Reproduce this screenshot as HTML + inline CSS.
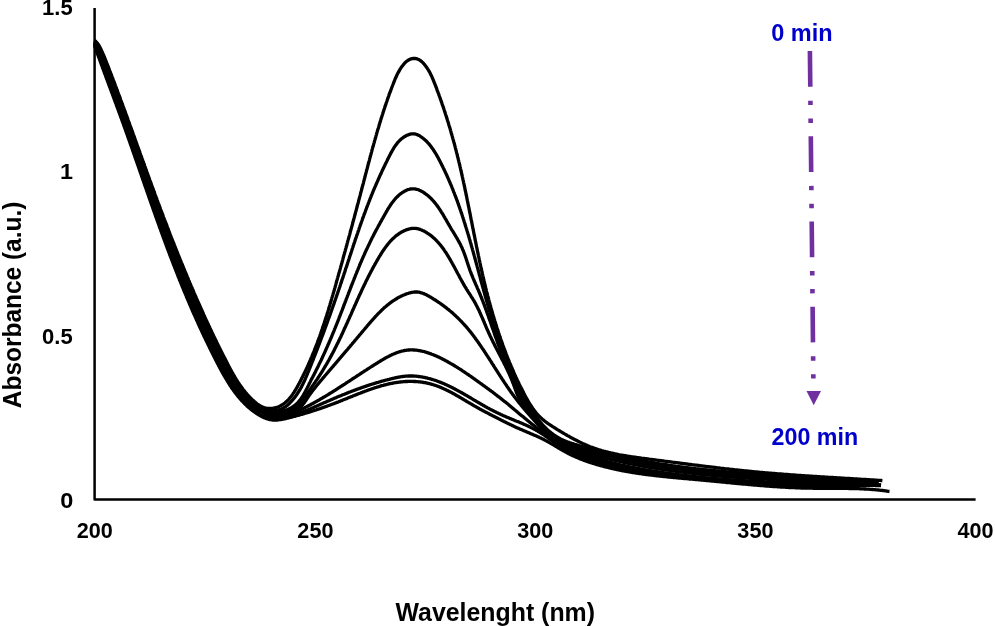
<!DOCTYPE html>
<html><head><meta charset="utf-8"><title>UV-Vis spectra</title>
<style>
html,body{margin:0;padding:0;background:#fff;}
body{width:995px;height:626px;overflow:hidden;}
svg{display:block;will-change:transform;}
text{font-family:"Liberation Sans",sans-serif;font-weight:bold;}
</style></head><body>
<svg width="995" height="626" viewBox="0 0 995 626">
<rect width="995" height="626" fill="#fff"/>
<g fill="none" stroke="#000" stroke-width="3.3" stroke-linejoin="round" stroke-linecap="butt">
<path d="M94.5,40.3 L95.3,41.0 L96.1,41.8 L96.8,42.6 L97.5,43.4 L98.1,44.3 L98.7,45.1 L99.3,46.1 L99.8,47.0 L100.3,48.0 L100.8,48.9 L101.2,49.9 L101.7,50.9 L102.1,51.9 L102.6,52.9 L103.0,53.9 L103.5,54.9 L103.9,55.9 L104.3,56.9 L104.7,57.9 L105.1,59.0 L105.6,60.0 L106.0,61.0 L106.4,62.0 L106.8,63.1 L107.2,64.1 L107.6,65.1 L108.0,66.2 L108.4,67.2 L108.8,68.2 L109.2,69.2 L109.6,70.3 L110.0,71.3 L110.4,72.3 L110.8,73.4 L111.2,74.4 L111.6,75.4 L112.0,76.5 L112.4,77.5 L112.8,78.5 L113.2,79.6 L113.6,80.6 L113.9,81.6 L114.3,82.7 L114.7,83.7 L115.1,84.7 L115.5,85.8 L115.9,86.8 L116.3,87.8 L116.7,88.9 L117.1,89.9 L117.5,91.0 L117.8,92.0 L118.2,93.0 L118.6,94.1 L119.0,95.1 L119.4,96.1 L119.8,97.2 L120.2,98.2 L120.5,99.2 L120.9,100.3 L121.3,101.3 L121.7,102.4 L122.1,103.4 L122.5,104.4 L122.8,105.5 L123.2,106.5 L123.6,107.5 L124.0,108.6 L124.4,109.6 L124.7,110.7 L125.1,111.7 L125.5,112.7 L125.9,113.8 L126.3,114.8 L126.6,115.9 L127.0,116.9 L127.4,117.9 L127.8,119.0 L128.1,120.0 L128.5,121.1 L128.9,122.1 L129.3,123.1 L129.7,124.2 L130.0,125.2 L130.4,126.3 L130.8,127.3 L131.2,128.3 L131.5,129.4 L131.9,130.4 L132.3,131.4 L132.7,132.5 L133.0,133.5 L133.4,134.6 L133.8,135.6 L134.2,136.6 L134.5,137.7 L134.9,138.7 L135.3,139.8 L135.7,140.8 L136.0,141.8 L136.4,142.9 L136.8,143.9 L137.1,145.0 L137.5,146.0 L137.9,147.0 L138.3,148.1 L138.6,149.1 L139.0,150.2 L139.4,151.2 L139.8,152.2 L140.1,153.3 L140.5,154.3 L140.9,155.4 L141.3,156.4 L141.6,157.4 L142.0,158.5 L142.4,159.5 L142.8,160.6 L143.1,161.6 L143.5,162.6 L143.9,163.7 L144.3,164.7 L144.6,165.8 L145.0,166.8 L145.4,167.8 L145.8,168.9 L146.1,169.9 L146.5,170.9 L146.9,172.0 L147.3,173.0 L147.6,174.1 L148.0,175.1 L148.4,176.1 L148.8,177.2 L149.1,178.2 L149.5,179.2 L149.9,180.3 L150.3,181.3 L150.7,182.4 L151.0,183.4 L151.4,184.4 L151.8,185.5 L152.2,186.5 L152.6,187.5 L152.9,188.6 L153.3,189.6 L153.7,190.6 L154.1,191.7 L154.5,192.7 L154.8,193.7 L155.2,194.8 L155.6,195.8 L156.0,196.9 L156.4,197.9 L156.8,198.9 L157.1,200.0 L157.5,201.0 L157.9,202.0 L158.3,203.1 L158.7,204.1 L159.1,205.1 L159.5,206.2 L159.8,207.2 L160.2,208.2 L160.6,209.3 L161.0,210.3 L161.4,211.3 L161.8,212.3 L162.2,213.4 L162.6,214.4 L162.9,215.4 L163.3,216.5 L163.7,217.5 L164.1,218.5 L164.5,219.6 L164.9,220.6 L165.3,221.6 L165.7,222.7 L166.1,223.7 L166.5,224.7 L166.9,225.7 L167.3,226.8 L167.7,227.8 L168.1,228.8 L168.4,229.9 L168.8,230.9 L169.2,231.9 L169.6,232.9 L170.0,234.0 L170.4,235.0 L170.8,236.0 L171.2,237.0 L171.6,238.1 L172.0,239.1 L172.4,240.1 L172.8,241.1 L173.2,242.2 L173.7,243.2 L174.1,244.2 L174.5,245.3 L174.9,246.3 L175.3,247.3 L175.7,248.3 L176.1,249.3 L176.5,250.4 L176.9,251.4 L177.3,252.4 L177.7,253.4 L178.1,254.5 L178.5,255.5 L179.0,256.5 L179.4,257.5 L179.8,258.6 L180.2,259.6 L180.6,260.6 L181.0,261.6 L181.4,262.6 L181.9,263.7 L182.3,264.7 L182.7,265.7 L183.1,266.7 L183.5,267.7 L183.9,268.8 L184.4,269.8 L184.8,270.8 L185.2,271.8 L185.6,272.8 L186.1,273.9 L186.5,274.9 L186.9,275.9 L187.3,276.9 L187.8,277.9 L188.2,278.9 L188.6,280.0 L189.0,281.0 L189.5,282.0 L189.9,283.0 L190.3,284.0 L190.8,285.0 L191.2,286.1 L191.6,287.1 L192.1,288.1 L192.5,289.1 L192.9,290.1 L193.4,291.1 L193.8,292.1 L194.2,293.1 L194.7,294.2 L195.1,295.2 L195.6,296.2 L196.0,297.2 L196.4,298.2 L196.9,299.2 L197.3,300.2 L197.8,301.2 L198.2,302.3 L198.7,303.3 L199.1,304.3 L199.6,305.3 L200.0,306.3 L200.5,307.3 L200.9,308.3 L201.4,309.3 L201.8,310.3 L202.3,311.3 L202.7,312.3 L203.2,313.3 L203.6,314.4 L204.1,315.4 L204.6,316.4 L205.0,317.4 L205.5,318.4 L205.9,319.4 L206.4,320.4 L206.9,321.4 L207.3,322.4 L207.8,323.4 L208.3,324.4 L208.7,325.4 L209.2,326.4 L209.7,327.4 L210.1,328.4 L210.6,329.4 L211.1,330.4 L211.6,331.4 L212.0,332.4 L212.5,333.4 L213.0,334.4 L213.5,335.4 L213.9,336.4 L214.4,337.4 L214.9,338.4 L215.4,339.4 L215.9,340.4 L216.4,341.4 L216.8,342.4 L217.3,343.4 L217.8,344.4 L218.3,345.4 L218.8,346.4 L219.3,347.4 L219.8,348.4 L220.3,349.4 L220.8,350.4 L221.3,351.4 L221.8,352.4 L222.3,353.4 L222.8,354.4 L223.3,355.4 L223.8,356.4 L224.3,357.4 L224.8,358.3 L225.3,359.3 L225.8,360.3 L226.3,361.3 L226.8,362.3 L227.3,363.3 L227.8,364.3 L228.3,365.3 L228.8,366.3 L229.4,367.2 L229.9,368.2 L230.4,369.2 L230.9,370.2 L231.5,371.2 L232.0,372.1 L232.6,373.1 L233.1,374.1 L233.7,375.0 L234.2,376.0 L234.8,376.9 L235.3,377.9 L235.9,378.8 L236.5,379.8 L237.1,380.7 L237.7,381.7 L238.3,382.6 L238.9,383.5 L239.5,384.4 L240.1,385.3 L240.8,386.2 L241.4,387.1 L242.1,388.0 L242.7,388.9 L243.4,389.8 L244.1,390.6 L244.8,391.5 L245.4,392.3 L246.2,393.2 L246.9,394.0 L247.6,394.8 L248.3,395.7 L249.1,396.5 L249.9,397.3 L250.6,398.1 L251.4,398.8 L252.2,399.6 L253.0,400.4 L253.9,401.1 L254.7,401.9 L255.6,402.6 L256.4,403.3 L257.3,404.0 L258.2,404.6 L259.1,405.3 L260.1,405.8 L261.0,406.4 L262.0,406.8 L263.0,407.2 L264.0,407.6 L265.1,407.9 L266.1,408.1 L267.1,408.3 L268.2,408.4 L269.3,408.4 L270.3,408.4 L271.4,408.4 L272.4,408.3 L273.5,408.1 L274.5,407.9 L275.6,407.7 L276.6,407.4 L277.6,407.1 L278.6,406.7 L279.5,406.3 L280.5,405.8 L281.4,405.3 L282.3,404.8 L283.1,404.2 L284.0,403.6 L284.8,403.0 L285.6,402.3 L286.4,401.6 L287.2,400.9 L287.9,400.1 L288.7,399.3 L289.4,398.5 L290.1,397.7 L290.8,396.8 L291.5,396.0 L292.1,395.1 L292.8,394.1 L293.4,393.2 L294.0,392.3 L294.6,391.3 L295.2,390.3 L295.8,389.4 L296.4,388.4 L297.0,387.4 L297.5,386.4 L298.1,385.3 L298.6,384.3 L299.2,383.3 L299.7,382.3 L300.3,381.3 L300.8,380.2 L301.3,379.2 L301.8,378.2 L302.4,377.2 L302.9,376.1 L303.4,375.1 L303.9,374.1 L304.4,373.1 L304.9,372.0 L305.4,371.0 L305.8,370.0 L306.3,369.0 L306.8,367.9 L307.3,366.9 L307.7,365.9 L308.2,364.9 L308.7,363.8 L309.1,362.8 L309.6,361.8 L310.0,360.8 L310.5,359.7 L310.9,358.7 L311.3,357.7 L311.8,356.6 L312.2,355.6 L312.6,354.6 L313.1,353.6 L313.5,352.5 L313.9,351.5 L314.3,350.5 L314.7,349.4 L315.1,348.4 L315.5,347.4 L315.9,346.3 L316.3,345.3 L316.7,344.3 L317.1,343.3 L317.5,342.2 L317.9,341.2 L318.3,340.2 L318.6,339.1 L319.0,338.1 L319.4,337.1 L319.8,336.0 L320.1,335.0 L320.5,334.0 L320.9,332.9 L321.2,331.9 L321.6,330.9 L321.9,329.8 L322.3,328.8 L322.6,327.7 L323.0,326.7 L323.3,325.7 L323.7,324.6 L324.0,323.6 L324.4,322.6 L324.7,321.5 L325.0,320.5 L325.4,319.4 L325.7,318.4 L326.0,317.4 L326.4,316.3 L326.7,315.3 L327.0,314.2 L327.4,313.2 L327.7,312.2 L328.0,311.1 L328.3,310.1 L328.6,309.0 L328.9,308.0 L329.3,306.9 L329.6,305.9 L329.9,304.9 L330.2,303.8 L330.5,302.8 L330.8,301.7 L331.1,300.7 L331.4,299.6 L331.7,298.6 L332.0,297.5 L332.4,296.5 L332.7,295.4 L333.0,294.4 L333.3,293.3 L333.6,292.3 L333.9,291.2 L334.2,290.2 L334.5,289.1 L334.8,288.1 L335.1,287.0 L335.4,286.0 L335.7,284.9 L336.0,283.9 L336.3,282.8 L336.5,281.8 L336.8,280.7 L337.1,279.7 L337.4,278.6 L337.7,277.6 L338.0,276.5 L338.3,275.5 L338.6,274.4 L338.9,273.3 L339.2,272.3 L339.5,271.2 L339.8,270.2 L340.1,269.1 L340.4,268.1 L340.7,267.0 L341.0,265.9 L341.3,264.9 L341.6,263.8 L341.9,262.8 L342.2,261.7 L342.5,260.6 L342.8,259.6 L343.0,258.5 L343.3,257.5 L343.6,256.4 L343.9,255.3 L344.2,254.3 L344.5,253.2 L344.8,252.1 L345.1,251.1 L345.4,250.0 L345.7,248.9 L346.0,247.9 L346.3,246.8 L346.6,245.7 L346.9,244.7 L347.1,243.6 L347.4,242.6 L347.7,241.5 L348.0,240.4 L348.3,239.4 L348.6,238.3 L348.9,237.2 L349.2,236.1 L349.5,235.1 L349.8,234.0 L350.1,232.9 L350.3,231.9 L350.6,230.8 L350.9,229.7 L351.2,228.7 L351.5,227.6 L351.8,226.5 L352.1,225.5 L352.4,224.4 L352.7,223.3 L352.9,222.3 L353.2,221.2 L353.5,220.1 L353.8,219.0 L354.1,218.0 L354.4,216.9 L354.7,215.8 L355.0,214.8 L355.2,213.7 L355.5,212.6 L355.8,211.5 L356.1,210.5 L356.4,209.4 L356.7,208.3 L357.0,207.3 L357.2,206.2 L357.5,205.1 L357.8,204.0 L358.1,203.0 L358.4,201.9 L358.7,200.8 L358.9,199.8 L359.2,198.7 L359.5,197.6 L359.8,196.5 L360.1,195.5 L360.4,194.4 L360.6,193.3 L360.9,192.2 L361.2,191.2 L361.5,190.1 L361.8,189.0 L362.0,188.0 L362.3,186.9 L362.6,185.8 L362.9,184.7 L363.2,183.7 L363.5,182.6 L363.7,181.5 L364.0,180.5 L364.3,179.4 L364.6,178.3 L364.9,177.2 L365.1,176.2 L365.4,175.1 L365.7,174.0 L366.0,172.9 L366.3,171.9 L366.5,170.8 L366.8,169.7 L367.1,168.7 L367.4,167.6 L367.7,166.5 L367.9,165.5 L368.2,164.4 L368.5,163.3 L368.8,162.2 L369.1,161.2 L369.4,160.1 L369.6,159.0 L369.9,158.0 L370.2,156.9 L370.5,155.8 L370.8,154.8 L371.1,153.7 L371.4,152.6 L371.7,151.6 L371.9,150.5 L372.2,149.4 L372.5,148.4 L372.8,147.3 L373.1,146.2 L373.4,145.2 L373.7,144.1 L374.0,143.1 L374.3,142.0 L374.6,140.9 L374.9,139.9 L375.2,138.8 L375.5,137.7 L375.8,136.7 L376.1,135.6 L376.4,134.6 L376.7,133.5 L377.0,132.4 L377.3,131.4 L377.6,130.3 L377.9,129.3 L378.3,128.2 L378.6,127.2 L378.9,126.1 L379.2,125.0 L379.5,124.0 L379.8,122.9 L380.2,121.9 L380.5,120.8 L380.8,119.8 L381.1,118.7 L381.5,117.7 L381.8,116.6 L382.1,115.6 L382.5,114.5 L382.8,113.5 L383.1,112.4 L383.5,111.4 L383.8,110.3 L384.1,109.3 L384.5,108.3 L384.8,107.2 L385.2,106.2 L385.5,105.1 L385.9,104.1 L386.2,103.0 L386.6,102.0 L387.0,101.0 L387.3,99.9 L387.7,98.9 L388.0,97.8 L388.4,96.8 L388.8,95.8 L389.1,94.7 L389.5,93.7 L389.9,92.7 L390.3,91.6 L390.7,90.6 L391.0,89.6 L391.4,88.6 L391.8,87.5 L392.2,86.5 L392.6,85.5 L393.0,84.5 L393.4,83.4 L393.8,82.4 L394.2,81.4 L394.6,80.4 L395.0,79.3 L395.5,78.3 L395.9,77.3 L396.4,76.3 L396.8,75.3 L397.3,74.3 L397.8,73.3 L398.3,72.4 L398.9,71.4 L399.4,70.4 L400.0,69.4 L400.6,68.5 L401.2,67.5 L401.9,66.6 L402.6,65.7 L403.3,64.8 L404.0,63.9 L404.8,63.0 L405.6,62.2 L406.4,61.5 L407.3,60.8 L408.2,60.2 L409.1,59.7 L410.1,59.2 L411.1,58.9 L412.1,58.6 L413.1,58.5 L414.2,58.4 L415.2,58.5 L416.2,58.6 L417.2,58.9 L418.1,59.3 L419.1,59.7 L420.0,60.3 L420.8,60.9 L421.7,61.6 L422.5,62.4 L423.3,63.2 L424.1,64.1 L424.8,65.0 L425.6,65.9 L426.2,66.8 L426.9,67.8 L427.5,68.7 L428.1,69.7 L428.7,70.6 L429.3,71.6 L429.8,72.6 L430.3,73.6 L430.8,74.6 L431.3,75.5 L431.8,76.5 L432.2,77.5 L432.6,78.6 L433.1,79.6 L433.5,80.6 L433.9,81.6 L434.3,82.6 L434.7,83.6 L435.1,84.6 L435.5,85.7 L435.9,86.7 L436.3,87.7 L436.7,88.7 L437.0,89.8 L437.4,90.8 L437.8,91.8 L438.2,92.9 L438.6,93.9 L438.9,94.9 L439.3,96.0 L439.7,97.0 L440.1,98.0 L440.4,99.1 L440.8,100.1 L441.2,101.1 L441.5,102.2 L441.9,103.2 L442.2,104.3 L442.6,105.3 L443.0,106.3 L443.3,107.4 L443.7,108.4 L444.0,109.5 L444.4,110.5 L444.7,111.6 L445.1,112.6 L445.4,113.7 L445.7,114.7 L446.1,115.8 L446.4,116.8 L446.7,117.9 L447.1,118.9 L447.4,120.0 L447.7,121.0 L448.1,122.1 L448.4,123.1 L448.7,124.2 L449.0,125.3 L449.3,126.3 L449.7,127.4 L450.0,128.4 L450.3,129.5 L450.6,130.6 L450.9,131.6 L451.2,132.7 L451.5,133.7 L451.8,134.8 L452.1,135.9 L452.4,136.9 L452.7,138.0 L453.0,139.1 L453.3,140.1 L453.6,141.2 L453.9,142.3 L454.2,143.3 L454.5,144.4 L454.8,145.5 L455.1,146.5 L455.3,147.6 L455.6,148.7 L455.9,149.8 L456.2,150.8 L456.4,151.9 L456.7,153.0 L457.0,154.0 L457.3,155.1 L457.5,156.2 L457.8,157.3 L458.1,158.3 L458.3,159.4 L458.6,160.5 L458.8,161.6 L459.1,162.6 L459.4,163.7 L459.6,164.8 L459.9,165.9 L460.1,166.9 L460.4,168.0 L460.6,169.1 L460.9,170.2 L461.1,171.2 L461.4,172.3 L461.6,173.4 L461.8,174.5 L462.1,175.5 L462.3,176.6 L462.6,177.7 L462.8,178.8 L463.0,179.9 L463.3,180.9 L463.5,182.0 L463.7,183.1 L464.0,184.2 L464.2,185.3 L464.4,186.3 L464.7,187.4 L464.9,188.5 L465.1,189.6 L465.3,190.7 L465.6,191.7 L465.8,192.8 L466.0,193.9 L466.2,195.0 L466.5,196.1 L466.7,197.1 L466.9,198.2 L467.1,199.3 L467.3,200.4 L467.6,201.5 L467.8,202.6 L468.0,203.6 L468.2,204.7 L468.4,205.8 L468.7,206.9 L468.9,208.0 L469.1,209.1 L469.3,210.1 L469.5,211.2 L469.7,212.3 L470.0,213.4 L470.2,214.5 L470.4,215.5 L470.6,216.6 L470.8,217.7 L471.0,218.8 L471.2,219.9 L471.5,221.0 L471.7,222.0 L471.9,223.1 L472.1,224.2 L472.3,225.3 L472.5,226.4 L472.7,227.5 L472.9,228.5 L473.2,229.6 L473.4,230.7 L473.6,231.8 L473.8,232.9 L474.0,234.0 L474.2,235.0 L474.5,236.1 L474.7,237.2 L474.9,238.3 L475.1,239.4 L475.3,240.5 L475.5,241.5 L475.8,242.6 L476.0,243.7 L476.2,244.8 L476.4,245.9 L476.6,246.9 L476.9,248.0 L477.1,249.1 L477.3,250.2 L477.5,251.3 L477.7,252.3 L478.0,253.4 L478.2,254.5 L478.4,255.6 L478.7,256.7 L478.9,257.7 L479.1,258.8 L479.3,259.9 L479.6,261.0 L479.8,262.1 L480.0,263.1 L480.3,264.2 L480.5,265.3 L480.7,266.4 L481.0,267.5 L481.2,268.5 L481.5,269.6 L481.7,270.7 L481.9,271.8 L482.2,272.8 L482.4,273.9 L482.7,275.0 L482.9,276.1 L483.2,277.1 L483.4,278.2 L483.7,279.3 L483.9,280.4 L484.2,281.4 L484.4,282.5 L484.7,283.6 L484.9,284.7 L485.2,285.7 L485.5,286.8 L485.7,287.9 L486.0,288.9 L486.3,290.0 L486.5,291.1 L486.8,292.2 L487.1,293.2 L487.3,294.3 L487.6,295.4 L487.9,296.4 L488.2,297.5 L488.5,298.6 L488.7,299.6 L489.0,300.7 L489.3,301.8 L489.6,302.8 L489.9,303.9 L490.2,305.0 L490.5,306.0 L490.8,307.1 L491.1,308.2 L491.4,309.2 L491.7,310.3 L492.0,311.3 L492.3,312.4 L492.6,313.5 L492.9,314.5 L493.2,315.6 L493.5,316.7 L493.9,317.7 L494.2,318.8 L494.5,319.8 L494.8,320.9 L495.1,321.9 L495.5,323.0 L495.8,324.0 L496.1,325.1 L496.5,326.2 L496.8,327.2 L497.1,328.3 L497.5,329.3 L497.8,330.4 L498.2,331.4 L498.5,332.5 L498.9,333.5 L499.2,334.5 L499.6,335.6 L499.9,336.6 L500.3,337.7 L500.6,338.7 L501.0,339.8 L501.4,340.8 L501.7,341.9 L502.1,342.9 L502.5,343.9 L502.8,345.0 L503.2,346.0 L503.6,347.0 L504.0,348.1 L504.4,349.1 L504.8,350.2 L505.1,351.2 L505.5,352.2 L505.9,353.2 L506.3,354.3 L506.7,355.3 L507.1,356.3 L507.5,357.4 L507.9,358.4 L508.3,359.4 L508.8,360.4 L509.2,361.5 L509.6,362.5 L510.0,363.5 L510.4,364.5 L510.9,365.5 L511.3,366.6 L511.7,367.6 L512.2,368.6 L512.6,369.6 L513.0,370.6 L513.5,371.6 L513.9,372.6 L514.4,373.7 L514.8,374.7 L515.3,375.7 L515.7,376.7 L516.2,377.7 L516.7,378.7 L517.1,379.7 L517.6,380.7 L518.1,381.7 L518.6,382.7 L519.0,383.7 L519.5,384.7 L520.0,385.7 L520.5,386.7 L521.0,387.6 L521.5,388.6 L522.0,389.6 L522.5,390.6 L523.0,391.6 L523.5,392.6 L524.0,393.6 L524.5,394.5 L525.0,395.5 L525.6,396.5 L526.1,397.5 L526.6,398.4 L527.2,399.4 L527.7,400.4 L528.3,401.3 L528.8,402.3 L529.4,403.2 L530.0,404.2 L530.6,405.1 L531.2,406.0 L531.8,406.9 L532.4,407.9 L533.0,408.7 L533.6,409.6 L534.3,410.5 L534.9,411.4 L535.6,412.2 L536.3,413.1 L537.0,413.9 L537.7,414.7 L538.5,415.5 L539.2,416.3 L540.0,417.0 L540.8,417.8 L541.6,418.5 L542.4,419.2 L543.3,419.9 L544.1,420.6 L545.0,421.3 L545.8,422.0 L546.7,422.6 L547.6,423.3 L548.5,423.9 L549.4,424.5 L550.4,425.1 L551.3,425.7 L552.2,426.3 L553.2,426.9 L554.1,427.5 L555.1,428.1 L556.0,428.7 L556.9,429.3 L557.9,429.9 L558.8,430.5 L559.8,431.0 L560.8,431.6 L561.7,432.2 L562.7,432.8 L563.6,433.3 L564.6,433.9 L565.5,434.4 L566.5,435.0 L567.5,435.6 L568.4,436.1 L569.4,436.6 L570.3,437.2 L571.3,437.7 L572.3,438.2 L573.3,438.8 L574.2,439.3 L575.2,439.8 L576.2,440.3 L577.2,440.8 L578.1,441.3 L579.1,441.8 L580.1,442.3 L581.1,442.7 L582.1,443.2 L583.1,443.7 L584.1,444.1 L585.1,444.6 L586.1,445.0 L587.1,445.4 L588.1,445.9 L589.1,446.3 L590.1,446.7 L591.2,447.1 L592.2,447.4 L593.2,447.8 L594.2,448.2 L595.3,448.5 L596.3,448.9 L597.3,449.2 L598.4,449.6 L599.4,449.9 L600.5,450.2 L601.5,450.5 L602.6,450.8 L603.6,451.1 L604.7,451.4 L605.8,451.7 L606.8,451.9 L607.9,452.2 L609.0,452.5 L610.0,452.7 L611.1,453.0 L612.2,453.2 L613.2,453.4 L614.3,453.7 L615.4,453.9 L616.5,454.1 L617.6,454.3 L618.6,454.6 L619.7,454.8 L620.8,455.0 L621.9,455.2 L623.0,455.4 L624.1,455.5 L625.2,455.7 L626.3,455.9 L627.4,456.1 L628.5,456.3 L629.6,456.4 L630.7,456.6 L631.8,456.8 L632.9,456.9 L634.0,457.1 L635.1,457.2 L636.2,457.4 L637.3,457.6 L638.4,457.7 L639.5,457.9 L640.6,458.0 L641.7,458.2 L642.8,458.3 L643.9,458.4 L645.0,458.6 L646.1,458.7 L647.2,458.9 L648.3,459.0 L649.4,459.2 L650.5,459.3 L651.6,459.4 L652.7,459.6 L653.8,459.7 L654.9,459.9 L656.0,460.0 L657.1,460.2 L658.2,460.3 L659.3,460.4 L660.4,460.6 L661.5,460.7 L662.6,460.9 L663.7,461.0 L664.8,461.2 L665.9,461.3 L667.0,461.4 L668.1,461.6 L669.2,461.7 L670.3,461.9 L671.4,462.0 L672.5,462.2 L673.6,462.3 L674.7,462.4 L675.8,462.6 L676.9,462.7 L678.0,462.9 L679.1,463.0 L680.2,463.1 L681.3,463.3 L682.4,463.4 L683.5,463.6 L684.6,463.7 L685.7,463.9 L686.8,464.0 L687.9,464.1 L688.9,464.3 L690.0,464.4 L691.1,464.5 L692.2,464.7 L693.3,464.8 L694.4,465.0 L695.5,465.1 L696.6,465.2 L697.7,465.4 L698.8,465.5 L699.9,465.6 L701.0,465.8 L702.1,465.9 L703.2,466.1 L704.3,466.2 L705.3,466.3 L706.4,466.5 L707.5,466.6 L708.6,466.7 L709.7,466.9 L710.8,467.0 L711.9,467.1 L713.0,467.2 L714.1,467.4 L715.2,467.5 L716.3,467.6 L717.4,467.8 L718.5,467.9 L719.6,468.0 L720.6,468.2 L721.7,468.3 L722.8,468.4 L723.9,468.5 L725.0,468.7 L726.1,468.8 L727.2,468.9 L728.3,469.0 L729.4,469.1 L730.5,469.3 L731.6,469.4 L732.7,469.5 L733.8,469.6 L734.9,469.8 L736.0,469.9 L737.1,470.0 L738.1,470.1 L739.2,470.2 L740.3,470.3 L741.4,470.4 L742.5,470.6 L743.6,470.7 L744.7,470.8 L745.8,470.9 L746.9,471.0 L748.0,471.1 L749.1,471.2 L750.2,471.3 L751.3,471.4 L752.4,471.6 L753.5,471.7 L754.6,471.8 L755.7,471.9 L756.8,472.0 L757.9,472.1 L759.0,472.2 L760.1,472.3 L761.2,472.4 L762.3,472.5 L763.4,472.6 L764.5,472.7 L765.6,472.8 L766.7,472.9 L767.8,473.0 L768.9,473.1 L770.0,473.1 L771.1,473.2 L772.2,473.3 L773.3,473.4 L774.4,473.5 L775.5,473.6 L776.6,473.7 L777.7,473.8 L778.8,473.9 L779.9,474.0 L781.0,474.0 L782.1,474.1 L783.2,474.2 L784.3,474.3 L785.4,474.4 L786.5,474.5 L787.6,474.5 L788.7,474.6 L789.8,474.7 L790.9,474.8 L792.0,474.9 L793.1,474.9 L794.2,475.0 L795.3,475.1 L796.4,475.2 L797.5,475.3 L798.6,475.3 L799.7,475.4 L800.8,475.5 L801.9,475.6 L803.0,475.6 L804.1,475.7 L805.2,475.8 L806.3,475.9 L807.4,475.9 L808.5,476.0 L809.6,476.1 L810.8,476.2 L811.9,476.2 L813.0,476.3 L814.1,476.4 L815.2,476.4 L816.3,476.5 L817.4,476.6 L818.5,476.6 L819.6,476.7 L820.7,476.8 L821.8,476.9 L822.9,476.9 L824.0,477.0 L825.1,477.1 L826.2,477.1 L827.3,477.2 L828.4,477.3 L829.5,477.3 L830.6,477.4 L831.7,477.5 L832.8,477.5 L833.9,477.6 L835.0,477.7 L836.1,477.7 L837.3,477.8 L838.4,477.9 L839.5,477.9 L840.6,478.0 L841.7,478.1 L842.8,478.1 L843.9,478.2 L845.0,478.3 L846.1,478.3 L847.2,478.4 L848.3,478.5 L849.4,478.5 L850.5,478.6 L851.6,478.7 L852.7,478.7 L853.8,478.8 L854.9,478.9 L856.0,478.9 L857.1,479.0 L858.2,479.1 L859.3,479.1 L860.4,479.2 L861.5,479.3 L862.6,479.3 L863.7,479.4 L864.8,479.5 L865.9,479.5 L867.0,479.6 L868.1,479.7 L869.2,479.7 L870.3,479.8 L871.4,479.9 L872.5,479.9 L873.6,480.0 L874.7,480.1 L875.8,480.1 L876.9,480.2 L878.0,480.3 L879.1,480.3 L880.2,480.4 L881.3,480.5 L882.4,480.6"/>
<path d="M94.5,41.0 L95.2,41.7 L95.9,42.4 L96.5,43.2 L97.1,43.9 L97.7,44.7 L98.2,45.5 L98.8,46.3 L99.3,47.1 L99.8,48.0 L100.2,48.8 L100.7,49.7 L101.1,50.6 L101.5,51.5 L101.9,52.4 L102.3,53.3 L102.7,54.2 L103.1,55.2 L103.4,56.1 L103.8,57.1 L104.1,58.0 L104.5,59.0 L104.8,59.9 L105.2,60.9 L105.5,61.9 L105.8,62.8 L106.2,63.8 L106.5,64.7 L106.9,65.7 L107.2,66.6 L107.5,67.6 L107.9,68.6 L108.2,69.5 L108.6,70.5 L108.9,71.4 L109.3,72.4 L109.6,73.3 L110.0,74.3 L110.3,75.2 L110.7,76.2 L111.0,77.1 L111.4,78.0 L111.7,79.0 L112.1,79.9 L112.5,80.9 L112.8,81.8 L113.2,82.8 L113.5,83.7 L113.9,84.6 L114.2,85.6 L114.6,86.5 L115.0,87.5 L115.3,88.4 L115.7,89.3 L116.0,90.3 L116.4,91.2 L116.8,92.2 L117.1,93.1 L117.5,94.0 L117.8,95.0 L118.2,95.9 L118.6,96.8 L118.9,97.8 L119.3,98.7 L119.6,99.7 L120.0,100.6 L120.4,101.5 L120.7,102.5 L121.1,103.4 L121.5,104.3 L121.8,105.3 L122.2,106.2 L122.5,107.1 L122.9,108.1 L123.3,109.0 L123.6,109.9 L124.0,110.9 L124.3,111.8 L124.7,112.8 L125.0,113.7 L125.4,114.6 L125.8,115.6 L126.1,116.5 L126.5,117.4 L126.8,118.4 L127.2,119.3 L127.5,120.3 L127.9,121.2 L128.3,122.1 L128.6,123.1 L129.0,124.0 L129.3,125.0 L129.7,125.9 L130.0,126.8 L130.4,127.8 L130.7,128.7 L131.1,129.7 L131.4,130.6 L131.8,131.6 L132.1,132.5 L132.5,133.4 L132.8,134.4 L133.1,135.3 L133.5,136.3 L133.8,137.2 L134.2,138.2 L134.5,139.1 L134.9,140.1 L135.2,141.0 L135.6,141.9 L135.9,142.9 L136.2,143.8 L136.6,144.8 L136.9,145.7 L137.3,146.7 L137.6,147.6 L137.9,148.6 L138.3,149.5 L138.6,150.5 L139.0,151.4 L139.3,152.4 L139.6,153.3 L140.0,154.3 L140.3,155.2 L140.7,156.2 L141.0,157.1 L141.3,158.1 L141.7,159.0 L142.0,160.0 L142.3,160.9 L142.7,161.9 L143.0,162.8 L143.4,163.8 L143.7,164.7 L144.0,165.7 L144.4,166.6 L144.7,167.6 L145.0,168.5 L145.4,169.5 L145.7,170.4 L146.0,171.4 L146.4,172.3 L146.7,173.3 L147.1,174.2 L147.4,175.2 L147.7,176.1 L148.1,177.1 L148.4,178.0 L148.7,179.0 L149.1,179.9 L149.4,180.9 L149.7,181.8 L150.1,182.8 L150.4,183.7 L150.8,184.7 L151.1,185.6 L151.4,186.6 L151.8,187.5 L152.1,188.5 L152.4,189.4 L152.8,190.4 L153.1,191.3 L153.4,192.3 L153.8,193.2 L154.1,194.2 L154.5,195.1 L154.8,196.1 L155.1,197.0 L155.5,198.0 L155.8,199.0 L156.2,199.9 L156.5,200.9 L156.8,201.8 L157.2,202.8 L157.5,203.7 L157.9,204.7 L158.2,205.6 L158.5,206.5 L158.9,207.5 L159.2,208.4 L159.6,209.4 L159.9,210.3 L160.2,211.3 L160.6,212.2 L160.9,213.2 L161.3,214.1 L161.6,215.1 L162.0,216.0 L162.3,217.0 L162.7,217.9 L163.0,218.9 L163.3,219.8 L163.7,220.8 L164.0,221.7 L164.4,222.7 L164.7,223.6 L165.1,224.6 L165.4,225.5 L165.8,226.4 L166.1,227.4 L166.5,228.3 L166.8,229.3 L167.2,230.2 L167.5,231.2 L167.9,232.1 L168.3,233.0 L168.6,234.0 L169.0,234.9 L169.3,235.9 L169.7,236.8 L170.0,237.8 L170.4,238.7 L170.7,239.6 L171.1,240.6 L171.5,241.5 L171.8,242.5 L172.2,243.4 L172.6,244.3 L172.9,245.3 L173.3,246.2 L173.6,247.2 L174.0,248.1 L174.4,249.0 L174.7,250.0 L175.1,250.9 L175.5,251.8 L175.8,252.8 L176.2,253.7 L176.6,254.6 L177.0,255.6 L177.3,256.5 L177.7,257.4 L178.1,258.4 L178.5,259.3 L178.8,260.2 L179.2,261.2 L179.6,262.1 L180.0,263.0 L180.3,263.9 L180.7,264.9 L181.1,265.8 L181.5,266.7 L181.9,267.7 L182.3,268.6 L182.7,269.5 L183.0,270.4 L183.4,271.4 L183.8,272.3 L184.2,273.2 L184.6,274.1 L185.0,275.1 L185.4,276.0 L185.8,276.9 L186.2,277.8 L186.6,278.7 L187.0,279.7 L187.4,280.6 L187.8,281.5 L188.2,282.4 L188.6,283.3 L189.0,284.3 L189.4,285.2 L189.8,286.1 L190.2,287.0 L190.6,287.9 L191.0,288.8 L191.4,289.8 L191.8,290.7 L192.2,291.6 L192.6,292.5 L193.0,293.4 L193.4,294.3 L193.9,295.3 L194.3,296.2 L194.7,297.1 L195.1,298.0 L195.5,298.9 L195.9,299.8 L196.3,300.7 L196.8,301.6 L197.2,302.6 L197.6,303.5 L198.0,304.4 L198.4,305.3 L198.8,306.2 L199.3,307.1 L199.7,308.0 L200.1,308.9 L200.5,309.8 L201.0,310.8 L201.4,311.7 L201.8,312.6 L202.2,313.5 L202.7,314.4 L203.1,315.3 L203.5,316.2 L203.9,317.1 L204.4,318.0 L204.8,318.9 L205.2,319.9 L205.7,320.8 L206.1,321.7 L206.5,322.6 L206.9,323.5 L207.4,324.4 L207.8,325.3 L208.2,326.2 L208.7,327.1 L209.1,328.0 L209.5,329.0 L210.0,329.9 L210.4,330.8 L210.8,331.7 L211.3,332.6 L211.7,333.5 L212.1,334.4 L212.6,335.3 L213.0,336.2 L213.5,337.2 L213.9,338.1 L214.3,339.0 L214.8,339.9 L215.2,340.8 L215.6,341.7 L216.1,342.6 L216.5,343.5 L217.0,344.4 L217.4,345.4 L217.8,346.3 L218.3,347.2 L218.7,348.1 L219.1,349.0 L219.6,349.9 L220.0,350.8 L220.5,351.8 L220.9,352.7 L221.4,353.6 L221.8,354.5 L222.2,355.4 L222.7,356.3 L223.1,357.3 L223.6,358.2 L224.0,359.1 L224.4,360.0 L224.9,360.9 L225.3,361.9 L225.8,362.8 L226.2,363.7 L226.6,364.6 L227.1,365.5 L227.5,366.4 L228.0,367.4 L228.4,368.3 L228.9,369.2 L229.4,370.1 L229.8,371.0 L230.3,371.9 L230.7,372.8 L231.2,373.7 L231.7,374.6 L232.2,375.5 L232.7,376.4 L233.1,377.3 L233.6,378.1 L234.1,379.0 L234.6,379.9 L235.2,380.8 L235.7,381.6 L236.2,382.5 L236.7,383.3 L237.3,384.2 L237.8,385.0 L238.4,385.8 L238.9,386.7 L239.5,387.5 L240.1,388.3 L240.7,389.1 L241.3,389.9 L241.9,390.7 L242.5,391.4 L243.2,392.2 L243.8,393.0 L244.5,393.7 L245.1,394.5 L245.8,395.2 L246.5,395.9 L247.2,396.6 L247.9,397.3 L248.6,398.0 L249.3,398.7 L250.1,399.4 L250.9,400.0 L251.6,400.7 L252.4,401.3 L253.2,401.9 L254.0,402.6 L254.9,403.2 L255.7,403.7 L256.6,404.3 L257.5,404.9 L258.4,405.4 L259.3,405.9 L260.2,406.4 L261.1,406.9 L262.0,407.4 L263.0,407.8 L263.9,408.2 L264.8,408.6 L265.8,408.9 L266.8,409.2 L267.7,409.5 L268.7,409.8 L269.6,410.0 L270.6,410.2 L271.6,410.3 L272.5,410.4 L273.5,410.5 L274.4,410.5 L275.4,410.4 L276.3,410.4 L277.2,410.2 L278.2,410.1 L279.1,409.8 L280.0,409.5 L280.9,409.2 L281.7,408.8 L282.6,408.4 L283.5,408.0 L284.3,407.5 L285.1,406.9 L286.0,406.3 L286.8,405.7 L287.6,405.1 L288.3,404.4 L289.1,403.7 L289.9,403.0 L290.6,402.2 L291.3,401.5 L292.0,400.7 L292.7,399.9 L293.4,399.0 L294.1,398.2 L294.7,397.4 L295.4,396.5 L296.0,395.7 L296.6,394.8 L297.2,394.0 L297.7,393.1 L298.3,392.3 L298.8,391.4 L299.4,390.5 L299.9,389.6 L300.4,388.8 L300.9,387.9 L301.4,387.0 L301.8,386.1 L302.3,385.2 L302.8,384.3 L303.2,383.4 L303.6,382.5 L304.1,381.6 L304.5,380.7 L304.9,379.8 L305.3,378.9 L305.7,378.0 L306.1,377.0 L306.5,376.1 L306.9,375.2 L307.3,374.3 L307.6,373.4 L308.0,372.5 L308.4,371.5 L308.8,370.6 L309.1,369.7 L309.5,368.8 L309.9,367.8 L310.3,366.9 L310.6,366.0 L311.0,365.1 L311.4,364.1 L311.7,363.2 L312.1,362.3 L312.5,361.4 L312.9,360.4 L313.2,359.5 L313.6,358.6 L313.9,357.6 L314.3,356.7 L314.7,355.8 L315.0,354.9 L315.4,353.9 L315.8,353.0 L316.1,352.1 L316.5,351.1 L316.9,350.2 L317.2,349.3 L317.6,348.3 L317.9,347.4 L318.3,346.5 L318.7,345.5 L319.0,344.6 L319.4,343.6 L319.7,342.7 L320.1,341.8 L320.4,340.8 L320.8,339.9 L321.1,339.0 L321.5,338.0 L321.8,337.1 L322.2,336.1 L322.6,335.2 L322.9,334.3 L323.3,333.3 L323.6,332.4 L324.0,331.4 L324.3,330.5 L324.7,329.5 L325.0,328.6 L325.3,327.7 L325.7,326.7 L326.0,325.8 L326.4,324.8 L326.7,323.9 L327.1,322.9 L327.4,322.0 L327.8,321.0 L328.1,320.1 L328.4,319.1 L328.8,318.2 L329.1,317.3 L329.5,316.3 L329.8,315.4 L330.2,314.4 L330.5,313.5 L330.8,312.5 L331.2,311.6 L331.5,310.6 L331.8,309.7 L332.2,308.7 L332.5,307.8 L332.8,306.8 L333.2,305.9 L333.5,304.9 L333.9,304.0 L334.2,303.0 L334.5,302.0 L334.8,301.1 L335.2,300.1 L335.5,299.2 L335.8,298.2 L336.2,297.3 L336.5,296.3 L336.8,295.4 L337.2,294.4 L337.5,293.5 L337.8,292.5 L338.1,291.6 L338.5,290.6 L338.8,289.6 L339.1,288.7 L339.4,287.7 L339.8,286.8 L340.1,285.8 L340.4,284.9 L340.7,283.9 L341.1,283.0 L341.4,282.0 L341.7,281.0 L342.0,280.1 L342.3,279.1 L342.7,278.2 L343.0,277.2 L343.3,276.2 L343.6,275.3 L343.9,274.3 L344.2,273.4 L344.6,272.4 L344.9,271.5 L345.2,270.5 L345.5,269.5 L345.8,268.6 L346.1,267.6 L346.5,266.7 L346.8,265.7 L347.1,264.7 L347.4,263.8 L347.7,262.8 L348.0,261.9 L348.3,260.9 L348.7,259.9 L349.0,259.0 L349.3,258.0 L349.6,257.1 L349.9,256.1 L350.2,255.2 L350.6,254.2 L350.9,253.2 L351.2,252.3 L351.5,251.3 L351.8,250.4 L352.1,249.4 L352.4,248.5 L352.8,247.5 L353.1,246.5 L353.4,245.6 L353.7,244.6 L354.0,243.7 L354.4,242.7 L354.7,241.8 L355.0,240.8 L355.3,239.8 L355.6,238.9 L356.0,237.9 L356.3,237.0 L356.6,236.0 L356.9,235.1 L357.3,234.1 L357.6,233.2 L357.9,232.2 L358.2,231.3 L358.6,230.3 L358.9,229.4 L359.2,228.4 L359.5,227.5 L359.9,226.5 L360.2,225.6 L360.5,224.6 L360.9,223.7 L361.2,222.7 L361.5,221.8 L361.9,220.8 L362.2,219.9 L362.5,218.9 L362.9,218.0 L363.2,217.1 L363.6,216.1 L363.9,215.2 L364.3,214.2 L364.6,213.3 L365.0,212.3 L365.3,211.4 L365.6,210.5 L366.0,209.5 L366.4,208.6 L366.7,207.6 L367.1,206.7 L367.4,205.8 L367.8,204.8 L368.1,203.9 L368.5,203.0 L368.9,202.0 L369.2,201.1 L369.6,200.2 L370.0,199.2 L370.3,198.3 L370.7,197.4 L371.1,196.4 L371.4,195.5 L371.8,194.6 L372.2,193.7 L372.6,192.7 L372.9,191.8 L373.3,190.9 L373.7,190.0 L374.1,189.0 L374.5,188.1 L374.9,187.2 L375.3,186.3 L375.7,185.4 L376.1,184.5 L376.5,183.5 L376.9,182.6 L377.3,181.7 L377.7,180.8 L378.1,179.9 L378.5,179.0 L378.9,178.0 L379.3,177.1 L379.7,176.2 L380.1,175.3 L380.6,174.4 L381.0,173.5 L381.4,172.6 L381.8,171.7 L382.2,170.7 L382.7,169.8 L383.1,168.9 L383.5,168.0 L384.0,167.1 L384.4,166.2 L384.8,165.3 L385.3,164.4 L385.7,163.4 L386.2,162.5 L386.6,161.6 L387.1,160.7 L387.5,159.8 L388.0,158.9 L388.4,157.9 L388.9,157.0 L389.3,156.1 L389.8,155.2 L390.3,154.3 L390.8,153.4 L391.2,152.5 L391.7,151.6 L392.2,150.7 L392.7,149.8 L393.3,148.9 L393.8,148.0 L394.3,147.2 L394.9,146.3 L395.5,145.5 L396.1,144.7 L396.7,143.9 L397.3,143.1 L397.9,142.3 L398.6,141.6 L399.3,140.9 L400.0,140.2 L400.7,139.5 L401.5,138.8 L402.3,138.2 L403.1,137.6 L403.9,137.0 L404.8,136.5 L405.7,136.0 L406.6,135.5 L407.5,135.1 L408.5,134.7 L409.4,134.4 L410.4,134.1 L411.3,133.9 L412.3,133.8 L413.3,133.8 L414.2,133.9 L415.2,134.0 L416.1,134.3 L417.0,134.6 L418.0,135.0 L418.9,135.4 L419.8,135.9 L420.6,136.5 L421.5,137.1 L422.3,137.7 L423.1,138.3 L423.9,139.0 L424.7,139.6 L425.4,140.3 L426.2,141.0 L426.9,141.7 L427.6,142.5 L428.2,143.2 L428.9,143.9 L429.6,144.7 L430.2,145.5 L430.8,146.3 L431.4,147.1 L432.0,147.9 L432.6,148.7 L433.2,149.5 L433.7,150.4 L434.3,151.2 L434.8,152.1 L435.4,153.0 L435.9,153.8 L436.4,154.7 L436.9,155.6 L437.4,156.5 L437.9,157.4 L438.4,158.3 L438.9,159.2 L439.3,160.1 L439.8,161.0 L440.3,161.9 L440.7,162.8 L441.2,163.7 L441.6,164.6 L442.1,165.5 L442.5,166.4 L443.0,167.3 L443.4,168.2 L443.9,169.1 L444.3,170.0 L444.7,171.0 L445.2,171.9 L445.6,172.8 L446.0,173.7 L446.4,174.6 L446.9,175.6 L447.3,176.5 L447.7,177.4 L448.1,178.3 L448.5,179.2 L448.9,180.2 L449.3,181.1 L449.7,182.0 L450.1,182.9 L450.5,183.9 L450.9,184.8 L451.3,185.7 L451.7,186.7 L452.0,187.6 L452.4,188.5 L452.8,189.5 L453.2,190.4 L453.5,191.3 L453.9,192.3 L454.3,193.2 L454.6,194.1 L455.0,195.1 L455.4,196.0 L455.7,197.0 L456.1,197.9 L456.4,198.9 L456.8,199.8 L457.1,200.7 L457.5,201.7 L457.8,202.6 L458.1,203.6 L458.5,204.5 L458.8,205.5 L459.1,206.4 L459.5,207.4 L459.8,208.3 L460.1,209.3 L460.5,210.2 L460.8,211.2 L461.1,212.1 L461.4,213.1 L461.8,214.0 L462.1,215.0 L462.4,215.9 L462.7,216.9 L463.0,217.8 L463.3,218.8 L463.6,219.7 L463.9,220.7 L464.2,221.7 L464.5,222.6 L464.8,223.6 L465.1,224.5 L465.4,225.5 L465.7,226.5 L466.0,227.4 L466.3,228.4 L466.6,229.3 L466.9,230.3 L467.2,231.3 L467.5,232.2 L467.8,233.2 L468.1,234.2 L468.4,235.1 L468.6,236.1 L468.9,237.0 L469.2,238.0 L469.5,239.0 L469.8,239.9 L470.1,240.9 L470.3,241.9 L470.6,242.8 L470.9,243.8 L471.2,244.8 L471.4,245.7 L471.7,246.7 L472.0,247.7 L472.3,248.6 L472.5,249.6 L472.8,250.6 L473.1,251.6 L473.3,252.5 L473.6,253.5 L473.9,254.5 L474.1,255.4 L474.4,256.4 L474.7,257.4 L474.9,258.3 L475.2,259.3 L475.5,260.3 L475.7,261.3 L476.0,262.2 L476.3,263.2 L476.5,264.2 L476.8,265.1 L477.1,266.1 L477.3,267.1 L477.6,268.1 L477.9,269.0 L478.1,270.0 L478.4,271.0 L478.6,271.9 L478.9,272.9 L479.2,273.9 L479.4,274.9 L479.7,275.8 L480.0,276.8 L480.2,277.8 L480.5,278.7 L480.7,279.7 L481.0,280.7 L481.3,281.7 L481.5,282.6 L481.8,283.6 L482.1,284.6 L482.3,285.5 L482.6,286.5 L482.9,287.5 L483.1,288.4 L483.4,289.4 L483.6,290.4 L483.9,291.4 L484.2,292.3 L484.5,293.3 L484.7,294.3 L485.0,295.2 L485.3,296.2 L485.5,297.2 L485.8,298.1 L486.1,299.1 L486.3,300.1 L486.6,301.0 L486.9,302.0 L487.2,303.0 L487.4,303.9 L487.7,304.9 L488.0,305.9 L488.3,306.8 L488.6,307.8 L488.8,308.8 L489.1,309.7 L489.4,310.7 L489.7,311.7 L490.0,312.6 L490.3,313.6 L490.6,314.6 L490.8,315.5 L491.1,316.5 L491.4,317.4 L491.7,318.4 L492.0,319.4 L492.3,320.3 L492.6,321.3 L492.9,322.3 L493.2,323.2 L493.5,324.2 L493.8,325.1 L494.1,326.1 L494.4,327.0 L494.7,328.0 L495.0,329.0 L495.3,329.9 L495.7,330.9 L496.0,331.8 L496.3,332.8 L496.6,333.7 L496.9,334.7 L497.2,335.6 L497.6,336.6 L497.9,337.5 L498.2,338.5 L498.6,339.4 L498.9,340.4 L499.2,341.3 L499.6,342.3 L499.9,343.2 L500.2,344.2 L500.6,345.1 L500.9,346.1 L501.3,347.0 L501.6,347.9 L502.0,348.9 L502.3,349.8 L502.7,350.8 L503.0,351.7 L503.4,352.6 L503.7,353.6 L504.1,354.5 L504.5,355.5 L504.8,356.4 L505.2,357.3 L505.6,358.3 L506.0,359.2 L506.3,360.1 L506.7,361.1 L507.1,362.0 L507.5,362.9 L507.9,363.9 L508.3,364.8 L508.7,365.7 L509.1,366.6 L509.4,367.6 L509.8,368.5 L510.2,369.4 L510.7,370.3 L511.1,371.3 L511.5,372.2 L511.9,373.1 L512.3,374.0 L512.7,374.9 L513.1,375.8 L513.6,376.8 L514.0,377.7 L514.4,378.6 L514.8,379.5 L515.3,380.4 L515.7,381.3 L516.1,382.2 L516.6,383.1 L517.0,384.0 L517.5,385.0 L517.9,385.9 L518.4,386.8 L518.8,387.7 L519.3,388.6 L519.7,389.5 L520.2,390.4 L520.6,391.3 L521.1,392.2 L521.6,393.1 L522.1,393.9 L522.5,394.8 L523.0,395.7 L523.5,396.6 L524.0,397.5 L524.5,398.4 L524.9,399.3 L525.4,400.2 L525.9,401.0 L526.4,401.9 L526.9,402.8 L527.5,403.7 L528.0,404.5 L528.5,405.4 L529.0,406.3 L529.5,407.1 L530.1,408.0 L530.6,408.8 L531.1,409.7 L531.7,410.5 L532.3,411.4 L532.8,412.2 L533.4,413.0 L533.9,413.9 L534.5,414.7 L535.1,415.5 L535.7,416.3 L536.3,417.1 L536.9,417.9 L537.5,418.7 L538.1,419.5 L538.7,420.3 L539.4,421.1 L540.0,421.8 L540.7,422.6 L541.3,423.3 L542.0,424.1 L542.7,424.8 L543.3,425.6 L544.0,426.3 L544.7,427.0 L545.4,427.7 L546.1,428.4 L546.9,429.1 L547.6,429.8 L548.3,430.5 L549.1,431.1 L549.8,431.8 L550.6,432.4 L551.4,433.0 L552.2,433.6 L553.0,434.2 L553.8,434.8 L554.6,435.4 L555.4,436.0 L556.3,436.5 L557.1,437.0 L558.0,437.5 L558.8,438.0 L559.7,438.5 L560.6,439.0 L561.5,439.4 L562.4,439.8 L563.3,440.2 L564.2,440.6 L565.2,441.0 L566.1,441.4 L567.0,441.7 L568.0,442.1 L568.9,442.4 L569.9,442.8 L570.9,443.1 L571.8,443.4 L572.8,443.7 L573.8,444.0 L574.7,444.3 L575.7,444.6 L576.7,444.9 L577.6,445.2 L578.6,445.5 L579.6,445.8 L580.5,446.1 L581.5,446.4 L582.5,446.7 L583.5,447.0 L584.4,447.3 L585.4,447.6 L586.4,447.9 L587.3,448.1 L588.3,448.4 L589.3,448.7 L590.2,449.0 L591.2,449.2 L592.2,449.5 L593.2,449.8 L594.1,450.0 L595.1,450.3 L596.1,450.6 L597.1,450.8 L598.0,451.1 L599.0,451.3 L600.0,451.6 L601.0,451.8 L601.9,452.1 L602.9,452.3 L603.9,452.6 L604.9,452.8 L605.8,453.1 L606.8,453.3 L607.8,453.5 L608.8,453.8 L609.7,454.0 L610.7,454.2 L611.7,454.5 L612.7,454.7 L613.7,454.9 L614.6,455.2 L615.6,455.4 L616.6,455.6 L617.6,455.8 L618.6,456.0 L619.5,456.3 L620.5,456.5 L621.5,456.7 L622.5,456.9 L623.5,457.1 L624.4,457.3 L625.4,457.5 L626.4,457.7 L627.4,457.9 L628.4,458.1 L629.4,458.3 L630.3,458.5 L631.3,458.7 L632.3,458.9 L633.3,459.1 L634.3,459.3 L635.3,459.5 L636.3,459.7 L637.2,459.9 L638.2,460.1 L639.2,460.3 L640.2,460.5 L641.2,460.6 L642.2,460.8 L643.2,461.0 L644.1,461.2 L645.1,461.4 L646.1,461.5 L647.1,461.7 L648.1,461.9 L649.1,462.0 L650.1,462.2 L651.1,462.4 L652.1,462.6 L653.1,462.7 L654.0,462.9 L655.0,463.0 L656.0,463.2 L657.0,463.4 L658.0,463.5 L659.0,463.7 L660.0,463.8 L661.0,464.0 L662.0,464.1 L663.0,464.3 L664.0,464.4 L665.0,464.6 L666.0,464.7 L666.9,464.9 L667.9,465.0 L668.9,465.2 L669.9,465.3 L670.9,465.5 L671.9,465.6 L672.9,465.8 L673.9,465.9 L674.9,466.0 L675.9,466.2 L676.9,466.3 L677.9,466.4 L678.9,466.6 L679.9,466.7 L680.9,466.8 L681.9,467.0 L682.9,467.1 L683.9,467.2 L684.9,467.3 L685.9,467.5 L686.9,467.6 L687.9,467.7 L688.9,467.8 L689.9,468.0 L690.9,468.1 L691.9,468.2 L692.9,468.3 L693.9,468.4 L694.9,468.5 L695.9,468.7 L696.9,468.8 L697.9,468.9 L698.9,469.0 L699.9,469.1 L700.9,469.2 L701.9,469.3 L702.9,469.4 L703.9,469.5 L704.9,469.6 L705.9,469.8 L706.9,469.9 L707.9,470.0 L708.9,470.1 L709.9,470.2 L710.9,470.3 L711.9,470.4 L712.9,470.5 L713.9,470.6 L714.9,470.7 L715.9,470.8 L716.9,470.9 L717.9,470.9 L718.9,471.0 L719.9,471.1 L720.9,471.2 L721.9,471.3 L722.9,471.4 L723.9,471.5 L724.9,471.6 L725.9,471.7 L726.9,471.8 L727.9,471.9 L728.9,471.9 L729.9,472.0 L730.9,472.1 L731.9,472.2 L732.9,472.3 L733.9,472.4 L734.9,472.5 L736.0,472.5 L737.0,472.6 L738.0,472.7 L739.0,472.8 L740.0,472.9 L741.0,472.9 L742.0,473.0 L743.0,473.1 L744.0,473.2 L745.0,473.3 L746.0,473.3 L747.0,473.4 L748.0,473.5 L749.0,473.6 L750.0,473.6 L751.0,473.7 L752.0,473.8 L753.0,473.9 L754.0,473.9 L755.1,474.0 L756.1,474.1 L757.1,474.2 L758.1,474.2 L759.1,474.3 L760.1,474.4 L761.1,474.4 L762.1,474.5 L763.1,474.6 L764.1,474.6 L765.1,474.7 L766.1,474.8 L767.1,474.9 L768.1,474.9 L769.1,475.0 L770.2,475.1 L771.2,475.1 L772.2,475.2 L773.2,475.3 L774.2,475.3 L775.2,475.4 L776.2,475.5 L777.2,475.5 L778.2,475.6 L779.2,475.6 L780.2,475.7 L781.2,475.8 L782.2,475.8 L783.2,475.9 L784.2,476.0 L785.3,476.0 L786.3,476.1 L787.3,476.2 L788.3,476.2 L789.3,476.3 L790.3,476.3 L791.3,476.4 L792.3,476.5 L793.3,476.5 L794.3,476.6 L795.3,476.7 L796.3,476.7 L797.3,476.8 L798.3,476.8 L799.3,476.9 L800.4,477.0 L801.4,477.0 L802.4,477.1 L803.4,477.2 L804.4,477.2 L805.4,477.3 L806.4,477.3 L807.4,477.4 L808.4,477.5 L809.4,477.5 L810.4,477.6 L811.4,477.7 L812.4,477.7 L813.4,477.8 L814.4,477.8 L815.4,477.9 L816.4,478.0 L817.5,478.0 L818.5,478.1 L819.5,478.2 L820.5,478.2 L821.5,478.3 L822.5,478.3 L823.5,478.4 L824.5,478.5 L825.5,478.5 L826.5,478.6 L827.5,478.7 L828.5,478.7 L829.5,478.8 L830.5,478.9 L831.5,478.9 L832.5,479.0 L833.5,479.1 L834.5,479.1 L835.5,479.2 L836.5,479.3 L837.6,479.3 L838.6,479.4 L839.6,479.5 L840.6,479.5 L841.6,479.6 L842.6,479.7 L843.6,479.7 L844.6,479.8 L845.6,479.9 L846.6,480.0 L847.6,480.0 L848.6,480.1 L849.6,480.2 L850.6,480.2 L851.6,480.3 L852.6,480.4 L853.6,480.5 L854.6,480.5 L855.6,480.6 L856.6,480.7 L857.6,480.8 L858.6,480.8 L859.6,480.9 L860.6,481.0 L861.6,481.1 L862.6,481.1 L863.6,481.2 L864.6,481.3 L865.6,481.4 L866.6,481.5 L867.6,481.5 L868.6,481.6 L869.6,481.7 L870.6,481.8 L871.6,481.9 L872.6,482.0 L873.6,482.0 L874.6,482.1 L875.6,482.2 L876.6,482.3 L877.6,482.4 L878.6,482.5"/>
<path d="M94.5,41.8 L95.1,42.4 L95.7,43.1 L96.3,43.8 L96.8,44.5 L97.3,45.3 L97.8,46.0 L98.3,46.8 L98.8,47.6 L99.2,48.4 L99.6,49.2 L100.1,50.0 L100.4,50.8 L100.8,51.6 L101.2,52.5 L101.6,53.4 L101.9,54.2 L102.3,55.1 L102.6,56.0 L102.9,56.8 L103.2,57.7 L103.6,58.6 L103.9,59.5 L104.2,60.4 L104.5,61.3 L104.8,62.2 L105.1,63.1 L105.5,64.0 L105.8,64.9 L106.1,65.8 L106.4,66.6 L106.7,67.5 L107.1,68.4 L107.4,69.3 L107.7,70.2 L108.0,71.1 L108.4,72.0 L108.7,72.9 L109.0,73.8 L109.3,74.6 L109.7,75.5 L110.0,76.4 L110.3,77.3 L110.6,78.2 L111.0,79.1 L111.3,79.9 L111.6,80.8 L112.0,81.7 L112.3,82.6 L112.6,83.5 L113.0,84.4 L113.3,85.2 L113.6,86.1 L114.0,87.0 L114.3,87.9 L114.6,88.8 L115.0,89.6 L115.3,90.5 L115.6,91.4 L116.0,92.3 L116.3,93.2 L116.6,94.0 L117.0,94.9 L117.3,95.8 L117.6,96.7 L118.0,97.5 L118.3,98.4 L118.6,99.3 L119.0,100.2 L119.3,101.1 L119.7,101.9 L120.0,102.8 L120.3,103.7 L120.7,104.6 L121.0,105.4 L121.3,106.3 L121.7,107.2 L122.0,108.1 L122.3,109.0 L122.7,109.8 L123.0,110.7 L123.3,111.6 L123.7,112.5 L124.0,113.3 L124.3,114.2 L124.7,115.1 L125.0,116.0 L125.3,116.9 L125.7,117.7 L126.0,118.6 L126.3,119.5 L126.7,120.4 L127.0,121.3 L127.3,122.1 L127.6,123.0 L128.0,123.9 L128.3,124.8 L128.6,125.7 L128.9,126.5 L129.3,127.4 L129.6,128.3 L129.9,129.2 L130.2,130.1 L130.6,130.9 L130.9,131.8 L131.2,132.7 L131.5,133.6 L131.9,134.5 L132.2,135.4 L132.5,136.2 L132.8,137.1 L133.1,138.0 L133.5,138.9 L133.8,139.8 L134.1,140.7 L134.4,141.5 L134.7,142.4 L135.1,143.3 L135.4,144.2 L135.7,145.1 L136.0,146.0 L136.3,146.8 L136.7,147.7 L137.0,148.6 L137.3,149.5 L137.6,150.4 L137.9,151.3 L138.2,152.1 L138.6,153.0 L138.9,153.9 L139.2,154.8 L139.5,155.7 L139.8,156.6 L140.1,157.5 L140.4,158.3 L140.8,159.2 L141.1,160.1 L141.4,161.0 L141.7,161.9 L142.0,162.8 L142.3,163.7 L142.6,164.5 L143.0,165.4 L143.3,166.3 L143.6,167.2 L143.9,168.1 L144.2,169.0 L144.5,169.9 L144.8,170.7 L145.1,171.6 L145.5,172.5 L145.8,173.4 L146.1,174.3 L146.4,175.2 L146.7,176.1 L147.0,176.9 L147.3,177.8 L147.6,178.7 L148.0,179.6 L148.3,180.5 L148.6,181.4 L148.9,182.3 L149.2,183.1 L149.5,184.0 L149.8,184.9 L150.2,185.8 L150.5,186.7 L150.8,187.6 L151.1,188.5 L151.4,189.4 L151.7,190.2 L152.0,191.1 L152.3,192.0 L152.7,192.9 L153.0,193.8 L153.3,194.7 L153.6,195.6 L153.9,196.4 L154.2,197.3 L154.5,198.2 L154.9,199.1 L155.2,200.0 L155.5,200.9 L155.8,201.8 L156.1,202.6 L156.4,203.5 L156.8,204.4 L157.1,205.3 L157.4,206.2 L157.7,207.1 L158.0,207.9 L158.4,208.8 L158.7,209.7 L159.0,210.6 L159.3,211.5 L159.6,212.4 L159.9,213.3 L160.3,214.1 L160.6,215.0 L160.9,215.9 L161.2,216.8 L161.6,217.7 L161.9,218.6 L162.2,219.4 L162.5,220.3 L162.8,221.2 L163.2,222.1 L163.5,223.0 L163.8,223.9 L164.1,224.7 L164.5,225.6 L164.8,226.5 L165.1,227.4 L165.5,228.3 L165.8,229.2 L166.1,230.0 L166.4,230.9 L166.8,231.8 L167.1,232.7 L167.4,233.6 L167.8,234.4 L168.1,235.3 L168.4,236.2 L168.8,237.1 L169.1,238.0 L169.4,238.8 L169.8,239.7 L170.1,240.6 L170.4,241.5 L170.8,242.4 L171.1,243.2 L171.4,244.1 L171.8,245.0 L172.1,245.9 L172.5,246.7 L172.8,247.6 L173.1,248.5 L173.5,249.4 L173.8,250.3 L174.2,251.1 L174.5,252.0 L174.8,252.9 L175.2,253.8 L175.5,254.6 L175.9,255.5 L176.2,256.4 L176.6,257.3 L176.9,258.1 L177.3,259.0 L177.6,259.9 L178.0,260.8 L178.3,261.6 L178.7,262.5 L179.0,263.4 L179.4,264.2 L179.7,265.1 L180.1,266.0 L180.5,266.9 L180.8,267.7 L181.2,268.6 L181.5,269.5 L181.9,270.3 L182.3,271.2 L182.6,272.1 L183.0,273.0 L183.3,273.8 L183.7,274.7 L184.1,275.6 L184.4,276.4 L184.8,277.3 L185.2,278.2 L185.5,279.0 L185.9,279.9 L186.3,280.8 L186.7,281.6 L187.0,282.5 L187.4,283.4 L187.8,284.2 L188.1,285.1 L188.5,286.0 L188.9,286.8 L189.3,287.7 L189.7,288.6 L190.0,289.4 L190.4,290.3 L190.8,291.1 L191.2,292.0 L191.5,292.9 L191.9,293.7 L192.3,294.6 L192.7,295.5 L193.1,296.3 L193.4,297.2 L193.8,298.0 L194.2,298.9 L194.6,299.8 L195.0,300.6 L195.4,301.5 L195.7,302.3 L196.1,303.2 L196.5,304.1 L196.9,304.9 L197.3,305.8 L197.7,306.6 L198.1,307.5 L198.4,308.3 L198.8,309.2 L199.2,310.1 L199.6,310.9 L200.0,311.8 L200.4,312.6 L200.8,313.5 L201.2,314.3 L201.5,315.2 L201.9,316.0 L202.3,316.9 L202.7,317.7 L203.1,318.6 L203.5,319.5 L203.9,320.3 L204.3,321.2 L204.7,322.0 L205.0,322.9 L205.4,323.7 L205.8,324.6 L206.2,325.4 L206.6,326.3 L207.0,327.1 L207.4,328.0 L207.8,328.8 L208.2,329.7 L208.5,330.5 L208.9,331.4 L209.3,332.2 L209.7,333.1 L210.1,333.9 L210.5,334.8 L210.9,335.6 L211.3,336.5 L211.7,337.3 L212.1,338.1 L212.4,339.0 L212.8,339.8 L213.2,340.7 L213.6,341.5 L214.0,342.4 L214.4,343.2 L214.8,344.1 L215.2,344.9 L215.6,345.7 L216.0,346.6 L216.4,347.4 L216.8,348.3 L217.2,349.1 L217.6,349.9 L218.0,350.8 L218.4,351.6 L218.9,352.5 L219.3,353.3 L219.7,354.1 L220.1,355.0 L220.5,355.8 L221.0,356.6 L221.4,357.5 L221.8,358.3 L222.2,359.1 L222.7,360.0 L223.1,360.8 L223.5,361.6 L224.0,362.5 L224.4,363.3 L224.9,364.1 L225.3,364.9 L225.8,365.8 L226.2,366.6 L226.7,367.4 L227.1,368.2 L227.6,369.1 L228.1,369.9 L228.5,370.7 L229.0,371.5 L229.5,372.3 L230.0,373.2 L230.5,374.0 L231.0,374.8 L231.5,375.6 L232.0,376.4 L232.5,377.2 L233.0,378.0 L233.5,378.8 L234.0,379.7 L234.5,380.5 L235.0,381.3 L235.6,382.1 L236.1,382.9 L236.6,383.7 L237.2,384.5 L237.7,385.3 L238.3,386.1 L238.9,386.9 L239.4,387.7 L240.0,388.5 L240.6,389.3 L241.1,390.1 L241.7,390.8 L242.3,391.6 L242.9,392.4 L243.5,393.1 L244.1,393.9 L244.7,394.6 L245.4,395.4 L246.0,396.1 L246.6,396.8 L247.3,397.5 L247.9,398.2 L248.6,398.9 L249.2,399.6 L249.9,400.3 L250.6,400.9 L251.3,401.6 L252.0,402.2 L252.7,402.8 L253.4,403.4 L254.1,404.0 L254.8,404.6 L255.5,405.1 L256.3,405.7 L257.0,406.2 L257.8,406.7 L258.5,407.2 L259.3,407.6 L260.1,408.1 L260.9,408.5 L261.6,408.9 L262.4,409.3 L263.3,409.6 L264.1,410.0 L264.9,410.3 L265.8,410.6 L266.6,410.8 L267.5,411.1 L268.3,411.3 L269.2,411.5 L270.1,411.6 L271.0,411.8 L271.9,411.9 L272.8,411.9 L273.7,412.0 L274.7,412.0 L275.6,412.0 L276.6,412.0 L277.5,411.9 L278.5,411.8 L279.4,411.7 L280.4,411.5 L281.4,411.4 L282.3,411.2 L283.3,410.9 L284.2,410.7 L285.2,410.4 L286.1,410.1 L287.0,409.7 L287.9,409.4 L288.8,409.0 L289.7,408.6 L290.5,408.1 L291.4,407.7 L292.2,407.2 L293.0,406.7 L293.8,406.2 L294.5,405.6 L295.2,405.0 L295.9,404.4 L296.6,403.8 L297.3,403.2 L297.9,402.5 L298.5,401.8 L299.1,401.1 L299.7,400.4 L300.3,399.7 L300.8,398.9 L301.4,398.2 L301.9,397.4 L302.4,396.6 L302.9,395.8 L303.4,395.0 L303.8,394.2 L304.3,393.4 L304.8,392.6 L305.2,391.7 L305.7,390.9 L306.1,390.0 L306.5,389.2 L307.0,388.3 L307.4,387.5 L307.8,386.6 L308.3,385.7 L308.7,384.9 L309.1,384.0 L309.5,383.2 L310.0,382.3 L310.4,381.5 L310.8,380.6 L311.2,379.8 L311.7,378.9 L312.1,378.1 L312.6,377.3 L313.0,376.4 L313.4,375.6 L313.9,374.8 L314.3,373.9 L314.7,373.1 L315.2,372.2 L315.6,371.4 L316.0,370.6 L316.4,369.7 L316.9,368.9 L317.3,368.0 L317.7,367.2 L318.1,366.4 L318.5,365.5 L318.9,364.7 L319.3,363.8 L319.7,363.0 L320.2,362.1 L320.6,361.3 L321.0,360.5 L321.4,359.6 L321.8,358.8 L322.2,357.9 L322.6,357.1 L322.9,356.2 L323.3,355.4 L323.7,354.5 L324.1,353.7 L324.5,352.8 L324.9,352.0 L325.3,351.1 L325.7,350.3 L326.0,349.4 L326.4,348.6 L326.8,347.7 L327.2,346.8 L327.6,346.0 L327.9,345.1 L328.3,344.3 L328.7,343.4 L329.1,342.6 L329.4,341.7 L329.8,340.8 L330.2,340.0 L330.5,339.1 L330.9,338.2 L331.3,337.4 L331.6,336.5 L332.0,335.7 L332.3,334.8 L332.7,333.9 L333.1,333.1 L333.4,332.2 L333.8,331.3 L334.1,330.5 L334.5,329.6 L334.8,328.7 L335.2,327.8 L335.5,327.0 L335.9,326.1 L336.2,325.2 L336.6,324.4 L336.9,323.5 L337.3,322.6 L337.6,321.7 L338.0,320.9 L338.3,320.0 L338.7,319.1 L339.0,318.2 L339.3,317.3 L339.7,316.5 L340.0,315.6 L340.4,314.7 L340.7,313.8 L341.0,312.9 L341.4,312.1 L341.7,311.2 L342.1,310.3 L342.4,309.4 L342.7,308.5 L343.1,307.7 L343.4,306.8 L343.7,305.9 L344.1,305.0 L344.4,304.1 L344.8,303.2 L345.1,302.4 L345.4,301.5 L345.8,300.6 L346.1,299.7 L346.4,298.8 L346.8,297.9 L347.1,297.1 L347.4,296.2 L347.8,295.3 L348.1,294.4 L348.5,293.5 L348.8,292.6 L349.1,291.8 L349.5,290.9 L349.8,290.0 L350.2,289.1 L350.5,288.2 L350.8,287.4 L351.2,286.5 L351.5,285.6 L351.9,284.7 L352.2,283.8 L352.5,283.0 L352.9,282.1 L353.2,281.2 L353.6,280.3 L353.9,279.4 L354.3,278.6 L354.6,277.7 L355.0,276.8 L355.3,275.9 L355.6,275.1 L356.0,274.2 L356.4,273.3 L356.7,272.4 L357.1,271.6 L357.4,270.7 L357.8,269.8 L358.1,269.0 L358.5,268.1 L358.8,267.2 L359.2,266.4 L359.6,265.5 L359.9,264.6 L360.3,263.8 L360.6,262.9 L361.0,262.0 L361.4,261.2 L361.7,260.3 L362.1,259.4 L362.5,258.6 L362.9,257.7 L363.2,256.9 L363.6,256.0 L364.0,255.2 L364.4,254.3 L364.8,253.5 L365.1,252.6 L365.5,251.8 L365.9,250.9 L366.3,250.1 L366.7,249.2 L367.1,248.4 L367.5,247.5 L367.9,246.7 L368.3,245.8 L368.7,245.0 L369.1,244.2 L369.5,243.3 L369.9,242.5 L370.3,241.7 L370.7,240.8 L371.1,240.0 L371.5,239.2 L371.9,238.3 L372.3,237.5 L372.8,236.7 L373.2,235.9 L373.6,235.0 L374.0,234.2 L374.5,233.4 L374.9,232.6 L375.3,231.8 L375.8,230.9 L376.2,230.1 L376.6,229.3 L377.1,228.5 L377.5,227.7 L378.0,226.8 L378.4,226.0 L378.9,225.2 L379.3,224.4 L379.8,223.6 L380.2,222.7 L380.7,221.9 L381.1,221.1 L381.6,220.3 L382.0,219.4 L382.5,218.6 L383.0,217.8 L383.4,217.0 L383.9,216.1 L384.4,215.3 L384.8,214.5 L385.3,213.6 L385.8,212.8 L386.3,211.9 L386.7,211.1 L387.2,210.3 L387.7,209.4 L388.2,208.6 L388.7,207.8 L389.2,207.0 L389.8,206.2 L390.3,205.4 L390.8,204.6 L391.4,203.8 L391.9,203.0 L392.5,202.2 L393.1,201.5 L393.7,200.7 L394.3,200.0 L394.9,199.3 L395.5,198.5 L396.1,197.8 L396.8,197.2 L397.5,196.5 L398.2,195.8 L398.9,195.2 L399.6,194.6 L400.3,194.0 L401.1,193.4 L401.9,192.9 L402.7,192.3 L403.5,191.8 L404.3,191.3 L405.1,190.9 L406.0,190.5 L406.9,190.1 L407.7,189.7 L408.6,189.5 L409.5,189.2 L410.4,189.0 L411.3,188.9 L412.2,188.8 L413.1,188.8 L414.0,188.8 L414.9,188.9 L415.8,189.1 L416.7,189.3 L417.6,189.5 L418.5,189.8 L419.3,190.2 L420.2,190.6 L421.0,191.0 L421.9,191.4 L422.7,191.9 L423.5,192.4 L424.3,193.0 L425.1,193.5 L425.9,194.1 L426.6,194.6 L427.4,195.2 L428.1,195.8 L428.8,196.4 L429.5,197.1 L430.2,197.7 L430.9,198.4 L431.5,199.1 L432.2,199.7 L432.8,200.4 L433.5,201.1 L434.1,201.9 L434.7,202.6 L435.3,203.3 L435.9,204.1 L436.5,204.8 L437.0,205.6 L437.6,206.4 L438.2,207.1 L438.7,207.9 L439.2,208.7 L439.8,209.5 L440.3,210.3 L440.8,211.1 L441.3,212.0 L441.8,212.8 L442.4,213.6 L442.9,214.4 L443.4,215.2 L443.8,216.1 L444.3,216.9 L444.8,217.7 L445.3,218.6 L445.8,219.4 L446.3,220.2 L446.7,221.1 L447.2,221.9 L447.7,222.7 L448.2,223.6 L448.7,224.4 L449.1,225.2 L449.6,226.0 L450.1,226.8 L450.6,227.7 L451.0,228.5 L451.5,229.3 L452.0,230.1 L452.5,230.8 L453.0,231.6 L453.5,232.4 L453.9,233.2 L454.4,234.0 L454.9,234.8 L455.4,235.6 L455.8,236.4 L456.3,237.1 L456.8,237.9 L457.2,238.7 L457.7,239.5 L458.1,240.3 L458.6,241.1 L459.0,241.9 L459.4,242.7 L459.9,243.5 L460.3,244.3 L460.7,245.1 L461.1,246.0 L461.5,246.8 L461.9,247.6 L462.3,248.5 L462.6,249.3 L463.0,250.2 L463.3,251.0 L463.7,251.9 L464.0,252.8 L464.3,253.7 L464.6,254.5 L465.0,255.4 L465.3,256.3 L465.6,257.2 L465.9,258.1 L466.2,259.0 L466.5,259.9 L466.8,260.8 L467.1,261.8 L467.4,262.7 L467.7,263.6 L468.0,264.5 L468.3,265.4 L468.6,266.3 L468.9,267.2 L469.2,268.1 L469.5,269.0 L469.8,269.9 L470.1,270.8 L470.5,271.7 L470.8,272.5 L471.1,273.4 L471.5,274.3 L471.8,275.2 L472.2,276.1 L472.6,276.9 L472.9,277.8 L473.3,278.7 L473.7,279.5 L474.0,280.4 L474.4,281.2 L474.8,282.1 L475.2,283.0 L475.5,283.8 L475.9,284.7 L476.3,285.5 L476.7,286.4 L477.1,287.3 L477.4,288.1 L477.8,289.0 L478.2,289.8 L478.5,290.7 L478.9,291.6 L479.3,292.4 L479.6,293.3 L480.0,294.1 L480.3,295.0 L480.7,295.9 L481.0,296.8 L481.4,297.6 L481.7,298.5 L482.1,299.4 L482.4,300.2 L482.8,301.1 L483.1,302.0 L483.4,302.9 L483.8,303.7 L484.1,304.6 L484.4,305.5 L484.8,306.4 L485.1,307.3 L485.4,308.1 L485.7,309.0 L486.1,309.9 L486.4,310.8 L486.7,311.7 L487.0,312.6 L487.3,313.4 L487.7,314.3 L488.0,315.2 L488.3,316.1 L488.6,317.0 L488.9,317.9 L489.2,318.8 L489.5,319.7 L489.9,320.5 L490.2,321.4 L490.5,322.3 L490.8,323.2 L491.1,324.1 L491.4,325.0 L491.7,325.9 L492.0,326.8 L492.3,327.7 L492.6,328.5 L493.0,329.4 L493.3,330.3 L493.6,331.2 L493.9,332.1 L494.2,333.0 L494.5,333.9 L494.8,334.8 L495.1,335.7 L495.4,336.6 L495.7,337.4 L496.1,338.3 L496.4,339.2 L496.7,340.1 L497.0,341.0 L497.3,341.9 L497.6,342.8 L497.9,343.7 L498.3,344.5 L498.6,345.4 L498.9,346.3 L499.2,347.2 L499.6,348.1 L499.9,349.0 L500.2,349.8 L500.5,350.7 L500.9,351.6 L501.2,352.5 L501.5,353.4 L501.9,354.2 L502.2,355.1 L502.5,356.0 L502.9,356.9 L503.2,357.8 L503.6,358.6 L503.9,359.5 L504.3,360.4 L504.6,361.2 L505.0,362.1 L505.3,363.0 L505.7,363.9 L506.0,364.7 L506.4,365.6 L506.7,366.5 L507.1,367.3 L507.5,368.2 L507.8,369.1 L508.2,369.9 L508.6,370.8 L508.9,371.6 L509.3,372.5 L509.7,373.4 L510.1,374.2 L510.5,375.1 L510.9,375.9 L511.2,376.8 L511.6,377.6 L512.0,378.5 L512.4,379.3 L512.8,380.2 L513.2,381.0 L513.6,381.9 L514.0,382.7 L514.4,383.6 L514.9,384.4 L515.3,385.2 L515.7,386.1 L516.1,386.9 L516.5,387.8 L517.0,388.6 L517.4,389.4 L517.8,390.3 L518.3,391.1 L518.7,391.9 L519.2,392.7 L519.6,393.6 L520.1,394.4 L520.5,395.2 L521.0,396.0 L521.4,396.8 L521.9,397.7 L522.4,398.5 L522.8,399.3 L523.3,400.1 L523.8,400.9 L524.3,401.7 L524.8,402.5 L525.2,403.3 L525.7,404.1 L526.2,404.9 L526.7,405.7 L527.2,406.5 L527.7,407.3 L528.3,408.1 L528.8,408.9 L529.3,409.7 L529.8,410.4 L530.3,411.2 L530.9,412.0 L531.4,412.8 L532.0,413.6 L532.5,414.3 L533.0,415.1 L533.6,415.9 L534.2,416.6 L534.7,417.4 L535.3,418.2 L535.9,418.9 L536.4,419.7 L537.0,420.4 L537.6,421.1 L538.2,421.9 L538.8,422.6 L539.4,423.3 L540.0,424.0 L540.7,424.7 L541.3,425.4 L541.9,426.1 L542.6,426.8 L543.2,427.5 L543.8,428.2 L544.5,428.8 L545.2,429.5 L545.8,430.1 L546.5,430.8 L547.2,431.4 L547.9,432.0 L548.6,432.6 L549.3,433.2 L550.1,433.8 L550.8,434.3 L551.5,434.9 L552.3,435.4 L553.0,436.0 L553.8,436.5 L554.6,437.0 L555.3,437.5 L556.1,438.0 L556.9,438.5 L557.7,438.9 L558.5,439.4 L559.3,439.9 L560.1,440.3 L561.0,440.7 L561.8,441.2 L562.6,441.6 L563.5,442.0 L564.3,442.4 L565.2,442.8 L566.0,443.1 L566.9,443.5 L567.7,443.9 L568.6,444.3 L569.5,444.6 L570.4,445.0 L571.2,445.3 L572.1,445.6 L573.0,446.0 L573.9,446.3 L574.8,446.6 L575.7,446.9 L576.6,447.2 L577.5,447.5 L578.4,447.8 L579.3,448.1 L580.2,448.4 L581.1,448.7 L582.0,449.0 L582.9,449.2 L583.8,449.5 L584.8,449.8 L585.7,450.1 L586.6,450.3 L587.5,450.6 L588.4,450.8 L589.3,451.1 L590.2,451.4 L591.2,451.6 L592.1,451.9 L593.0,452.1 L593.9,452.4 L594.8,452.6 L595.7,452.9 L596.6,453.1 L597.5,453.3 L598.5,453.6 L599.4,453.8 L600.3,454.1 L601.2,454.3 L602.1,454.5 L603.0,454.8 L603.9,455.0 L604.8,455.2 L605.7,455.5 L606.6,455.7 L607.6,455.9 L608.5,456.1 L609.4,456.4 L610.3,456.6 L611.2,456.8 L612.1,457.0 L613.0,457.2 L613.9,457.4 L614.8,457.7 L615.8,457.9 L616.7,458.1 L617.6,458.3 L618.5,458.5 L619.4,458.7 L620.3,458.9 L621.2,459.1 L622.1,459.3 L623.1,459.5 L624.0,459.7 L624.9,459.9 L625.8,460.1 L626.7,460.3 L627.6,460.5 L628.5,460.7 L629.5,460.9 L630.4,461.1 L631.3,461.2 L632.2,461.4 L633.1,461.6 L634.1,461.8 L635.0,462.0 L635.9,462.2 L636.8,462.3 L637.7,462.5 L638.7,462.7 L639.6,462.9 L640.5,463.0 L641.4,463.2 L642.3,463.4 L643.3,463.6 L644.2,463.7 L645.1,463.9 L646.0,464.1 L646.9,464.2 L647.9,464.4 L648.8,464.5 L649.7,464.7 L650.6,464.9 L651.6,465.0 L652.5,465.2 L653.4,465.3 L654.3,465.5 L655.3,465.6 L656.2,465.8 L657.1,465.9 L658.0,466.1 L659.0,466.2 L659.9,466.4 L660.8,466.5 L661.8,466.7 L662.7,466.8 L663.6,467.0 L664.5,467.1 L665.5,467.3 L666.4,467.4 L667.3,467.5 L668.3,467.7 L669.2,467.8 L670.1,467.9 L671.0,468.1 L672.0,468.2 L672.9,468.3 L673.8,468.5 L674.8,468.6 L675.7,468.7 L676.6,468.9 L677.6,469.0 L678.5,469.1 L679.4,469.2 L680.4,469.3 L681.3,469.5 L682.2,469.6 L683.2,469.7 L684.1,469.8 L685.0,469.9 L686.0,470.1 L686.9,470.2 L687.8,470.3 L688.8,470.4 L689.7,470.5 L690.6,470.6 L691.6,470.7 L692.5,470.9 L693.4,471.0 L694.4,471.1 L695.3,471.2 L696.2,471.3 L697.2,471.4 L698.1,471.5 L699.0,471.6 L700.0,471.7 L700.9,471.8 L701.8,471.9 L702.8,472.0 L703.7,472.1 L704.7,472.2 L705.6,472.3 L706.5,472.4 L707.5,472.5 L708.4,472.6 L709.3,472.7 L710.3,472.8 L711.2,472.9 L712.2,473.0 L713.1,473.0 L714.0,473.1 L715.0,473.2 L715.9,473.3 L716.8,473.4 L717.8,473.5 L718.7,473.6 L719.7,473.7 L720.6,473.7 L721.5,473.8 L722.5,473.9 L723.4,474.0 L724.4,474.1 L725.3,474.2 L726.2,474.2 L727.2,474.3 L728.1,474.4 L729.0,474.5 L730.0,474.5 L730.9,474.6 L731.9,474.7 L732.8,474.8 L733.7,474.8 L734.7,474.9 L735.6,475.0 L736.6,475.1 L737.5,475.1 L738.4,475.2 L739.4,475.3 L740.3,475.3 L741.3,475.4 L742.2,475.5 L743.1,475.6 L744.1,475.6 L745.0,475.7 L746.0,475.8 L746.9,475.8 L747.8,475.9 L748.8,476.0 L749.7,476.0 L750.7,476.1 L751.6,476.1 L752.5,476.2 L753.5,476.3 L754.4,476.3 L755.4,476.4 L756.3,476.4 L757.2,476.5 L758.2,476.6 L759.1,476.6 L760.1,476.7 L761.0,476.7 L761.9,476.8 L762.9,476.9 L763.8,476.9 L764.8,477.0 L765.7,477.0 L766.6,477.1 L767.6,477.1 L768.5,477.2 L769.5,477.2 L770.4,477.3 L771.3,477.4 L772.3,477.4 L773.2,477.5 L774.2,477.5 L775.1,477.6 L776.0,477.6 L777.0,477.7 L777.9,477.7 L778.9,477.8 L779.8,477.8 L780.7,477.9 L781.7,477.9 L782.6,478.0 L783.6,478.0 L784.5,478.1 L785.4,478.1 L786.4,478.2 L787.3,478.2 L788.2,478.2 L789.2,478.3 L790.1,478.3 L791.1,478.4 L792.0,478.4 L792.9,478.5 L793.9,478.5 L794.8,478.6 L795.7,478.6 L796.7,478.7 L797.6,478.7 L798.6,478.8 L799.5,478.8 L800.4,478.8 L801.4,478.9 L802.3,478.9 L803.2,479.0 L804.2,479.0 L805.1,479.1 L806.1,479.1 L807.0,479.2 L807.9,479.2 L808.9,479.2 L809.8,479.3 L810.7,479.3 L811.7,479.4 L812.6,479.4 L813.6,479.5 L814.5,479.5 L815.4,479.5 L816.4,479.6 L817.3,479.6 L818.2,479.7 L819.2,479.7 L820.1,479.8 L821.1,479.8 L822.0,479.9 L822.9,479.9 L823.9,479.9 L824.8,480.0 L825.7,480.0 L826.7,480.1 L827.6,480.1 L828.5,480.2 L829.5,480.2 L830.4,480.3 L831.4,480.3 L832.3,480.3 L833.2,480.4 L834.2,480.4 L835.1,480.5 L836.0,480.5 L837.0,480.6 L837.9,480.6 L838.9,480.7 L839.8,480.7 L840.7,480.8 L841.7,480.8 L842.6,480.9 L843.5,480.9 L844.5,481.0 L845.4,481.0 L846.4,481.1 L847.3,481.1 L848.2,481.2 L849.2,481.2 L850.1,481.3 L851.0,481.3 L852.0,481.4 L852.9,481.4 L853.9,481.5 L854.8,481.5 L855.7,481.6 L856.7,481.6 L857.6,481.7 L858.6,481.8 L859.5,481.8 L860.4,481.9 L861.4,481.9 L862.3,482.0 L863.3,482.0 L864.2,482.1 L865.1,482.2 L866.1,482.2 L867.0,482.3 L868.0,482.3 L868.9,482.4 L869.8,482.5 L870.8,482.5 L871.7,482.6 L872.7,482.6 L873.6,482.7 L874.5,482.8 L875.5,482.8 L876.4,482.9 L877.4,483.0 L878.3,483.0"/>
<path d="M94.5,42.5 L95.0,43.2 L95.5,43.9 L95.9,44.7 L96.4,45.4 L96.8,46.2 L97.3,46.9 L97.7,47.7 L98.1,48.5 L98.5,49.3 L98.9,50.1 L99.3,50.8 L99.7,51.6 L100.1,52.4 L100.5,53.3 L100.8,54.1 L101.2,54.9 L101.5,55.7 L101.9,56.5 L102.2,57.3 L102.6,58.2 L102.9,59.0 L103.2,59.8 L103.6,60.7 L103.9,61.5 L104.2,62.3 L104.5,63.2 L104.8,64.0 L105.1,64.9 L105.4,65.7 L105.8,66.6 L106.1,67.4 L106.4,68.2 L106.7,69.1 L107.0,69.9 L107.3,70.8 L107.6,71.6 L107.9,72.5 L108.2,73.3 L108.5,74.1 L108.8,75.0 L109.1,75.8 L109.5,76.7 L109.8,77.5 L110.1,78.4 L110.4,79.2 L110.7,80.0 L111.0,80.9 L111.3,81.7 L111.6,82.6 L111.9,83.4 L112.2,84.2 L112.5,85.1 L112.8,85.9 L113.2,86.8 L113.5,87.6 L113.8,88.4 L114.1,89.3 L114.4,90.1 L114.7,91.0 L115.0,91.8 L115.3,92.6 L115.6,93.5 L115.9,94.3 L116.2,95.1 L116.5,96.0 L116.9,96.8 L117.2,97.7 L117.5,98.5 L117.8,99.3 L118.1,100.2 L118.4,101.0 L118.7,101.9 L119.0,102.7 L119.3,103.5 L119.6,104.4 L119.9,105.2 L120.2,106.0 L120.5,106.9 L120.9,107.7 L121.2,108.6 L121.5,109.4 L121.8,110.2 L122.1,111.1 L122.4,111.9 L122.7,112.8 L123.0,113.6 L123.3,114.4 L123.6,115.3 L123.9,116.1 L124.2,116.9 L124.5,117.8 L124.8,118.6 L125.1,119.5 L125.5,120.3 L125.8,121.1 L126.1,122.0 L126.4,122.8 L126.7,123.7 L127.0,124.5 L127.3,125.3 L127.6,126.2 L127.9,127.0 L128.2,127.9 L128.5,128.7 L128.8,129.5 L129.1,130.4 L129.4,131.2 L129.7,132.1 L130.0,132.9 L130.3,133.7 L130.6,134.6 L131.0,135.4 L131.3,136.3 L131.6,137.1 L131.9,137.9 L132.2,138.8 L132.5,139.6 L132.8,140.5 L133.1,141.3 L133.4,142.1 L133.7,143.0 L134.0,143.8 L134.3,144.7 L134.6,145.5 L134.9,146.3 L135.2,147.2 L135.5,148.0 L135.8,148.9 L136.1,149.7 L136.4,150.5 L136.7,151.4 L137.0,152.2 L137.4,153.1 L137.7,153.9 L138.0,154.8 L138.3,155.6 L138.6,156.4 L138.9,157.3 L139.2,158.1 L139.5,159.0 L139.8,159.8 L140.1,160.6 L140.4,161.5 L140.7,162.3 L141.0,163.2 L141.3,164.0 L141.6,164.8 L141.9,165.7 L142.2,166.5 L142.5,167.4 L142.8,168.2 L143.1,169.1 L143.5,169.9 L143.8,170.7 L144.1,171.6 L144.4,172.4 L144.7,173.3 L145.0,174.1 L145.3,174.9 L145.6,175.8 L145.9,176.6 L146.2,177.5 L146.5,178.3 L146.8,179.2 L147.1,180.0 L147.4,180.8 L147.7,181.7 L148.0,182.5 L148.3,183.4 L148.6,184.2 L148.9,185.0 L149.3,185.9 L149.6,186.7 L149.9,187.6 L150.2,188.4 L150.5,189.3 L150.8,190.1 L151.1,190.9 L151.4,191.8 L151.7,192.6 L152.0,193.5 L152.3,194.3 L152.6,195.1 L152.9,196.0 L153.2,196.8 L153.6,197.7 L153.9,198.5 L154.2,199.3 L154.5,200.2 L154.8,201.0 L155.1,201.9 L155.4,202.7 L155.7,203.6 L156.0,204.4 L156.3,205.2 L156.6,206.1 L156.9,206.9 L157.3,207.8 L157.6,208.6 L157.9,209.4 L158.2,210.3 L158.5,211.1 L158.8,212.0 L159.1,212.8 L159.4,213.6 L159.7,214.5 L160.0,215.3 L160.3,216.2 L160.7,217.0 L161.0,217.8 L161.3,218.7 L161.6,219.5 L161.9,220.4 L162.2,221.2 L162.5,222.0 L162.8,222.9 L163.1,223.7 L163.5,224.5 L163.8,225.4 L164.1,226.2 L164.4,227.1 L164.7,227.9 L165.0,228.7 L165.3,229.6 L165.6,230.4 L166.0,231.3 L166.3,232.1 L166.6,232.9 L166.9,233.8 L167.2,234.6 L167.5,235.4 L167.8,236.3 L168.2,237.1 L168.5,238.0 L168.8,238.8 L169.1,239.6 L169.4,240.5 L169.7,241.3 L170.1,242.1 L170.4,243.0 L170.7,243.8 L171.0,244.7 L171.3,245.5 L171.6,246.3 L172.0,247.2 L172.3,248.0 L172.6,248.8 L172.9,249.7 L173.2,250.5 L173.5,251.3 L173.9,252.2 L174.2,253.0 L174.5,253.8 L174.8,254.7 L175.1,255.5 L175.5,256.3 L175.8,257.2 L176.1,258.0 L176.4,258.9 L176.7,259.7 L177.1,260.5 L177.4,261.4 L177.7,262.2 L178.0,263.0 L178.3,263.9 L178.7,264.7 L179.0,265.5 L179.3,266.4 L179.6,267.2 L180.0,268.0 L180.3,268.9 L180.6,269.7 L180.9,270.5 L181.3,271.3 L181.6,272.2 L181.9,273.0 L182.2,273.8 L182.6,274.7 L182.9,275.5 L183.2,276.3 L183.5,277.2 L183.9,278.0 L184.2,278.8 L184.5,279.7 L184.9,280.5 L185.2,281.3 L185.5,282.1 L185.8,283.0 L186.2,283.8 L186.5,284.6 L186.8,285.5 L187.2,286.3 L187.5,287.1 L187.8,287.9 L188.2,288.8 L188.5,289.6 L188.8,290.4 L189.2,291.2 L189.5,292.1 L189.8,292.9 L190.2,293.7 L190.5,294.6 L190.9,295.4 L191.2,296.2 L191.5,297.0 L191.9,297.8 L192.2,298.7 L192.6,299.5 L192.9,300.3 L193.3,301.1 L193.6,302.0 L194.0,302.8 L194.3,303.6 L194.6,304.4 L195.0,305.2 L195.3,306.1 L195.7,306.9 L196.1,307.7 L196.4,308.5 L196.8,309.3 L197.1,310.2 L197.5,311.0 L197.8,311.8 L198.2,312.6 L198.5,313.4 L198.9,314.3 L199.3,315.1 L199.6,315.9 L200.0,316.7 L200.3,317.5 L200.7,318.3 L201.1,319.1 L201.4,320.0 L201.8,320.8 L202.2,321.6 L202.6,322.4 L202.9,323.2 L203.3,324.0 L203.7,324.8 L204.1,325.6 L204.4,326.4 L204.8,327.3 L205.2,328.1 L205.6,328.9 L205.9,329.7 L206.3,330.5 L206.7,331.3 L207.1,332.1 L207.5,332.9 L207.9,333.7 L208.3,334.5 L208.7,335.3 L209.1,336.1 L209.5,336.9 L209.8,337.7 L210.2,338.5 L210.6,339.3 L211.0,340.1 L211.4,340.9 L211.8,341.7 L212.3,342.5 L212.7,343.3 L213.1,344.1 L213.5,344.9 L213.9,345.7 L214.3,346.5 L214.7,347.3 L215.1,348.1 L215.6,348.9 L216.0,349.7 L216.4,350.5 L216.8,351.3 L217.2,352.1 L217.7,352.9 L218.1,353.7 L218.5,354.4 L219.0,355.2 L219.4,356.0 L219.8,356.8 L220.3,357.6 L220.7,358.4 L221.1,359.2 L221.6,360.0 L222.0,360.7 L222.5,361.5 L222.9,362.3 L223.4,363.1 L223.8,363.9 L224.3,364.6 L224.7,365.4 L225.2,366.2 L225.7,367.0 L226.1,367.8 L226.6,368.5 L227.1,369.3 L227.5,370.1 L228.0,370.9 L228.5,371.6 L228.9,372.4 L229.4,373.2 L229.9,374.0 L230.4,374.7 L230.9,375.5 L231.3,376.3 L231.8,377.0 L232.3,377.8 L232.8,378.6 L233.3,379.3 L233.8,380.1 L234.3,380.9 L234.8,381.6 L235.3,382.4 L235.8,383.2 L236.3,383.9 L236.8,384.7 L237.3,385.4 L237.9,386.2 L238.4,386.9 L238.9,387.7 L239.4,388.5 L239.9,389.2 L240.5,389.9 L241.0,390.7 L241.5,391.4 L242.1,392.2 L242.6,392.9 L243.2,393.6 L243.7,394.3 L244.3,395.0 L244.9,395.7 L245.4,396.4 L246.0,397.1 L246.6,397.8 L247.2,398.5 L247.7,399.1 L248.3,399.8 L248.9,400.4 L249.5,401.1 L250.2,401.7 L250.8,402.3 L251.4,402.9 L252.0,403.5 L252.7,404.1 L253.3,404.6 L254.0,405.2 L254.6,405.7 L255.3,406.2 L256.0,406.7 L256.6,407.2 L257.3,407.7 L258.0,408.2 L258.7,408.6 L259.5,409.1 L260.2,409.5 L260.9,409.9 L261.7,410.2 L262.4,410.6 L263.2,410.9 L263.9,411.2 L264.7,411.5 L265.5,411.8 L266.3,412.1 L267.1,412.3 L267.9,412.5 L268.8,412.7 L269.6,412.9 L270.5,413.1 L271.3,413.2 L272.2,413.3 L273.1,413.4 L274.0,413.4 L274.9,413.4 L275.8,413.5 L276.8,413.4 L277.7,413.4 L278.6,413.3 L279.6,413.2 L280.6,413.1 L281.5,413.0 L282.5,412.8 L283.4,412.6 L284.4,412.4 L285.3,412.1 L286.3,411.9 L287.2,411.6 L288.1,411.3 L289.0,410.9 L289.9,410.6 L290.8,410.2 L291.7,409.8 L292.5,409.4 L293.4,408.9 L294.2,408.5 L295.0,408.0 L295.7,407.5 L296.4,406.9 L297.1,406.4 L297.8,405.8 L298.5,405.2 L299.1,404.6 L299.7,404.0 L300.2,403.4 L300.8,402.7 L301.3,402.0 L301.9,401.4 L302.4,400.7 L302.9,400.0 L303.4,399.3 L303.8,398.6 L304.3,397.8 L304.8,397.1 L305.3,396.4 L305.8,395.7 L306.3,395.0 L306.8,394.3 L307.3,393.5 L307.8,392.8 L308.3,392.1 L308.8,391.4 L309.3,390.7 L309.8,389.9 L310.3,389.2 L310.8,388.5 L311.3,387.7 L311.8,387.0 L312.3,386.3 L312.8,385.5 L313.3,384.8 L313.8,384.1 L314.3,383.3 L314.8,382.6 L315.3,381.8 L315.8,381.1 L316.4,380.3 L316.9,379.6 L317.4,378.8 L317.9,378.0 L318.4,377.3 L318.9,376.5 L319.4,375.7 L319.9,375.0 L320.4,374.2 L320.9,373.4 L321.4,372.6 L321.9,371.9 L322.3,371.1 L322.8,370.3 L323.3,369.5 L323.8,368.8 L324.2,368.0 L324.7,367.2 L325.2,366.4 L325.6,365.6 L326.1,364.9 L326.6,364.1 L327.0,363.3 L327.5,362.5 L327.9,361.7 L328.4,360.9 L328.8,360.2 L329.2,359.4 L329.7,358.6 L330.1,357.8 L330.5,357.0 L331.0,356.2 L331.4,355.4 L331.8,354.6 L332.2,353.9 L332.7,353.1 L333.1,352.3 L333.5,351.5 L333.9,350.7 L334.3,349.9 L334.7,349.1 L335.1,348.3 L335.5,347.5 L335.9,346.7 L336.3,345.9 L336.7,345.1 L337.1,344.3 L337.5,343.5 L337.9,342.7 L338.3,341.9 L338.7,341.1 L339.1,340.3 L339.4,339.6 L339.8,338.8 L340.2,338.0 L340.6,337.2 L341.0,336.4 L341.3,335.6 L341.7,334.8 L342.1,334.0 L342.5,333.2 L342.8,332.4 L343.2,331.6 L343.6,330.8 L343.9,329.9 L344.3,329.1 L344.7,328.3 L345.0,327.5 L345.4,326.7 L345.8,325.9 L346.1,325.1 L346.5,324.3 L346.9,323.5 L347.2,322.7 L347.6,321.9 L347.9,321.1 L348.3,320.3 L348.7,319.5 L349.0,318.7 L349.4,317.9 L349.7,317.1 L350.1,316.3 L350.4,315.5 L350.8,314.7 L351.2,313.9 L351.5,313.1 L351.9,312.2 L352.2,311.4 L352.6,310.6 L353.0,309.8 L353.3,309.0 L353.7,308.2 L354.0,307.4 L354.4,306.6 L354.7,305.8 L355.1,305.0 L355.5,304.2 L355.8,303.4 L356.2,302.6 L356.5,301.8 L356.9,300.9 L357.3,300.1 L357.6,299.3 L358.0,298.5 L358.4,297.7 L358.7,296.9 L359.1,296.1 L359.5,295.3 L359.8,294.5 L360.2,293.7 L360.6,292.9 L361.0,292.1 L361.3,291.3 L361.7,290.4 L362.1,289.6 L362.5,288.8 L362.8,288.0 L363.2,287.2 L363.6,286.4 L364.0,285.6 L364.4,284.8 L364.8,284.0 L365.2,283.2 L365.5,282.4 L365.9,281.6 L366.3,280.8 L366.7,280.0 L367.1,279.2 L367.5,278.4 L367.9,277.6 L368.3,276.8 L368.8,275.9 L369.2,275.1 L369.6,274.3 L370.0,273.5 L370.4,272.7 L370.8,271.9 L371.2,271.1 L371.7,270.3 L372.1,269.5 L372.5,268.7 L373.0,267.9 L373.4,267.1 L373.8,266.3 L374.3,265.5 L374.7,264.7 L375.2,263.9 L375.6,263.1 L376.1,262.3 L376.5,261.5 L377.0,260.7 L377.4,259.9 L377.9,259.1 L378.4,258.3 L378.8,257.5 L379.3,256.7 L379.8,255.9 L380.3,255.2 L380.8,254.4 L381.2,253.6 L381.7,252.8 L382.2,252.0 L382.7,251.3 L383.3,250.5 L383.8,249.7 L384.3,249.0 L384.8,248.2 L385.4,247.5 L385.9,246.7 L386.5,246.0 L387.0,245.3 L387.6,244.6 L388.1,243.9 L388.7,243.2 L389.3,242.5 L389.9,241.8 L390.5,241.1 L391.1,240.5 L391.7,239.8 L392.3,239.2 L393.0,238.6 L393.6,238.0 L394.3,237.4 L394.9,236.8 L395.6,236.2 L396.3,235.7 L397.0,235.1 L397.7,234.6 L398.4,234.1 L399.1,233.6 L399.8,233.1 L400.6,232.7 L401.3,232.2 L402.1,231.8 L402.9,231.4 L403.7,231.0 L404.5,230.6 L405.3,230.3 L406.1,229.9 L406.9,229.6 L407.8,229.4 L408.6,229.1 L409.5,228.9 L410.4,228.7 L411.2,228.5 L412.1,228.4 L413.0,228.4 L413.9,228.3 L414.7,228.3 L415.6,228.4 L416.5,228.5 L417.4,228.7 L418.3,228.9 L419.1,229.1 L420.0,229.4 L420.8,229.7 L421.7,230.0 L422.5,230.4 L423.4,230.8 L424.2,231.2 L425.0,231.7 L425.8,232.1 L426.6,232.6 L427.3,233.1 L428.1,233.6 L428.9,234.1 L429.6,234.6 L430.3,235.1 L431.0,235.7 L431.7,236.2 L432.4,236.8 L433.1,237.4 L433.8,238.0 L434.4,238.6 L435.1,239.2 L435.7,239.8 L436.3,240.4 L436.9,241.1 L437.5,241.7 L438.1,242.4 L438.7,243.0 L439.3,243.7 L439.9,244.4 L440.4,245.1 L441.0,245.8 L441.6,246.5 L442.1,247.2 L442.6,247.9 L443.2,248.6 L443.7,249.3 L444.2,250.1 L444.7,250.8 L445.2,251.6 L445.7,252.3 L446.2,253.0 L446.7,253.8 L447.1,254.6 L447.6,255.3 L448.1,256.1 L448.5,256.9 L449.0,257.6 L449.5,258.4 L449.9,259.2 L450.4,259.9 L450.8,260.7 L451.2,261.5 L451.7,262.3 L452.1,263.1 L452.5,263.8 L453.0,264.6 L453.4,265.4 L453.8,266.2 L454.3,267.0 L454.7,267.8 L455.1,268.5 L455.5,269.3 L455.9,270.1 L456.4,270.9 L456.8,271.7 L457.2,272.5 L457.6,273.3 L458.0,274.0 L458.5,274.8 L458.9,275.6 L459.3,276.4 L459.7,277.2 L460.1,278.0 L460.6,278.8 L461.0,279.5 L461.4,280.3 L461.9,281.1 L462.3,281.9 L462.7,282.6 L463.2,283.4 L463.6,284.2 L464.0,285.0 L464.5,285.7 L464.9,286.5 L465.4,287.3 L465.9,288.0 L466.3,288.8 L466.8,289.6 L467.3,290.3 L467.7,291.1 L468.2,291.8 L468.7,292.6 L469.2,293.3 L469.7,294.1 L470.2,294.8 L470.7,295.6 L471.1,296.3 L471.6,297.1 L472.1,297.8 L472.6,298.6 L473.0,299.3 L473.5,300.1 L474.0,300.9 L474.4,301.6 L474.8,302.4 L475.3,303.2 L475.7,304.0 L476.1,304.8 L476.5,305.6 L476.9,306.3 L477.3,307.1 L477.7,307.9 L478.1,308.7 L478.5,309.5 L478.9,310.3 L479.3,311.1 L479.6,312.0 L480.0,312.8 L480.4,313.6 L480.7,314.4 L481.1,315.2 L481.5,316.0 L481.8,316.8 L482.2,317.7 L482.5,318.5 L482.9,319.3 L483.2,320.1 L483.6,320.9 L483.9,321.8 L484.3,322.6 L484.6,323.4 L485.0,324.2 L485.3,325.1 L485.7,325.9 L486.0,326.7 L486.4,327.5 L486.7,328.4 L487.1,329.2 L487.5,330.0 L487.8,330.8 L488.2,331.6 L488.5,332.5 L488.9,333.3 L489.3,334.1 L489.7,334.9 L490.0,335.7 L490.4,336.5 L490.8,337.3 L491.2,338.1 L491.6,339.0 L492.0,339.8 L492.4,340.6 L492.8,341.4 L493.2,342.2 L493.6,343.0 L494.0,343.8 L494.4,344.6 L494.8,345.4 L495.2,346.2 L495.6,347.0 L496.0,347.8 L496.4,348.6 L496.9,349.4 L497.3,350.2 L497.7,351.0 L498.1,351.7 L498.5,352.5 L498.9,353.3 L499.3,354.1 L499.8,354.9 L500.2,355.7 L500.6,356.5 L501.0,357.3 L501.4,358.1 L501.8,358.9 L502.2,359.7 L502.7,360.5 L503.1,361.3 L503.5,362.1 L503.9,362.9 L504.3,363.7 L504.7,364.5 L505.1,365.3 L505.5,366.1 L505.9,366.9 L506.3,367.7 L506.7,368.5 L507.0,369.3 L507.4,370.1 L507.8,370.9 L508.2,371.7 L508.6,372.5 L508.9,373.3 L509.3,374.2 L509.7,375.0 L510.0,375.8 L510.4,376.6 L510.7,377.4 L511.1,378.2 L511.4,379.1 L511.8,379.9 L512.1,380.7 L512.4,381.5 L512.7,382.4 L513.1,383.2 L513.4,384.0 L513.7,384.9 L514.0,385.7 L514.3,386.5 L514.6,387.4 L514.9,388.2 L515.2,389.1 L515.5,389.9 L515.8,390.7 L516.1,391.6 L516.4,392.4 L516.7,393.2 L517.1,394.0 L517.4,394.8 L517.8,395.6 L518.2,396.4 L518.6,397.1 L519.1,397.9 L519.5,398.6 L520.0,399.4 L520.4,400.1 L520.9,400.9 L521.4,401.6 L521.9,402.3 L522.4,403.0 L522.9,403.8 L523.5,404.5 L524.0,405.2 L524.5,405.9 L525.1,406.6 L525.6,407.3 L526.2,408.1 L526.7,408.8 L527.3,409.5 L527.8,410.2 L528.4,410.9 L528.9,411.7 L529.4,412.4 L530.0,413.1 L530.5,413.9 L531.1,414.6 L531.6,415.4 L532.1,416.1 L532.6,416.9 L533.2,417.6 L533.7,418.4 L534.2,419.2 L534.7,419.9 L535.3,420.7 L535.8,421.4 L536.3,422.1 L536.9,422.9 L537.4,423.6 L538.0,424.3 L538.5,425.0 L539.1,425.7 L539.7,426.4 L540.3,427.1 L540.9,427.7 L541.5,428.4 L542.1,429.0 L542.8,429.6 L543.4,430.2 L544.1,430.8 L544.7,431.4 L545.4,432.0 L546.1,432.5 L546.8,433.1 L547.5,433.6 L548.2,434.2 L548.9,434.7 L549.6,435.2 L550.3,435.7 L551.1,436.2 L551.8,436.7 L552.6,437.2 L553.3,437.7 L554.1,438.1 L554.8,438.6 L555.6,439.0 L556.3,439.5 L557.1,439.9 L557.9,440.4 L558.7,440.8 L559.4,441.2 L560.2,441.6 L561.0,442.0 L561.8,442.4 L562.6,442.8 L563.4,443.2 L564.2,443.6 L565.0,444.0 L565.8,444.4 L566.6,444.8 L567.4,445.2 L568.2,445.5 L569.0,445.9 L569.8,446.2 L570.6,446.6 L571.5,447.0 L572.3,447.3 L573.1,447.6 L573.9,448.0 L574.7,448.3 L575.6,448.7 L576.4,449.0 L577.2,449.3 L578.1,449.6 L578.9,449.9 L579.7,450.3 L580.6,450.6 L581.4,450.9 L582.2,451.2 L583.1,451.5 L583.9,451.8 L584.8,452.0 L585.6,452.3 L586.5,452.6 L587.3,452.9 L588.2,453.2 L589.0,453.5 L589.9,453.7 L590.7,454.0 L591.6,454.3 L592.4,454.5 L593.3,454.8 L594.1,455.0 L595.0,455.3 L595.9,455.5 L596.7,455.8 L597.6,456.0 L598.4,456.3 L599.3,456.5 L600.2,456.7 L601.0,457.0 L601.9,457.2 L602.8,457.4 L603.7,457.7 L604.5,457.9 L605.4,458.1 L606.3,458.3 L607.1,458.6 L608.0,458.8 L608.9,459.0 L609.8,459.2 L610.6,459.4 L611.5,459.6 L612.4,459.8 L613.3,460.0 L614.1,460.2 L615.0,460.4 L615.9,460.6 L616.8,460.8 L617.6,461.0 L618.5,461.2 L619.4,461.4 L620.3,461.6 L621.2,461.8 L622.0,462.0 L622.9,462.2 L623.8,462.4 L624.7,462.6 L625.5,462.7 L626.4,462.9 L627.3,463.1 L628.2,463.3 L629.1,463.5 L629.9,463.7 L630.8,463.8 L631.7,464.0 L632.6,464.2 L633.5,464.4 L634.3,464.5 L635.2,464.7 L636.1,464.9 L637.0,465.0 L637.9,465.2 L638.7,465.4 L639.6,465.5 L640.5,465.7 L641.4,465.9 L642.3,466.0 L643.1,466.2 L644.0,466.3 L644.9,466.5 L645.8,466.7 L646.7,466.8 L647.6,467.0 L648.4,467.1 L649.3,467.3 L650.2,467.4 L651.1,467.6 L652.0,467.7 L652.9,467.9 L653.7,468.0 L654.6,468.1 L655.5,468.3 L656.4,468.4 L657.3,468.6 L658.2,468.7 L659.0,468.9 L659.9,469.0 L660.8,469.1 L661.7,469.3 L662.6,469.4 L663.5,469.5 L664.3,469.7 L665.2,469.8 L666.1,469.9 L667.0,470.1 L667.9,470.2 L668.8,470.3 L669.6,470.4 L670.5,470.6 L671.4,470.7 L672.3,470.8 L673.2,470.9 L674.1,471.1 L675.0,471.2 L675.8,471.3 L676.7,471.4 L677.6,471.5 L678.5,471.6 L679.4,471.8 L680.3,471.9 L681.2,472.0 L682.0,472.1 L682.9,472.2 L683.8,472.3 L684.7,472.4 L685.6,472.5 L686.5,472.7 L687.4,472.8 L688.2,472.9 L689.1,473.0 L690.0,473.1 L690.9,473.2 L691.8,473.3 L692.7,473.4 L693.6,473.5 L694.5,473.6 L695.3,473.7 L696.2,473.8 L697.1,473.9 L698.0,474.0 L698.9,474.1 L699.8,474.2 L700.7,474.3 L701.6,474.3 L702.5,474.4 L703.3,474.5 L704.2,474.6 L705.1,474.7 L706.0,474.8 L706.9,474.9 L707.8,475.0 L708.7,475.1 L709.6,475.1 L710.4,475.2 L711.3,475.3 L712.2,475.4 L713.1,475.5 L714.0,475.6 L714.9,475.6 L715.8,475.7 L716.7,475.8 L717.6,475.9 L718.5,476.0 L719.3,476.0 L720.2,476.1 L721.1,476.2 L722.0,476.3 L722.9,476.3 L723.8,476.4 L724.7,476.5 L725.6,476.6 L726.5,476.6 L727.4,476.7 L728.2,476.8 L729.1,476.8 L730.0,476.9 L730.9,477.0 L731.8,477.0 L732.7,477.1 L733.6,477.2 L734.5,477.2 L735.4,477.3 L736.3,477.4 L737.2,477.4 L738.0,477.5 L738.9,477.6 L739.8,477.6 L740.7,477.7 L741.6,477.8 L742.5,477.8 L743.4,477.9 L744.3,477.9 L745.2,478.0 L746.1,478.0 L747.0,478.1 L747.8,478.2 L748.7,478.2 L749.6,478.3 L750.5,478.3 L751.4,478.4 L752.3,478.4 L753.2,478.5 L754.1,478.5 L755.0,478.6 L755.9,478.7 L756.8,478.7 L757.7,478.8 L758.6,478.8 L759.4,478.9 L760.3,478.9 L761.2,479.0 L762.1,479.0 L763.0,479.1 L763.9,479.1 L764.8,479.2 L765.7,479.2 L766.6,479.2 L767.5,479.3 L768.4,479.3 L769.3,479.4 L770.2,479.4 L771.1,479.5 L771.9,479.5 L772.8,479.6 L773.7,479.6 L774.6,479.7 L775.5,479.7 L776.4,479.7 L777.3,479.8 L778.2,479.8 L779.1,479.9 L780.0,479.9 L780.9,479.9 L781.8,480.0 L782.7,480.0 L783.6,480.1 L784.4,480.1 L785.3,480.1 L786.2,480.2 L787.1,480.2 L788.0,480.3 L788.9,480.3 L789.8,480.3 L790.7,480.4 L791.6,480.4 L792.5,480.4 L793.4,480.5 L794.3,480.5 L795.2,480.6 L796.1,480.6 L797.0,480.6 L797.9,480.7 L798.7,480.7 L799.6,480.7 L800.5,480.8 L801.4,480.8 L802.3,480.8 L803.2,480.9 L804.1,480.9 L805.0,480.9 L805.9,481.0 L806.8,481.0 L807.7,481.0 L808.6,481.1 L809.5,481.1 L810.4,481.1 L811.3,481.2 L812.2,481.2 L813.0,481.2 L813.9,481.3 L814.8,481.3 L815.7,481.3 L816.6,481.4 L817.5,481.4 L818.4,481.4 L819.3,481.5 L820.2,481.5 L821.1,481.5 L822.0,481.6 L822.9,481.6 L823.8,481.6 L824.7,481.7 L825.6,481.7 L826.5,481.7 L827.4,481.7 L828.2,481.8 L829.1,481.8 L830.0,481.8 L830.9,481.9 L831.8,481.9 L832.7,481.9 L833.6,482.0 L834.5,482.0 L835.4,482.0 L836.3,482.1 L837.2,482.1 L838.1,482.1 L839.0,482.1 L839.9,482.2 L840.8,482.2 L841.7,482.2 L842.6,482.3 L843.4,482.3 L844.3,482.3 L845.2,482.4 L846.1,482.4 L847.0,482.4 L847.9,482.5 L848.8,482.5 L849.7,482.5 L850.6,482.6 L851.5,482.6 L852.4,482.6 L853.3,482.7 L854.2,482.7 L855.1,482.7 L856.0,482.7 L856.9,482.8 L857.8,482.8 L858.6,482.8 L859.5,482.9 L860.4,482.9 L861.3,482.9 L862.2,483.0 L863.1,483.0 L864.0,483.0 L864.9,483.1 L865.8,483.1 L866.7,483.1 L867.6,483.2 L868.5,483.2 L869.4,483.3 L870.3,483.3 L871.2,483.3 L872.0,483.4 L872.9,483.4 L873.8,483.4 L874.7,483.5 L875.6,483.5 L876.5,483.5 L877.4,483.6 L878.3,483.6"/>
<path d="M94.5,43.2 L94.9,43.9 L95.3,44.6 L95.7,45.3 L96.1,46.0 L96.5,46.7 L96.9,47.4 L97.3,48.2 L97.7,48.9 L98.0,49.6 L98.4,50.3 L98.7,51.1 L99.1,51.8 L99.4,52.6 L99.7,53.3 L100.1,54.1 L100.4,54.8 L100.7,55.6 L101.0,56.3 L101.3,57.1 L101.6,57.9 L101.9,58.6 L102.2,59.4 L102.5,60.2 L102.8,60.9 L103.1,61.7 L103.4,62.5 L103.7,63.3 L104.0,64.0 L104.3,64.8 L104.6,65.6 L104.9,66.4 L105.1,67.1 L105.4,67.9 L105.7,68.7 L106.0,69.5 L106.3,70.3 L106.6,71.0 L106.8,71.8 L107.1,72.6 L107.4,73.4 L107.7,74.1 L108.0,74.9 L108.3,75.7 L108.5,76.5 L108.8,77.3 L109.1,78.0 L109.4,78.8 L109.7,79.6 L110.0,80.4 L110.3,81.1 L110.5,81.9 L110.8,82.7 L111.1,83.5 L111.4,84.2 L111.7,85.0 L112.0,85.8 L112.2,86.6 L112.5,87.3 L112.8,88.1 L113.1,88.9 L113.4,89.7 L113.7,90.4 L113.9,91.2 L114.2,92.0 L114.5,92.8 L114.8,93.5 L115.1,94.3 L115.4,95.1 L115.6,95.9 L115.9,96.6 L116.2,97.4 L116.5,98.2 L116.8,99.0 L117.1,99.7 L117.3,100.5 L117.6,101.3 L117.9,102.1 L118.2,102.8 L118.5,103.6 L118.7,104.4 L119.0,105.2 L119.3,105.9 L119.6,106.7 L119.9,107.5 L120.2,108.2 L120.4,109.0 L120.7,109.8 L121.0,110.6 L121.3,111.3 L121.6,112.1 L121.9,112.9 L122.1,113.7 L122.4,114.4 L122.7,115.2 L123.0,116.0 L123.3,116.8 L123.5,117.5 L123.8,118.3 L124.1,119.1 L124.4,119.9 L124.7,120.6 L125.0,121.4 L125.2,122.2 L125.5,123.0 L125.8,123.7 L126.1,124.5 L126.4,125.3 L126.6,126.1 L126.9,126.8 L127.2,127.6 L127.5,128.4 L127.8,129.2 L128.1,129.9 L128.3,130.7 L128.6,131.5 L128.9,132.3 L129.2,133.0 L129.5,133.8 L129.7,134.6 L130.0,135.4 L130.3,136.1 L130.6,136.9 L130.9,137.7 L131.1,138.5 L131.4,139.2 L131.7,140.0 L132.0,140.8 L132.3,141.6 L132.5,142.3 L132.8,143.1 L133.1,143.9 L133.4,144.7 L133.7,145.5 L133.9,146.2 L134.2,147.0 L134.5,147.8 L134.8,148.6 L135.1,149.3 L135.3,150.1 L135.6,150.9 L135.9,151.7 L136.2,152.4 L136.5,153.2 L136.7,154.0 L137.0,154.8 L137.3,155.5 L137.6,156.3 L137.9,157.1 L138.1,157.9 L138.4,158.7 L138.7,159.4 L139.0,160.2 L139.3,161.0 L139.5,161.8 L139.8,162.5 L140.1,163.3 L140.4,164.1 L140.7,164.9 L140.9,165.6 L141.2,166.4 L141.5,167.2 L141.8,168.0 L142.1,168.7 L142.3,169.5 L142.6,170.3 L142.9,171.1 L143.2,171.9 L143.5,172.6 L143.7,173.4 L144.0,174.2 L144.3,175.0 L144.6,175.7 L144.9,176.5 L145.2,177.3 L145.4,178.1 L145.7,178.8 L146.0,179.6 L146.3,180.4 L146.6,181.2 L146.8,182.0 L147.1,182.7 L147.4,183.5 L147.7,184.3 L148.0,185.1 L148.2,185.8 L148.5,186.6 L148.8,187.4 L149.1,188.2 L149.4,188.9 L149.7,189.7 L149.9,190.5 L150.2,191.3 L150.5,192.0 L150.8,192.8 L151.1,193.6 L151.3,194.4 L151.6,195.1 L151.9,195.9 L152.2,196.7 L152.5,197.5 L152.8,198.3 L153.0,199.0 L153.3,199.8 L153.6,200.6 L153.9,201.4 L154.2,202.1 L154.5,202.9 L154.7,203.7 L155.0,204.5 L155.3,205.2 L155.6,206.0 L155.9,206.8 L156.2,207.6 L156.4,208.3 L156.7,209.1 L157.0,209.9 L157.3,210.7 L157.6,211.4 L157.9,212.2 L158.1,213.0 L158.4,213.8 L158.7,214.5 L159.0,215.3 L159.3,216.1 L159.6,216.9 L159.9,217.6 L160.1,218.4 L160.4,219.2 L160.7,220.0 L161.0,220.7 L161.3,221.5 L161.6,222.3 L161.9,223.1 L162.1,223.8 L162.4,224.6 L162.7,225.4 L163.0,226.2 L163.3,226.9 L163.6,227.7 L163.9,228.5 L164.1,229.3 L164.4,230.0 L164.7,230.8 L165.0,231.6 L165.3,232.4 L165.6,233.1 L165.9,233.9 L166.2,234.7 L166.4,235.4 L166.7,236.2 L167.0,237.0 L167.3,237.8 L167.6,238.5 L167.9,239.3 L168.2,240.1 L168.5,240.9 L168.8,241.6 L169.0,242.4 L169.3,243.2 L169.6,244.0 L169.9,244.7 L170.2,245.5 L170.5,246.3 L170.8,247.0 L171.1,247.8 L171.4,248.6 L171.7,249.4 L172.0,250.1 L172.2,250.9 L172.5,251.7 L172.8,252.4 L173.1,253.2 L173.4,254.0 L173.7,254.8 L174.0,255.5 L174.3,256.3 L174.6,257.1 L174.9,257.8 L175.2,258.6 L175.5,259.4 L175.8,260.2 L176.1,260.9 L176.4,261.7 L176.7,262.5 L176.9,263.2 L177.2,264.0 L177.5,264.8 L177.8,265.5 L178.1,266.3 L178.4,267.1 L178.7,267.9 L179.0,268.6 L179.3,269.4 L179.6,270.2 L179.9,270.9 L180.2,271.7 L180.5,272.5 L180.8,273.2 L181.1,274.0 L181.4,274.8 L181.7,275.5 L182.0,276.3 L182.3,277.1 L182.6,277.8 L182.9,278.6 L183.2,279.4 L183.5,280.1 L183.8,280.9 L184.1,281.7 L184.4,282.4 L184.7,283.2 L185.0,284.0 L185.3,284.7 L185.6,285.5 L185.9,286.3 L186.2,287.0 L186.5,287.8 L186.8,288.6 L187.1,289.3 L187.4,290.1 L187.8,290.9 L188.1,291.6 L188.4,292.4 L188.7,293.2 L189.0,293.9 L189.3,294.7 L189.6,295.4 L189.9,296.2 L190.2,297.0 L190.5,297.7 L190.9,298.5 L191.2,299.3 L191.5,300.0 L191.8,300.8 L192.1,301.5 L192.4,302.3 L192.8,303.1 L193.1,303.8 L193.4,304.6 L193.7,305.3 L194.0,306.1 L194.4,306.8 L194.7,307.6 L195.0,308.4 L195.3,309.1 L195.6,309.9 L196.0,310.6 L196.3,311.4 L196.6,312.1 L197.0,312.9 L197.3,313.7 L197.6,314.4 L197.9,315.2 L198.3,315.9 L198.6,316.7 L198.9,317.4 L199.3,318.2 L199.6,318.9 L200.0,319.7 L200.3,320.4 L200.6,321.2 L201.0,321.9 L201.3,322.7 L201.6,323.4 L202.0,324.2 L202.3,324.9 L202.7,325.7 L203.0,326.4 L203.4,327.2 L203.7,327.9 L204.1,328.7 L204.4,329.4 L204.8,330.2 L205.1,330.9 L205.5,331.7 L205.8,332.4 L206.2,333.1 L206.5,333.9 L206.9,334.6 L207.3,335.4 L207.6,336.1 L208.0,336.9 L208.4,337.6 L208.7,338.3 L209.1,339.1 L209.5,339.8 L209.8,340.6 L210.2,341.3 L210.6,342.0 L210.9,342.8 L211.3,343.5 L211.7,344.3 L212.1,345.0 L212.4,345.7 L212.8,346.5 L213.2,347.2 L213.6,347.9 L214.0,348.7 L214.4,349.4 L214.7,350.1 L215.1,350.9 L215.5,351.6 L215.9,352.3 L216.3,353.0 L216.7,353.8 L217.1,354.5 L217.5,355.2 L217.9,356.0 L218.3,356.7 L218.7,357.4 L219.1,358.1 L219.5,358.9 L219.9,359.6 L220.3,360.3 L220.7,361.0 L221.1,361.8 L221.6,362.5 L222.0,363.2 L222.4,363.9 L222.8,364.6 L223.2,365.4 L223.7,366.1 L224.1,366.8 L224.5,367.5 L224.9,368.2 L225.4,368.9 L225.8,369.6 L226.2,370.4 L226.7,371.1 L227.1,371.8 L227.5,372.5 L228.0,373.2 L228.4,373.9 L228.9,374.6 L229.3,375.3 L229.8,376.0 L230.2,376.8 L230.7,377.5 L231.1,378.2 L231.6,378.9 L232.0,379.6 L232.5,380.3 L232.9,381.0 L233.4,381.7 L233.9,382.4 L234.3,383.1 L234.8,383.8 L235.3,384.5 L235.8,385.2 L236.2,385.9 L236.7,386.6 L237.2,387.3 L237.7,388.0 L238.2,388.7 L238.6,389.3 L239.1,390.0 L239.6,390.7 L240.1,391.4 L240.6,392.1 L241.1,392.7 L241.6,393.4 L242.1,394.1 L242.7,394.7 L243.2,395.4 L243.7,396.0 L244.2,396.7 L244.8,397.3 L245.3,397.9 L245.8,398.6 L246.4,399.2 L246.9,399.8 L247.5,400.4 L248.0,401.0 L248.6,401.6 L249.1,402.1 L249.7,402.7 L250.3,403.3 L250.9,403.8 L251.5,404.4 L252.0,404.9 L252.6,405.4 L253.2,405.9 L253.8,406.4 L254.5,406.9 L255.1,407.4 L255.7,407.9 L256.3,408.3 L257.0,408.8 L257.6,409.2 L258.3,409.6 L258.9,410.0 L259.6,410.4 L260.3,410.8 L260.9,411.1 L261.6,411.5 L262.3,411.8 L263.0,412.1 L263.7,412.4 L264.5,412.7 L265.2,413.0 L265.9,413.3 L266.6,413.5 L267.4,413.7 L268.1,413.9 L268.9,414.1 L269.7,414.3 L270.5,414.5 L271.2,414.6 L272.0,414.7 L272.9,414.8 L273.7,414.9 L274.5,415.0 L275.3,415.0 L276.2,415.0 L277.0,415.0 L277.9,415.0 L278.7,415.0 L279.6,414.9 L280.5,414.8 L281.4,414.7 L282.3,414.6 L283.2,414.5 L284.1,414.3 L285.0,414.2 L285.8,414.0 L286.7,413.7 L287.6,413.5 L288.5,413.3 L289.4,413.0 L290.2,412.7 L291.1,412.4 L291.9,412.1 L292.7,411.7 L293.5,411.4 L294.3,411.0 L295.1,410.6 L295.9,410.2 L296.6,409.7 L297.4,409.3 L298.1,408.8 L298.7,408.3 L299.4,407.8 L300.0,407.3 L300.6,406.8 L301.2,406.2 L301.8,405.7 L302.3,405.1 L302.8,404.5 L303.3,403.9 L303.8,403.3 L304.3,402.7 L304.7,402.0 L305.2,401.4 L305.6,400.7 L306.1,400.1 L306.5,399.4 L307.0,398.8 L307.4,398.1 L307.8,397.5 L308.3,396.8 L308.7,396.1 L309.2,395.5 L309.6,394.8 L310.1,394.2 L310.6,393.5 L311.1,392.9 L311.5,392.2 L312.0,391.5 L312.5,390.9 L313.0,390.2 L313.5,389.6 L314.1,388.9 L314.6,388.3 L315.1,387.6 L315.6,387.0 L316.1,386.3 L316.6,385.7 L317.2,385.0 L317.7,384.4 L318.2,383.8 L318.8,383.1 L319.3,382.5 L319.8,381.8 L320.4,381.2 L320.9,380.5 L321.5,379.9 L322.0,379.3 L322.5,378.6 L323.1,378.0 L323.6,377.4 L324.2,376.7 L324.7,376.1 L325.2,375.4 L325.8,374.8 L326.3,374.2 L326.9,373.5 L327.4,372.9 L328.0,372.3 L328.5,371.6 L329.0,371.0 L329.6,370.4 L330.1,369.8 L330.7,369.1 L331.2,368.5 L331.7,367.9 L332.3,367.2 L332.8,366.6 L333.4,366.0 L333.9,365.4 L334.4,364.7 L335.0,364.1 L335.5,363.5 L336.0,362.9 L336.6,362.2 L337.1,361.6 L337.6,361.0 L338.2,360.4 L338.7,359.7 L339.2,359.1 L339.7,358.5 L340.3,357.9 L340.8,357.2 L341.3,356.6 L341.9,356.0 L342.4,355.4 L342.9,354.8 L343.5,354.1 L344.0,353.5 L344.5,352.9 L345.0,352.3 L345.6,351.6 L346.1,351.0 L346.6,350.4 L347.2,349.8 L347.7,349.2 L348.2,348.5 L348.7,347.9 L349.3,347.3 L349.8,346.7 L350.3,346.0 L350.8,345.4 L351.4,344.8 L351.9,344.2 L352.4,343.5 L353.0,342.9 L353.5,342.3 L354.0,341.7 L354.5,341.0 L355.1,340.4 L355.6,339.8 L356.1,339.2 L356.7,338.5 L357.2,337.9 L357.7,337.3 L358.3,336.6 L358.8,336.0 L359.3,335.4 L359.8,334.7 L360.4,334.1 L360.9,333.5 L361.4,332.8 L362.0,332.2 L362.5,331.6 L363.0,330.9 L363.6,330.3 L364.1,329.7 L364.7,329.0 L365.2,328.4 L365.7,327.7 L366.3,327.1 L366.8,326.5 L367.3,325.8 L367.9,325.2 L368.4,324.6 L369.0,323.9 L369.5,323.3 L370.1,322.6 L370.6,322.0 L371.2,321.4 L371.7,320.7 L372.3,320.1 L372.8,319.5 L373.4,318.9 L374.0,318.2 L374.5,317.6 L375.1,317.0 L375.6,316.4 L376.2,315.8 L376.8,315.2 L377.4,314.5 L377.9,313.9 L378.5,313.3 L379.1,312.7 L379.7,312.2 L380.3,311.6 L380.9,311.0 L381.5,310.4 L382.1,309.8 L382.7,309.3 L383.3,308.7 L383.9,308.1 L384.5,307.6 L385.1,307.0 L385.8,306.5 L386.4,306.0 L387.0,305.4 L387.7,304.9 L388.3,304.4 L388.9,303.9 L389.6,303.4 L390.2,302.9 L390.9,302.4 L391.6,301.9 L392.2,301.4 L392.9,301.0 L393.6,300.5 L394.3,300.1 L395.0,299.6 L395.7,299.2 L396.4,298.8 L397.1,298.3 L397.8,297.9 L398.5,297.5 L399.2,297.1 L400.0,296.8 L400.7,296.4 L401.4,296.0 L402.2,295.7 L402.9,295.3 L403.7,295.0 L404.5,294.7 L405.2,294.4 L406.0,294.1 L406.8,293.8 L407.6,293.5 L408.4,293.3 L409.2,293.0 L410.0,292.8 L410.8,292.6 L411.6,292.4 L412.4,292.3 L413.2,292.2 L414.1,292.1 L414.9,292.0 L415.7,292.0 L416.5,292.0 L417.3,292.0 L418.1,292.1 L418.9,292.2 L419.7,292.4 L420.5,292.6 L421.3,292.8 L422.1,293.0 L422.8,293.3 L423.6,293.6 L424.4,293.9 L425.2,294.3 L425.9,294.6 L426.7,295.0 L427.4,295.4 L428.2,295.8 L428.9,296.2 L429.7,296.7 L430.4,297.1 L431.2,297.5 L431.9,298.0 L432.6,298.4 L433.3,298.9 L434.1,299.3 L434.8,299.8 L435.5,300.2 L436.2,300.7 L436.9,301.1 L437.6,301.6 L438.3,302.1 L439.0,302.5 L439.7,303.0 L440.4,303.5 L441.0,304.0 L441.7,304.4 L442.4,304.9 L443.0,305.4 L443.7,305.9 L444.4,306.4 L445.0,306.9 L445.7,307.4 L446.3,307.9 L447.0,308.4 L447.6,308.9 L448.2,309.4 L448.9,309.9 L449.5,310.5 L450.1,311.0 L450.8,311.5 L451.4,312.0 L452.0,312.6 L452.6,313.1 L453.2,313.6 L453.8,314.2 L454.4,314.7 L455.0,315.3 L455.6,315.8 L456.2,316.4 L456.8,316.9 L457.4,317.5 L458.0,318.1 L458.5,318.6 L459.1,319.2 L459.7,319.8 L460.2,320.3 L460.8,320.9 L461.4,321.5 L461.9,322.1 L462.5,322.7 L463.0,323.3 L463.6,323.9 L464.1,324.5 L464.7,325.1 L465.2,325.7 L465.8,326.3 L466.3,326.9 L466.8,327.5 L467.4,328.1 L467.9,328.8 L468.4,329.4 L468.9,330.0 L469.4,330.7 L470.0,331.3 L470.5,331.9 L471.0,332.6 L471.5,333.2 L472.0,333.9 L472.5,334.5 L473.0,335.2 L473.5,335.8 L474.0,336.5 L474.5,337.2 L475.0,337.8 L475.4,338.5 L475.9,339.2 L476.4,339.8 L476.9,340.5 L477.4,341.2 L477.9,341.8 L478.3,342.5 L478.8,343.2 L479.3,343.9 L479.7,344.6 L480.2,345.2 L480.7,345.9 L481.1,346.6 L481.6,347.3 L482.1,348.0 L482.5,348.7 L483.0,349.3 L483.5,350.0 L483.9,350.7 L484.4,351.4 L484.8,352.1 L485.3,352.8 L485.7,353.5 L486.2,354.2 L486.6,354.9 L487.1,355.6 L487.5,356.3 L488.0,356.9 L488.4,357.6 L488.9,358.3 L489.3,359.0 L489.8,359.7 L490.2,360.4 L490.7,361.1 L491.1,361.8 L491.5,362.5 L492.0,363.2 L492.4,363.9 L492.9,364.6 L493.3,365.3 L493.8,366.0 L494.2,366.7 L494.6,367.4 L495.1,368.1 L495.5,368.8 L496.0,369.5 L496.4,370.2 L496.9,370.9 L497.3,371.5 L497.7,372.2 L498.2,372.9 L498.6,373.6 L499.1,374.3 L499.5,375.0 L500.0,375.7 L500.4,376.4 L500.9,377.1 L501.3,377.8 L501.8,378.5 L502.2,379.2 L502.7,379.8 L503.1,380.5 L503.6,381.2 L504.0,381.9 L504.5,382.6 L504.9,383.3 L505.4,383.9 L505.9,384.6 L506.3,385.3 L506.8,386.0 L507.2,386.7 L507.7,387.3 L508.2,388.0 L508.6,388.7 L509.1,389.4 L509.6,390.0 L510.1,390.7 L510.5,391.4 L511.0,392.1 L511.5,392.7 L512.0,393.4 L512.4,394.0 L512.9,394.7 L513.4,395.4 L513.9,396.0 L514.4,396.7 L514.9,397.3 L515.4,398.0 L515.9,398.6 L516.4,399.3 L516.9,399.9 L517.4,400.6 L517.9,401.2 L518.4,401.9 L518.9,402.5 L519.4,403.2 L520.0,403.8 L520.5,404.4 L521.0,405.1 L521.5,405.7 L522.0,406.4 L522.6,407.0 L523.1,407.6 L523.6,408.2 L524.2,408.9 L524.7,409.5 L525.2,410.1 L525.8,410.8 L526.3,411.4 L526.8,412.0 L527.4,412.6 L527.9,413.3 L528.5,413.9 L529.0,414.5 L529.5,415.1 L530.1,415.7 L530.6,416.4 L531.2,417.0 L531.7,417.6 L532.3,418.2 L532.8,418.8 L533.4,419.5 L533.9,420.1 L534.5,420.7 L535.0,421.3 L535.6,421.9 L536.1,422.6 L536.7,423.2 L537.2,423.8 L537.8,424.4 L538.3,425.0 L538.9,425.7 L539.5,426.3 L540.0,426.9 L540.6,427.5 L541.1,428.1 L541.7,428.7 L542.2,429.4 L542.8,430.0 L543.4,430.6 L543.9,431.2 L544.5,431.8 L545.1,432.4 L545.6,433.0 L546.2,433.5 L546.8,434.1 L547.4,434.7 L548.0,435.2 L548.6,435.8 L549.2,436.3 L549.8,436.9 L550.5,437.4 L551.1,437.9 L551.7,438.4 L552.4,438.9 L553.0,439.4 L553.7,439.9 L554.4,440.4 L555.0,440.8 L555.7,441.3 L556.4,441.7 L557.1,442.2 L557.8,442.6 L558.5,443.0 L559.2,443.4 L559.9,443.8 L560.6,444.2 L561.4,444.6 L562.1,445.0 L562.8,445.4 L563.5,445.8 L564.3,446.2 L565.0,446.5 L565.8,446.9 L566.5,447.2 L567.3,447.6 L568.0,447.9 L568.8,448.3 L569.5,448.6 L570.3,448.9 L571.0,449.3 L571.8,449.6 L572.6,449.9 L573.3,450.2 L574.1,450.5 L574.9,450.9 L575.6,451.2 L576.4,451.5 L577.2,451.8 L577.9,452.1 L578.7,452.4 L579.5,452.7 L580.3,453.0 L581.0,453.2 L581.8,453.5 L582.6,453.8 L583.4,454.1 L584.1,454.4 L584.9,454.7 L585.7,454.9 L586.5,455.2 L587.3,455.5 L588.1,455.7 L588.8,456.0 L589.6,456.3 L590.4,456.5 L591.2,456.8 L592.0,457.0 L592.8,457.3 L593.5,457.5 L594.3,457.8 L595.1,458.0 L595.9,458.3 L596.7,458.5 L597.5,458.8 L598.3,459.0 L599.1,459.2 L599.9,459.5 L600.7,459.7 L601.4,459.9 L602.2,460.2 L603.0,460.4 L603.8,460.6 L604.6,460.8 L605.4,461.0 L606.2,461.3 L607.0,461.5 L607.8,461.7 L608.6,461.9 L609.4,462.1 L610.2,462.3 L611.0,462.5 L611.8,462.7 L612.6,462.9 L613.4,463.1 L614.2,463.3 L615.0,463.5 L615.8,463.7 L616.6,463.9 L617.4,464.1 L618.2,464.3 L619.0,464.5 L619.8,464.7 L620.6,464.8 L621.4,465.0 L622.3,465.2 L623.1,465.4 L623.9,465.6 L624.7,465.7 L625.5,465.9 L626.3,466.1 L627.1,466.3 L627.9,466.4 L628.7,466.6 L629.5,466.8 L630.3,466.9 L631.1,467.1 L632.0,467.2 L632.8,467.4 L633.6,467.6 L634.4,467.7 L635.2,467.9 L636.0,468.0 L636.8,468.2 L637.6,468.3 L638.4,468.5 L639.3,468.6 L640.1,468.8 L640.9,468.9 L641.7,469.1 L642.5,469.2 L643.3,469.4 L644.1,469.5 L645.0,469.7 L645.8,469.8 L646.6,469.9 L647.4,470.1 L648.2,470.2 L649.0,470.4 L649.8,470.5 L650.7,470.6 L651.5,470.8 L652.3,470.9 L653.1,471.0 L653.9,471.2 L654.7,471.3 L655.5,471.4 L656.4,471.6 L657.2,471.7 L658.0,471.8 L658.8,471.9 L659.6,472.1 L660.4,472.2 L661.3,472.3 L662.1,472.4 L662.9,472.5 L663.7,472.7 L664.5,472.8 L665.3,472.9 L666.1,473.0 L667.0,473.1 L667.8,473.3 L668.6,473.4 L669.4,473.5 L670.2,473.6 L671.1,473.7 L671.9,473.8 L672.7,473.9 L673.5,474.0 L674.3,474.1 L675.1,474.3 L676.0,474.4 L676.8,474.5 L677.6,474.6 L678.4,474.7 L679.2,474.8 L680.0,474.9 L680.9,475.0 L681.7,475.1 L682.5,475.2 L683.3,475.3 L684.1,475.4 L685.0,475.5 L685.8,475.6 L686.6,475.7 L687.4,475.8 L688.2,475.9 L689.1,476.0 L689.9,476.1 L690.7,476.1 L691.5,476.2 L692.3,476.3 L693.1,476.4 L694.0,476.5 L694.8,476.6 L695.6,476.7 L696.4,476.8 L697.2,476.9 L698.1,476.9 L698.9,477.0 L699.7,477.1 L700.5,477.2 L701.3,477.3 L702.2,477.4 L703.0,477.4 L703.8,477.5 L704.6,477.6 L705.4,477.7 L706.3,477.8 L707.1,477.8 L707.9,477.9 L708.7,478.0 L709.6,478.1 L710.4,478.1 L711.2,478.2 L712.0,478.3 L712.8,478.4 L713.7,478.4 L714.5,478.5 L715.3,478.6 L716.1,478.6 L716.9,478.7 L717.8,478.8 L718.6,478.9 L719.4,478.9 L720.2,479.0 L721.1,479.1 L721.9,479.1 L722.7,479.2 L723.5,479.3 L724.3,479.3 L725.2,479.4 L726.0,479.4 L726.8,479.5 L727.6,479.6 L728.5,479.6 L729.3,479.7 L730.1,479.7 L730.9,479.8 L731.7,479.9 L732.6,479.9 L733.4,480.0 L734.2,480.0 L735.0,480.1 L735.9,480.2 L736.7,480.2 L737.5,480.3 L738.3,480.3 L739.1,480.4 L740.0,480.4 L740.8,480.5 L741.6,480.5 L742.4,480.6 L743.3,480.6 L744.1,480.7 L744.9,480.7 L745.7,480.8 L746.6,480.8 L747.4,480.9 L748.2,480.9 L749.0,481.0 L749.9,481.0 L750.7,481.1 L751.5,481.1 L752.3,481.2 L753.1,481.2 L754.0,481.2 L754.8,481.3 L755.6,481.3 L756.4,481.4 L757.3,481.4 L758.1,481.5 L758.9,481.5 L759.7,481.5 L760.6,481.6 L761.4,481.6 L762.2,481.7 L763.0,481.7 L763.9,481.7 L764.7,481.8 L765.5,481.8 L766.3,481.9 L767.2,481.9 L768.0,481.9 L768.8,482.0 L769.6,482.0 L770.5,482.0 L771.3,482.1 L772.1,482.1 L772.9,482.1 L773.8,482.2 L774.6,482.2 L775.4,482.3 L776.2,482.3 L777.1,482.3 L777.9,482.4 L778.7,482.4 L779.5,482.4 L780.4,482.4 L781.2,482.5 L782.0,482.5 L782.8,482.5 L783.7,482.6 L784.5,482.6 L785.3,482.6 L786.1,482.7 L787.0,482.7 L787.8,482.7 L788.6,482.7 L789.4,482.8 L790.3,482.8 L791.1,482.8 L791.9,482.9 L792.7,482.9 L793.6,482.9 L794.4,482.9 L795.2,483.0 L796.0,483.0 L796.9,483.0 L797.7,483.0 L798.5,483.1 L799.3,483.1 L800.2,483.1 L801.0,483.1 L801.8,483.2 L802.6,483.2 L803.5,483.2 L804.3,483.2 L805.1,483.3 L805.9,483.3 L806.8,483.3 L807.6,483.3 L808.4,483.3 L809.2,483.4 L810.1,483.4 L810.9,483.4 L811.7,483.4 L812.5,483.5 L813.4,483.5 L814.2,483.5 L815.0,483.5 L815.8,483.5 L816.7,483.6 L817.5,483.6 L818.3,483.6 L819.1,483.6 L820.0,483.6 L820.8,483.7 L821.6,483.7 L822.4,483.7 L823.3,483.7 L824.1,483.7 L824.9,483.8 L825.7,483.8 L826.6,483.8 L827.4,483.8 L828.2,483.8 L829.0,483.8 L829.9,483.9 L830.7,483.9 L831.5,483.9 L832.3,483.9 L833.2,483.9 L834.0,484.0 L834.8,484.0 L835.6,484.0 L836.5,484.0 L837.3,484.0 L838.1,484.0 L838.9,484.1 L839.8,484.1 L840.6,484.1 L841.4,484.1 L842.2,484.1 L843.1,484.1 L843.9,484.2 L844.7,484.2 L845.5,484.2 L846.4,484.2 L847.2,484.2 L848.0,484.2 L848.8,484.3 L849.7,484.3 L850.5,484.3 L851.3,484.3 L852.1,484.3 L853.0,484.4 L853.8,484.4 L854.6,484.4 L855.4,484.4 L856.3,484.4 L857.1,484.4 L857.9,484.5 L858.7,484.5 L859.6,484.5 L860.4,484.5 L861.2,484.5 L862.0,484.5 L862.9,484.6 L863.7,484.6 L864.5,484.6 L865.3,484.6 L866.2,484.6 L867.0,484.6 L867.8,484.7 L868.6,484.7 L869.5,484.7 L870.3,484.7 L871.1,484.7 L871.9,484.8 L872.8,484.8 L873.6,484.8 L874.4,484.8 L875.2,484.8 L876.1,484.8 L876.9,484.9 L877.7,484.9 L878.5,484.9 L879.4,484.9 L880.2,484.9 L881.0,485.0"/>
<path d="M94.5,43.9 L94.8,44.6 L95.1,45.3 L95.4,46.0 L95.7,46.7 L96.0,47.4 L96.3,48.1 L96.6,48.8 L96.9,49.5 L97.2,50.2 L97.5,50.9 L97.8,51.6 L98.1,52.3 L98.4,53.0 L98.7,53.8 L99.0,54.5 L99.3,55.2 L99.6,55.9 L99.9,56.6 L100.2,57.3 L100.5,58.0 L100.8,58.7 L101.1,59.4 L101.4,60.1 L101.7,60.8 L101.9,61.6 L102.2,62.3 L102.5,63.0 L102.8,63.7 L103.1,64.4 L103.4,65.1 L103.7,65.8 L104.0,66.6 L104.2,67.3 L104.5,68.0 L104.8,68.7 L105.1,69.4 L105.4,70.1 L105.6,70.9 L105.9,71.6 L106.2,72.3 L106.5,73.0 L106.8,73.7 L107.1,74.5 L107.3,75.2 L107.6,75.9 L107.9,76.6 L108.2,77.3 L108.4,78.1 L108.7,78.8 L109.0,79.5 L109.3,80.2 L109.5,81.0 L109.8,81.7 L110.1,82.4 L110.4,83.1 L110.6,83.9 L110.9,84.6 L111.2,85.3 L111.5,86.0 L111.7,86.8 L112.0,87.5 L112.3,88.2 L112.5,88.9 L112.8,89.7 L113.1,90.4 L113.3,91.1 L113.6,91.9 L113.9,92.6 L114.2,93.3 L114.4,94.0 L114.7,94.8 L115.0,95.5 L115.2,96.2 L115.5,97.0 L115.8,97.7 L116.0,98.4 L116.3,99.1 L116.6,99.9 L116.8,100.6 L117.1,101.3 L117.3,102.1 L117.6,102.8 L117.9,103.5 L118.1,104.3 L118.4,105.0 L118.7,105.7 L118.9,106.5 L119.2,107.2 L119.5,107.9 L119.7,108.7 L120.0,109.4 L120.2,110.1 L120.5,110.8 L120.8,111.6 L121.0,112.3 L121.3,113.0 L121.5,113.8 L121.8,114.5 L122.1,115.2 L122.3,116.0 L122.6,116.7 L122.8,117.4 L123.1,118.2 L123.4,118.9 L123.6,119.6 L123.9,120.4 L124.1,121.1 L124.4,121.8 L124.7,122.6 L124.9,123.3 L125.2,124.0 L125.4,124.7 L125.7,125.5 L126.0,126.2 L126.2,126.9 L126.5,127.7 L126.7,128.4 L127.0,129.1 L127.2,129.9 L127.5,130.6 L127.8,131.3 L128.0,132.1 L128.3,132.8 L128.5,133.5 L128.8,134.3 L129.1,135.0 L129.3,135.7 L129.6,136.4 L129.8,137.2 L130.1,137.9 L130.3,138.6 L130.6,139.4 L130.9,140.1 L131.1,140.8 L131.4,141.6 L131.6,142.3 L131.9,143.0 L132.1,143.7 L132.4,144.5 L132.6,145.2 L132.9,145.9 L133.2,146.7 L133.4,147.4 L133.7,148.1 L133.9,148.9 L134.2,149.6 L134.4,150.3 L134.7,151.0 L135.0,151.8 L135.2,152.5 L135.5,153.2 L135.7,154.0 L136.0,154.7 L136.2,155.4 L136.5,156.1 L136.8,156.9 L137.0,157.6 L137.3,158.3 L137.5,159.1 L137.8,159.8 L138.0,160.5 L138.3,161.2 L138.5,162.0 L138.8,162.7 L139.1,163.4 L139.3,164.2 L139.6,164.9 L139.8,165.6 L140.1,166.3 L140.3,167.1 L140.6,167.8 L140.9,168.5 L141.1,169.2 L141.4,170.0 L141.6,170.7 L141.9,171.4 L142.1,172.2 L142.4,172.9 L142.7,173.6 L142.9,174.3 L143.2,175.1 L143.4,175.8 L143.7,176.5 L143.9,177.2 L144.2,178.0 L144.5,178.7 L144.7,179.4 L145.0,180.2 L145.2,180.9 L145.5,181.6 L145.7,182.3 L146.0,183.1 L146.3,183.8 L146.5,184.5 L146.8,185.2 L147.0,186.0 L147.3,186.7 L147.5,187.4 L147.8,188.1 L148.1,188.9 L148.3,189.6 L148.6,190.3 L148.8,191.0 L149.1,191.8 L149.4,192.5 L149.6,193.2 L149.9,193.9 L150.1,194.7 L150.4,195.4 L150.7,196.1 L150.9,196.8 L151.2,197.6 L151.4,198.3 L151.7,199.0 L152.0,199.7 L152.2,200.5 L152.5,201.2 L152.7,201.9 L153.0,202.6 L153.3,203.4 L153.5,204.1 L153.8,204.8 L154.0,205.5 L154.3,206.3 L154.6,207.0 L154.8,207.7 L155.1,208.4 L155.4,209.2 L155.6,209.9 L155.9,210.6 L156.1,211.3 L156.4,212.0 L156.7,212.8 L156.9,213.5 L157.2,214.2 L157.5,214.9 L157.7,215.7 L158.0,216.4 L158.3,217.1 L158.5,217.8 L158.8,218.6 L159.1,219.3 L159.3,220.0 L159.6,220.7 L159.8,221.4 L160.1,222.2 L160.4,222.9 L160.6,223.6 L160.9,224.3 L161.2,225.1 L161.4,225.8 L161.7,226.5 L162.0,227.2 L162.3,227.9 L162.5,228.7 L162.8,229.4 L163.1,230.1 L163.3,230.8 L163.6,231.5 L163.9,232.3 L164.1,233.0 L164.4,233.7 L164.7,234.4 L164.9,235.1 L165.2,235.9 L165.5,236.6 L165.8,237.3 L166.0,238.0 L166.3,238.8 L166.6,239.5 L166.8,240.2 L167.1,240.9 L167.4,241.6 L167.7,242.4 L167.9,243.1 L168.2,243.8 L168.5,244.5 L168.8,245.2 L169.0,246.0 L169.3,246.7 L169.6,247.4 L169.9,248.1 L170.1,248.8 L170.4,249.5 L170.7,250.3 L171.0,251.0 L171.2,251.7 L171.5,252.4 L171.8,253.1 L172.1,253.9 L172.3,254.6 L172.6,255.3 L172.9,256.0 L173.2,256.7 L173.5,257.4 L173.7,258.2 L174.0,258.9 L174.3,259.6 L174.6,260.3 L174.9,261.0 L175.1,261.8 L175.4,262.5 L175.7,263.2 L176.0,263.9 L176.3,264.6 L176.6,265.3 L176.8,266.1 L177.1,266.8 L177.4,267.5 L177.7,268.2 L178.0,268.9 L178.3,269.6 L178.6,270.4 L178.8,271.1 L179.1,271.8 L179.4,272.5 L179.7,273.2 L180.0,273.9 L180.3,274.7 L180.6,275.4 L180.9,276.1 L181.1,276.8 L181.4,277.5 L181.7,278.2 L182.0,278.9 L182.3,279.7 L182.6,280.4 L182.9,281.1 L183.2,281.8 L183.5,282.5 L183.8,283.2 L184.1,284.0 L184.4,284.7 L184.6,285.4 L184.9,286.1 L185.2,286.8 L185.5,287.5 L185.8,288.2 L186.1,289.0 L186.4,289.7 L186.7,290.4 L187.0,291.1 L187.3,291.8 L187.6,292.5 L187.9,293.2 L188.2,293.9 L188.5,294.7 L188.8,295.4 L189.1,296.1 L189.4,296.8 L189.7,297.5 L190.0,298.2 L190.3,298.9 L190.6,299.6 L190.9,300.4 L191.2,301.1 L191.5,301.8 L191.8,302.5 L192.2,303.2 L192.5,303.9 L192.8,304.6 L193.1,305.3 L193.4,306.1 L193.7,306.8 L194.0,307.5 L194.3,308.2 L194.6,308.9 L194.9,309.6 L195.2,310.3 L195.6,311.0 L195.9,311.7 L196.2,312.5 L196.5,313.2 L196.8,313.9 L197.1,314.6 L197.4,315.3 L197.7,316.0 L198.1,316.7 L198.4,317.4 L198.7,318.1 L199.0,318.8 L199.3,319.6 L199.6,320.3 L200.0,321.0 L200.3,321.7 L200.6,322.4 L200.9,323.1 L201.2,323.8 L201.6,324.5 L201.9,325.2 L202.2,325.9 L202.5,326.6 L202.9,327.4 L203.2,328.1 L203.5,328.8 L203.8,329.5 L204.2,330.2 L204.5,330.9 L204.8,331.6 L205.1,332.3 L205.5,333.0 L205.8,333.7 L206.1,334.4 L206.5,335.1 L206.8,335.8 L207.1,336.6 L207.5,337.3 L207.8,338.0 L208.1,338.7 L208.5,339.4 L208.8,340.1 L209.1,340.8 L209.5,341.5 L209.8,342.2 L210.1,342.9 L210.5,343.6 L210.8,344.3 L211.2,345.0 L211.5,345.7 L211.8,346.4 L212.2,347.1 L212.5,347.9 L212.9,348.6 L213.2,349.3 L213.5,350.0 L213.9,350.7 L214.2,351.4 L214.6,352.1 L214.9,352.8 L215.3,353.5 L215.6,354.2 L216.0,354.9 L216.3,355.6 L216.7,356.3 L217.0,357.0 L217.4,357.7 L217.7,358.4 L218.1,359.1 L218.4,359.8 L218.8,360.5 L219.1,361.2 L219.5,361.9 L219.8,362.6 L220.2,363.3 L220.6,364.0 L220.9,364.7 L221.3,365.4 L221.6,366.1 L222.0,366.8 L222.4,367.5 L222.7,368.2 L223.1,368.9 L223.5,369.6 L223.8,370.3 L224.2,371.0 L224.6,371.7 L225.0,372.4 L225.3,373.1 L225.7,373.8 L226.1,374.5 L226.5,375.1 L226.9,375.8 L227.2,376.5 L227.6,377.2 L228.0,377.8 L228.4,378.5 L228.8,379.2 L229.2,379.9 L229.6,380.5 L230.0,381.2 L230.4,381.8 L230.9,382.5 L231.3,383.2 L231.7,383.8 L232.1,384.4 L232.5,385.1 L233.0,385.7 L233.4,386.4 L233.8,387.0 L234.3,387.6 L234.7,388.3 L235.2,388.9 L235.6,389.5 L236.1,390.1 L236.5,390.7 L237.0,391.3 L237.4,391.9 L237.9,392.5 L238.4,393.1 L238.9,393.7 L239.3,394.3 L239.8,394.9 L240.3,395.5 L240.8,396.1 L241.3,396.6 L241.8,397.2 L242.3,397.7 L242.8,398.3 L243.4,398.8 L243.9,399.4 L244.4,399.9 L245.0,400.5 L245.5,401.0 L246.0,401.5 L246.6,402.0 L247.2,402.5 L247.7,403.0 L248.3,403.5 L248.9,404.0 L249.4,404.5 L250.0,405.0 L250.6,405.5 L251.2,405.9 L251.8,406.4 L252.4,406.8 L253.0,407.3 L253.7,407.7 L254.3,408.2 L254.9,408.6 L255.6,409.0 L256.2,409.4 L256.9,409.8 L257.5,410.2 L258.2,410.6 L258.8,411.0 L259.5,411.3 L260.2,411.7 L260.9,412.1 L261.6,412.4 L262.3,412.7 L263.0,413.0 L263.7,413.3 L264.4,413.6 L265.1,413.9 L265.8,414.2 L266.5,414.4 L267.3,414.7 L268.0,414.9 L268.7,415.1 L269.5,415.3 L270.2,415.5 L270.9,415.7 L271.7,415.8 L272.4,416.0 L273.1,416.1 L273.9,416.2 L274.6,416.3 L275.4,416.3 L276.1,416.4 L276.9,416.4 L277.6,416.4 L278.4,416.4 L279.1,416.4 L279.9,416.3 L280.6,416.3 L281.4,416.2 L282.1,416.1 L282.9,416.0 L283.6,415.8 L284.4,415.7 L285.1,415.5 L285.8,415.3 L286.6,415.1 L287.3,414.9 L288.1,414.7 L288.8,414.5 L289.6,414.3 L290.3,414.0 L291.1,413.7 L291.8,413.5 L292.5,413.2 L293.3,412.9 L294.0,412.6 L294.8,412.3 L295.5,412.0 L296.2,411.7 L297.0,411.4 L297.7,411.1 L298.4,410.7 L299.1,410.4 L299.9,410.1 L300.6,409.7 L301.3,409.4 L302.0,409.0 L302.8,408.7 L303.5,408.3 L304.2,408.0 L304.9,407.6 L305.6,407.3 L306.3,406.9 L307.0,406.6 L307.7,406.2 L308.4,405.8 L309.1,405.4 L309.9,405.1 L310.5,404.7 L311.2,404.3 L311.9,403.9 L312.6,403.6 L313.3,403.2 L314.0,402.8 L314.7,402.4 L315.4,402.0 L316.1,401.6 L316.8,401.3 L317.4,400.9 L318.1,400.5 L318.8,400.1 L319.5,399.7 L320.1,399.3 L320.8,398.9 L321.5,398.5 L322.2,398.1 L322.8,397.7 L323.5,397.3 L324.1,397.0 L324.8,396.6 L325.5,396.2 L326.1,395.8 L326.8,395.4 L327.4,395.0 L328.1,394.6 L328.7,394.2 L329.4,393.8 L330.0,393.4 L330.7,393.0 L331.3,392.6 L332.0,392.2 L332.6,391.8 L333.2,391.4 L333.9,391.0 L334.5,390.6 L335.2,390.2 L335.8,389.8 L336.4,389.4 L337.1,389.0 L337.7,388.6 L338.3,388.1 L339.0,387.7 L339.6,387.3 L340.2,386.9 L340.9,386.5 L341.5,386.1 L342.1,385.7 L342.8,385.3 L343.4,384.9 L344.0,384.5 L344.7,384.1 L345.3,383.7 L345.9,383.3 L346.5,382.8 L347.2,382.4 L347.8,382.0 L348.4,381.6 L349.1,381.2 L349.7,380.8 L350.3,380.4 L350.9,380.0 L351.6,379.6 L352.2,379.1 L352.8,378.7 L353.5,378.3 L354.1,377.9 L354.7,377.5 L355.4,377.1 L356.0,376.7 L356.6,376.2 L357.3,375.8 L357.9,375.4 L358.5,375.0 L359.2,374.6 L359.8,374.2 L360.4,373.7 L361.1,373.3 L361.7,372.9 L362.4,372.5 L363.0,372.1 L363.6,371.7 L364.3,371.2 L364.9,370.8 L365.6,370.4 L366.2,370.0 L366.9,369.6 L367.5,369.1 L368.2,368.7 L368.8,368.3 L369.5,367.9 L370.1,367.5 L370.8,367.0 L371.4,366.6 L372.1,366.2 L372.8,365.8 L373.4,365.4 L374.1,364.9 L374.8,364.5 L375.4,364.1 L376.1,363.7 L376.8,363.3 L377.5,362.8 L378.1,362.4 L378.8,362.0 L379.5,361.6 L380.2,361.2 L380.9,360.7 L381.6,360.3 L382.3,359.9 L382.9,359.5 L383.6,359.1 L384.3,358.7 L385.0,358.3 L385.7,357.9 L386.4,357.5 L387.1,357.1 L387.8,356.8 L388.6,356.4 L389.3,356.0 L390.0,355.7 L390.7,355.3 L391.4,355.0 L392.1,354.6 L392.8,354.3 L393.6,354.0 L394.3,353.7 L395.0,353.4 L395.7,353.1 L396.5,352.8 L397.2,352.5 L397.9,352.3 L398.7,352.0 L399.4,351.8 L400.1,351.6 L400.9,351.4 L401.6,351.2 L402.3,351.0 L403.1,350.8 L403.8,350.6 L404.6,350.5 L405.3,350.4 L406.1,350.3 L406.8,350.2 L407.6,350.1 L408.3,350.0 L409.1,350.0 L409.8,349.9 L410.6,349.9 L411.4,349.9 L412.1,349.9 L412.9,349.9 L413.6,350.0 L414.4,350.0 L415.2,350.1 L415.9,350.2 L416.7,350.2 L417.4,350.3 L418.2,350.5 L419.0,350.6 L419.7,350.7 L420.5,350.9 L421.2,351.0 L422.0,351.2 L422.8,351.3 L423.5,351.5 L424.3,351.7 L425.1,351.9 L425.8,352.2 L426.6,352.4 L427.3,352.6 L428.1,352.9 L428.8,353.1 L429.6,353.4 L430.3,353.6 L431.1,353.9 L431.8,354.2 L432.6,354.5 L433.3,354.8 L434.1,355.1 L434.8,355.4 L435.6,355.7 L436.3,356.0 L437.0,356.4 L437.8,356.7 L438.5,357.0 L439.2,357.4 L440.0,357.7 L440.7,358.1 L441.4,358.4 L442.1,358.8 L442.8,359.2 L443.5,359.5 L444.3,359.9 L445.0,360.3 L445.7,360.7 L446.4,361.0 L447.1,361.4 L447.7,361.8 L448.4,362.2 L449.1,362.6 L449.8,363.0 L450.5,363.4 L451.2,363.7 L451.8,364.1 L452.5,364.5 L453.2,364.9 L453.8,365.3 L454.5,365.7 L455.1,366.1 L455.8,366.5 L456.4,366.9 L457.1,367.3 L457.7,367.7 L458.3,368.1 L459.0,368.5 L459.6,368.9 L460.3,369.3 L460.9,369.7 L461.5,370.1 L462.1,370.6 L462.8,371.0 L463.4,371.4 L464.0,371.8 L464.6,372.2 L465.2,372.6 L465.9,373.0 L466.5,373.5 L467.1,373.9 L467.7,374.3 L468.3,374.7 L468.9,375.1 L469.6,375.6 L470.2,376.0 L470.8,376.4 L471.4,376.8 L472.0,377.3 L472.6,377.7 L473.2,378.1 L473.8,378.6 L474.4,379.0 L475.1,379.4 L475.7,379.9 L476.3,380.3 L476.9,380.8 L477.5,381.2 L478.1,381.6 L478.8,382.1 L479.4,382.5 L480.0,383.0 L480.6,383.4 L481.2,383.9 L481.9,384.3 L482.5,384.8 L483.1,385.2 L483.7,385.7 L484.4,386.1 L485.0,386.6 L485.6,387.0 L486.2,387.5 L486.9,387.9 L487.5,388.4 L488.1,388.9 L488.8,389.3 L489.4,389.8 L490.0,390.2 L490.6,390.7 L491.3,391.2 L491.9,391.6 L492.5,392.1 L493.1,392.6 L493.8,393.0 L494.4,393.5 L495.0,394.0 L495.6,394.5 L496.2,394.9 L496.9,395.4 L497.5,395.9 L498.1,396.4 L498.7,396.8 L499.3,397.3 L499.9,397.8 L500.5,398.3 L501.1,398.8 L501.8,399.2 L502.4,399.7 L503.0,400.2 L503.6,400.7 L504.2,401.2 L504.8,401.7 L505.4,402.1 L506.0,402.6 L506.6,403.1 L507.2,403.6 L507.8,404.1 L508.4,404.6 L509.0,405.1 L509.6,405.5 L510.1,406.0 L510.7,406.5 L511.3,407.0 L511.9,407.5 L512.5,408.0 L513.1,408.5 L513.7,409.0 L514.3,409.5 L514.9,410.0 L515.5,410.4 L516.1,410.9 L516.7,411.4 L517.3,411.9 L517.8,412.4 L518.4,412.9 L519.0,413.4 L519.6,413.9 L520.2,414.4 L520.8,414.9 L521.4,415.4 L522.0,415.9 L522.6,416.3 L523.2,416.8 L523.8,417.3 L524.3,417.8 L524.9,418.3 L525.5,418.8 L526.1,419.3 L526.7,419.8 L527.3,420.3 L527.9,420.8 L528.5,421.2 L529.1,421.7 L529.7,422.2 L530.3,422.7 L530.9,423.2 L531.5,423.7 L532.1,424.2 L532.7,424.7 L533.3,425.1 L533.9,425.6 L534.5,426.1 L535.1,426.6 L535.7,427.1 L536.3,427.5 L537.0,428.0 L537.6,428.5 L538.2,429.0 L538.8,429.5 L539.4,429.9 L540.0,430.4 L540.6,430.9 L541.3,431.4 L541.9,431.8 L542.5,432.3 L543.1,432.8 L543.7,433.2 L544.4,433.7 L545.0,434.2 L545.6,434.6 L546.2,435.1 L546.9,435.5 L547.5,436.0 L548.1,436.4 L548.8,436.9 L549.4,437.4 L550.0,437.8 L550.7,438.2 L551.3,438.7 L551.9,439.1 L552.6,439.6 L553.2,440.0 L553.9,440.4 L554.5,440.9 L555.2,441.3 L555.8,441.7 L556.5,442.2 L557.1,442.6 L557.8,443.0 L558.4,443.4 L559.1,443.8 L559.7,444.2 L560.4,444.7 L561.0,445.1 L561.7,445.5 L562.4,445.9 L563.0,446.3 L563.7,446.6 L564.4,447.0 L565.0,447.4 L565.7,447.8 L566.4,448.2 L567.0,448.6 L567.7,448.9 L568.4,449.3 L569.1,449.7 L569.7,450.0 L570.4,450.4 L571.1,450.7 L571.8,451.1 L572.5,451.4 L573.2,451.8 L573.9,452.1 L574.5,452.5 L575.2,452.8 L575.9,453.1 L576.6,453.4 L577.3,453.8 L578.0,454.1 L578.7,454.4 L579.4,454.7 L580.1,455.0 L580.8,455.3 L581.5,455.6 L582.2,455.9 L583.0,456.2 L583.7,456.4 L584.4,456.7 L585.1,457.0 L585.8,457.3 L586.5,457.5 L587.2,457.8 L588.0,458.1 L588.7,458.3 L589.4,458.6 L590.1,458.8 L590.8,459.1 L591.6,459.3 L592.3,459.6 L593.0,459.8 L593.8,460.0 L594.5,460.3 L595.2,460.5 L596.0,460.7 L596.7,460.9 L597.4,461.2 L598.2,461.4 L598.9,461.6 L599.6,461.8 L600.4,462.0 L601.1,462.2 L601.9,462.4 L602.6,462.6 L603.3,462.8 L604.1,463.0 L604.8,463.2 L605.6,463.4 L606.3,463.6 L607.1,463.8 L607.8,464.0 L608.6,464.1 L609.3,464.3 L610.1,464.5 L610.8,464.7 L611.6,464.8 L612.3,465.0 L613.1,465.2 L613.8,465.3 L614.6,465.5 L615.4,465.7 L616.1,465.8 L616.9,466.0 L617.6,466.1 L618.4,466.3 L619.2,466.4 L619.9,466.6 L620.7,466.7 L621.4,466.9 L622.2,467.0 L623.0,467.2 L623.7,467.3 L624.5,467.4 L625.3,467.6 L626.0,467.7 L626.8,467.8 L627.6,468.0 L628.3,468.1 L629.1,468.2 L629.9,468.4 L630.6,468.5 L631.4,468.6 L632.2,468.8 L632.9,468.9 L633.7,469.0 L634.5,469.1 L635.2,469.2 L636.0,469.4 L636.8,469.5 L637.5,469.6 L638.3,469.7 L639.1,469.8 L639.9,470.0 L640.6,470.1 L641.4,470.2 L642.2,470.3 L642.9,470.4 L643.7,470.5 L644.5,470.6 L645.3,470.7 L646.0,470.9 L646.8,471.0 L647.6,471.1 L648.3,471.2 L649.1,471.3 L649.9,471.4 L650.7,471.5 L651.4,471.6 L652.2,471.7 L653.0,471.8 L653.7,471.9 L654.5,472.1 L655.3,472.2 L656.0,472.3 L656.8,472.4 L657.6,472.5 L658.4,472.6 L659.1,472.7 L659.9,472.8 L660.7,472.9 L661.4,473.0 L662.2,473.1 L663.0,473.2 L663.7,473.3 L664.5,473.4 L665.3,473.5 L666.0,473.6 L666.8,473.7 L667.6,473.8 L668.3,473.9 L669.1,474.0 L669.9,474.2 L670.7,474.3 L671.4,474.4 L672.2,474.5 L673.0,474.6 L673.7,474.7 L674.5,474.8 L675.3,474.9 L676.0,475.0 L676.8,475.1 L677.6,475.2 L678.3,475.3 L679.1,475.3 L679.9,475.4 L680.6,475.5 L681.4,475.6 L682.2,475.7 L682.9,475.8 L683.7,475.9 L684.5,476.0 L685.2,476.1 L686.0,476.2 L686.8,476.3 L687.5,476.4 L688.3,476.5 L689.1,476.6 L689.8,476.7 L690.6,476.8 L691.4,476.9 L692.1,477.0 L692.9,477.1 L693.7,477.1 L694.4,477.2 L695.2,477.3 L696.0,477.4 L696.7,477.5 L697.5,477.6 L698.3,477.7 L699.0,477.8 L699.8,477.9 L700.6,477.9 L701.3,478.0 L702.1,478.1 L702.9,478.2 L703.6,478.3 L704.4,478.4 L705.2,478.5 L705.9,478.5 L706.7,478.6 L707.5,478.7 L708.2,478.8 L709.0,478.9 L709.8,479.0 L710.5,479.0 L711.3,479.1 L712.1,479.2 L712.8,479.3 L713.6,479.4 L714.4,479.4 L715.1,479.5 L715.9,479.6 L716.7,479.7 L717.4,479.8 L718.2,479.8 L719.0,479.9 L719.7,480.0 L720.5,480.1 L721.3,480.1 L722.0,480.2 L722.8,480.3 L723.6,480.4 L724.3,480.4 L725.1,480.5 L725.9,480.6 L726.6,480.6 L727.4,480.7 L728.2,480.8 L728.9,480.9 L729.7,480.9 L730.5,481.0 L731.2,481.1 L732.0,481.1 L732.8,481.2 L733.5,481.3 L734.3,481.3 L735.1,481.4 L735.8,481.5 L736.6,481.5 L737.4,481.6 L738.1,481.6 L738.9,481.7 L739.7,481.8 L740.4,481.8 L741.2,481.9 L742.0,481.9 L742.7,482.0 L743.5,482.1 L744.3,482.1 L745.0,482.2 L745.8,482.2 L746.6,482.3 L747.3,482.4 L748.1,482.4 L748.9,482.5 L749.6,482.5 L750.4,482.6 L751.2,482.6 L751.9,482.7 L752.7,482.7 L753.5,482.8 L754.3,482.8 L755.0,482.9 L755.8,482.9 L756.6,483.0 L757.3,483.0 L758.1,483.1 L758.9,483.1 L759.6,483.2 L760.4,483.2 L761.2,483.3 L761.9,483.3 L762.7,483.3 L763.5,483.4 L764.2,483.4 L765.0,483.5 L765.8,483.5 L766.6,483.6 L767.3,483.6 L768.1,483.6 L768.9,483.7 L769.6,483.7 L770.4,483.7 L771.2,483.8 L771.9,483.8 L772.7,483.9 L773.5,483.9 L774.3,483.9 L775.0,484.0 L775.8,484.0 L776.6,484.0 L777.3,484.0 L778.1,484.1 L778.9,484.1 L779.7,484.1 L780.4,484.2 L781.2,484.2 L782.0,484.2 L782.7,484.2 L783.5,484.3 L784.3,484.3 L785.1,484.3 L785.8,484.3 L786.6,484.4 L787.4,484.4 L788.2,484.4 L788.9,484.4 L789.7,484.4 L790.5,484.5 L791.3,484.5 L792.0,484.5 L792.8,484.5 L793.6,484.5 L794.3,484.5 L795.1,484.6 L795.9,484.6 L796.7,484.6 L797.4,484.6 L798.2,484.6 L799.0,484.6 L799.8,484.6 L800.5,484.6 L801.3,484.7 L802.1,484.7 L802.9,484.7 L803.6,484.7 L804.4,484.7 L805.2,484.7 L806.0,484.7 L806.7,484.7 L807.5,484.7 L808.3,484.7 L809.1,484.7 L809.8,484.7 L810.6,484.8 L811.4,484.8 L812.2,484.8 L812.9,484.8 L813.7,484.8 L814.5,484.8 L815.3,484.8 L816.0,484.8 L816.8,484.8 L817.6,484.8 L818.4,484.8 L819.1,484.8 L819.9,484.8 L820.7,484.8 L821.5,484.8 L822.2,484.8 L823.0,484.8 L823.8,484.8 L824.6,484.8 L825.4,484.8 L826.1,484.8 L826.9,484.8 L827.7,484.8 L828.5,484.8 L829.2,484.8 L830.0,484.8 L830.8,484.8 L831.6,484.8 L832.3,484.8 L833.1,484.8 L833.9,484.8 L834.7,484.8 L835.4,484.8 L836.2,484.8 L837.0,484.8 L837.8,484.8 L838.5,484.8 L839.3,484.8 L840.1,484.8 L840.9,484.8 L841.6,484.8 L842.4,484.8 L843.2,484.8 L844.0,484.8 L844.7,484.8 L845.5,484.8 L846.3,484.8 L847.1,484.8 L847.8,484.8 L848.6,484.8 L849.4,484.8 L850.1,484.8 L850.9,484.8 L851.7,484.9 L852.5,484.9 L853.2,484.9 L854.0,484.9 L854.8,484.9 L855.6,484.9 L856.3,484.9 L857.1,484.9 L857.9,484.9 L858.7,484.9 L859.4,484.9 L860.2,484.9 L861.0,484.9 L861.7,484.9 L862.5,484.9 L863.3,484.9 L864.1,484.9 L864.8,485.0 L865.6,485.0 L866.4,485.0 L867.1,485.0 L867.9,485.0 L868.7,485.0 L869.5,485.0 L870.2,485.0 L871.0,485.0 L871.8,485.1 L872.5,485.1 L873.3,485.1 L874.1,485.1 L874.8,485.1 L875.6,485.1 L876.4,485.1 L877.2,485.2 L877.9,485.2 L878.7,485.2 L879.5,485.2 L880.2,485.2 L881.0,485.3"/>
<path d="M94.5,44.9 L94.8,45.6 L95.1,46.3 L95.3,47.0 L95.6,47.7 L95.9,48.4 L96.2,49.1 L96.4,49.8 L96.7,50.5 L97.0,51.2 L97.2,51.9 L97.5,52.6 L97.8,53.3 L98.1,54.0 L98.3,54.7 L98.6,55.4 L98.9,56.1 L99.1,56.8 L99.4,57.5 L99.7,58.2 L100.0,58.9 L100.2,59.6 L100.5,60.3 L100.8,61.0 L101.0,61.7 L101.3,62.5 L101.6,63.2 L101.9,63.9 L102.1,64.6 L102.4,65.3 L102.7,66.0 L102.9,66.7 L103.2,67.4 L103.5,68.1 L103.7,68.8 L104.0,69.5 L104.3,70.2 L104.5,70.9 L104.8,71.7 L105.1,72.4 L105.4,73.1 L105.6,73.8 L105.9,74.5 L106.2,75.2 L106.4,75.9 L106.7,76.6 L107.0,77.3 L107.2,78.0 L107.5,78.8 L107.8,79.5 L108.0,80.2 L108.3,80.9 L108.6,81.6 L108.8,82.3 L109.1,83.0 L109.3,83.7 L109.6,84.4 L109.9,85.2 L110.1,85.9 L110.4,86.6 L110.7,87.3 L110.9,88.0 L111.2,88.7 L111.5,89.4 L111.7,90.1 L112.0,90.8 L112.3,91.6 L112.5,92.3 L112.8,93.0 L113.0,93.7 L113.3,94.4 L113.6,95.1 L113.8,95.8 L114.1,96.6 L114.4,97.3 L114.6,98.0 L114.9,98.7 L115.1,99.4 L115.4,100.1 L115.7,100.8 L115.9,101.5 L116.2,102.3 L116.4,103.0 L116.7,103.7 L117.0,104.4 L117.2,105.1 L117.5,105.8 L117.7,106.5 L118.0,107.2 L118.2,108.0 L118.5,108.7 L118.8,109.4 L119.0,110.1 L119.3,110.8 L119.5,111.5 L119.8,112.2 L120.1,113.0 L120.3,113.7 L120.6,114.4 L120.8,115.1 L121.1,115.8 L121.3,116.5 L121.6,117.2 L121.8,117.9 L122.1,118.7 L122.4,119.4 L122.6,120.1 L122.9,120.8 L123.1,121.5 L123.4,122.2 L123.6,122.9 L123.9,123.7 L124.1,124.4 L124.4,125.1 L124.7,125.8 L124.9,126.5 L125.2,127.2 L125.4,127.9 L125.7,128.6 L125.9,129.4 L126.2,130.1 L126.4,130.8 L126.7,131.5 L126.9,132.2 L127.2,132.9 L127.4,133.6 L127.7,134.3 L127.9,135.1 L128.2,135.8 L128.5,136.5 L128.7,137.2 L129.0,137.9 L129.2,138.6 L129.5,139.3 L129.7,140.1 L130.0,140.8 L130.2,141.5 L130.5,142.2 L130.7,142.9 L131.0,143.6 L131.2,144.3 L131.5,145.0 L131.7,145.8 L132.0,146.5 L132.2,147.2 L132.5,147.9 L132.7,148.6 L133.0,149.3 L133.2,150.0 L133.5,150.8 L133.7,151.5 L134.0,152.2 L134.2,152.9 L134.5,153.6 L134.7,154.3 L135.0,155.0 L135.2,155.7 L135.5,156.5 L135.7,157.2 L136.0,157.9 L136.3,158.6 L136.5,159.3 L136.8,160.0 L137.0,160.7 L137.3,161.5 L137.5,162.2 L137.8,162.9 L138.0,163.6 L138.3,164.3 L138.5,165.0 L138.8,165.7 L139.0,166.4 L139.3,167.2 L139.5,167.9 L139.8,168.6 L140.0,169.3 L140.3,170.0 L140.5,170.7 L140.8,171.4 L141.0,172.2 L141.3,172.9 L141.5,173.6 L141.8,174.3 L142.0,175.0 L142.3,175.7 L142.5,176.4 L142.8,177.1 L143.0,177.9 L143.3,178.6 L143.5,179.3 L143.8,180.0 L144.0,180.7 L144.3,181.4 L144.5,182.1 L144.8,182.9 L145.0,183.6 L145.3,184.3 L145.5,185.0 L145.8,185.7 L146.0,186.4 L146.3,187.1 L146.5,187.9 L146.8,188.6 L147.0,189.3 L147.3,190.0 L147.6,190.7 L147.8,191.4 L148.1,192.1 L148.3,192.9 L148.6,193.6 L148.8,194.3 L149.1,195.0 L149.3,195.7 L149.6,196.4 L149.8,197.1 L150.1,197.8 L150.3,198.6 L150.6,199.3 L150.8,200.0 L151.1,200.7 L151.4,201.4 L151.6,202.1 L151.9,202.8 L152.1,203.6 L152.4,204.3 L152.6,205.0 L152.9,205.7 L153.1,206.4 L153.4,207.1 L153.6,207.8 L153.9,208.6 L154.2,209.3 L154.4,210.0 L154.7,210.7 L154.9,211.4 L155.2,212.1 L155.4,212.8 L155.7,213.6 L156.0,214.3 L156.2,215.0 L156.5,215.7 L156.7,216.4 L157.0,217.1 L157.2,217.8 L157.5,218.6 L157.8,219.3 L158.0,220.0 L158.3,220.7 L158.5,221.4 L158.8,222.1 L159.0,222.8 L159.3,223.6 L159.6,224.3 L159.8,225.0 L160.1,225.7 L160.3,226.4 L160.6,227.1 L160.9,227.8 L161.1,228.6 L161.4,229.3 L161.6,230.0 L161.9,230.7 L162.2,231.4 L162.4,232.1 L162.7,232.8 L163.0,233.6 L163.2,234.3 L163.5,235.0 L163.7,235.7 L164.0,236.4 L164.3,237.1 L164.5,237.8 L164.8,238.6 L165.1,239.3 L165.3,240.0 L165.6,240.7 L165.9,241.4 L166.1,242.1 L166.4,242.8 L166.7,243.5 L166.9,244.3 L167.2,245.0 L167.5,245.7 L167.7,246.4 L168.0,247.1 L168.3,247.8 L168.5,248.5 L168.8,249.2 L169.1,250.0 L169.3,250.7 L169.6,251.4 L169.9,252.1 L170.1,252.8 L170.4,253.5 L170.7,254.2 L170.9,254.9 L171.2,255.6 L171.5,256.3 L171.8,257.1 L172.0,257.8 L172.3,258.5 L172.6,259.2 L172.8,259.9 L173.1,260.6 L173.4,261.3 L173.7,262.0 L173.9,262.7 L174.2,263.4 L174.5,264.2 L174.8,264.9 L175.0,265.6 L175.3,266.3 L175.6,267.0 L175.9,267.7 L176.1,268.4 L176.4,269.1 L176.7,269.8 L177.0,270.5 L177.2,271.2 L177.5,271.9 L177.8,272.6 L178.1,273.4 L178.4,274.1 L178.6,274.8 L178.9,275.5 L179.2,276.2 L179.5,276.9 L179.8,277.6 L180.0,278.3 L180.3,279.0 L180.6,279.7 L180.9,280.4 L181.2,281.1 L181.4,281.8 L181.7,282.5 L182.0,283.2 L182.3,283.9 L182.6,284.6 L182.9,285.3 L183.1,286.0 L183.4,286.7 L183.7,287.4 L184.0,288.1 L184.3,288.8 L184.6,289.5 L184.9,290.2 L185.2,290.9 L185.4,291.6 L185.7,292.3 L186.0,293.0 L186.3,293.7 L186.6,294.4 L186.9,295.1 L187.2,295.8 L187.5,296.5 L187.8,297.2 L188.1,297.9 L188.3,298.6 L188.6,299.3 L188.9,300.0 L189.2,300.7 L189.5,301.4 L189.8,302.1 L190.1,302.8 L190.4,303.5 L190.7,304.2 L191.0,304.9 L191.3,305.6 L191.6,306.3 L191.9,307.0 L192.2,307.7 L192.5,308.4 L192.8,309.1 L193.1,309.7 L193.4,310.4 L193.7,311.1 L194.0,311.8 L194.3,312.5 L194.6,313.2 L194.9,313.9 L195.2,314.6 L195.5,315.3 L195.8,316.0 L196.1,316.6 L196.4,317.3 L196.7,318.0 L197.0,318.7 L197.3,319.4 L197.6,320.1 L197.9,320.8 L198.2,321.5 L198.5,322.1 L198.9,322.8 L199.2,323.5 L199.5,324.2 L199.8,324.9 L200.1,325.6 L200.4,326.3 L200.7,326.9 L201.0,327.6 L201.3,328.3 L201.7,329.0 L202.0,329.7 L202.3,330.4 L202.6,331.0 L202.9,331.7 L203.2,332.4 L203.5,333.1 L203.9,333.8 L204.2,334.4 L204.5,335.1 L204.8,335.8 L205.1,336.5 L205.5,337.1 L205.8,337.8 L206.1,338.5 L206.4,339.2 L206.7,339.9 L207.1,340.5 L207.4,341.2 L207.7,341.9 L208.0,342.6 L208.4,343.2 L208.7,343.9 L209.0,344.6 L209.4,345.2 L209.7,345.9 L210.0,346.6 L210.4,347.3 L210.7,347.9 L211.0,348.6 L211.4,349.3 L211.7,350.0 L212.0,350.6 L212.4,351.3 L212.7,352.0 L213.1,352.6 L213.4,353.3 L213.7,354.0 L214.1,354.7 L214.4,355.3 L214.8,356.0 L215.1,356.7 L215.5,357.3 L215.8,358.0 L216.2,358.7 L216.6,359.3 L216.9,360.0 L217.3,360.7 L217.6,361.4 L218.0,362.0 L218.4,362.7 L218.7,363.4 L219.1,364.0 L219.5,364.7 L219.8,365.4 L220.2,366.0 L220.6,366.7 L221.0,367.4 L221.3,368.0 L221.7,368.7 L222.1,369.4 L222.5,370.0 L222.9,370.7 L223.2,371.4 L223.6,372.0 L224.0,372.7 L224.4,373.4 L224.8,374.0 L225.2,374.7 L225.6,375.4 L226.0,376.0 L226.4,376.7 L226.8,377.4 L227.2,378.1 L227.6,378.7 L228.0,379.4 L228.4,380.1 L228.8,380.7 L229.3,381.4 L229.7,382.1 L230.1,382.7 L230.5,383.4 L230.9,384.1 L231.4,384.7 L231.8,385.4 L232.2,386.1 L232.7,386.7 L233.1,387.4 L233.5,388.1 L234.0,388.7 L234.4,389.4 L234.9,390.1 L235.3,390.7 L235.8,391.4 L236.2,392.0 L236.7,392.7 L237.1,393.3 L237.6,394.0 L238.1,394.6 L238.5,395.3 L239.0,395.9 L239.5,396.5 L240.0,397.2 L240.5,397.8 L241.0,398.4 L241.4,399.0 L241.9,399.6 L242.4,400.2 L242.9,400.8 L243.4,401.4 L244.0,402.0 L244.5,402.6 L245.0,403.2 L245.5,403.7 L246.0,404.3 L246.6,404.8 L247.1,405.4 L247.6,405.9 L248.2,406.4 L248.7,406.9 L249.3,407.4 L249.8,407.9 L250.4,408.4 L251.0,408.9 L251.5,409.4 L252.1,409.8 L252.7,410.3 L253.3,410.7 L253.9,411.1 L254.5,411.5 L255.1,412.0 L255.7,412.3 L256.3,412.7 L256.9,413.1 L257.5,413.4 L258.2,413.8 L258.8,414.1 L259.4,414.4 L260.1,414.7 L260.7,415.0 L261.4,415.3 L262.0,415.5 L262.7,415.8 L263.4,416.0 L264.1,416.2 L264.7,416.4 L265.4,416.6 L266.1,416.8 L266.8,416.9 L267.5,417.1 L268.2,417.2 L269.0,417.3 L269.7,417.4 L270.4,417.5 L271.1,417.6 L271.9,417.6 L272.6,417.7 L273.3,417.7 L274.1,417.8 L274.8,417.8 L275.5,417.8 L276.3,417.8 L277.0,417.7 L277.8,417.7 L278.5,417.7 L279.3,417.6 L280.0,417.6 L280.8,417.5 L281.5,417.4 L282.3,417.3 L283.0,417.2 L283.8,417.1 L284.5,417.0 L285.3,416.9 L286.0,416.8 L286.8,416.6 L287.5,416.5 L288.3,416.3 L289.0,416.1 L289.8,416.0 L290.5,415.8 L291.2,415.6 L292.0,415.4 L292.7,415.2 L293.4,415.0 L294.2,414.8 L294.9,414.6 L295.6,414.4 L296.4,414.1 L297.1,413.9 L297.8,413.7 L298.5,413.4 L299.3,413.2 L300.0,412.9 L300.7,412.7 L301.4,412.4 L302.1,412.1 L302.9,411.9 L303.6,411.6 L304.3,411.3 L305.0,411.0 L305.7,410.7 L306.4,410.5 L307.1,410.2 L307.8,409.9 L308.5,409.6 L309.3,409.3 L310.0,409.0 L310.7,408.7 L311.4,408.4 L312.1,408.1 L312.8,407.8 L313.5,407.5 L314.2,407.1 L314.9,406.8 L315.6,406.5 L316.3,406.2 L317.0,405.9 L317.7,405.6 L318.4,405.3 L319.1,405.0 L319.8,404.7 L320.5,404.3 L321.2,404.0 L321.9,403.7 L322.6,403.4 L323.3,403.1 L324.0,402.8 L324.7,402.5 L325.4,402.2 L326.1,401.9 L326.8,401.6 L327.5,401.3 L328.2,401.0 L328.9,400.7 L329.6,400.4 L330.3,400.1 L331.0,399.8 L331.6,399.5 L332.3,399.2 L333.0,398.9 L333.7,398.6 L334.4,398.3 L335.1,398.0 L335.8,397.7 L336.5,397.4 L337.2,397.1 L337.9,396.8 L338.6,396.5 L339.3,396.2 L340.0,396.0 L340.7,395.7 L341.4,395.4 L342.1,395.1 L342.8,394.8 L343.5,394.5 L344.2,394.3 L344.9,394.0 L345.6,393.7 L346.3,393.4 L347.0,393.1 L347.7,392.9 L348.4,392.6 L349.1,392.3 L349.8,392.0 L350.5,391.8 L351.2,391.5 L351.9,391.2 L352.6,391.0 L353.3,390.7 L354.0,390.4 L354.7,390.2 L355.4,389.9 L356.1,389.6 L356.8,389.4 L357.5,389.1 L358.2,388.9 L359.0,388.6 L359.7,388.3 L360.4,388.1 L361.1,387.8 L361.8,387.6 L362.5,387.3 L363.2,387.1 L363.9,386.8 L364.6,386.6 L365.3,386.4 L366.1,386.1 L366.8,385.9 L367.5,385.6 L368.2,385.4 L368.9,385.2 L369.6,384.9 L370.3,384.7 L371.1,384.5 L371.8,384.2 L372.5,384.0 L373.2,383.8 L373.9,383.6 L374.7,383.3 L375.4,383.1 L376.1,382.9 L376.8,382.7 L377.6,382.5 L378.3,382.3 L379.0,382.0 L379.7,381.8 L380.5,381.6 L381.2,381.4 L381.9,381.2 L382.7,381.0 L383.4,380.8 L384.1,380.6 L384.9,380.4 L385.6,380.2 L386.3,380.0 L387.1,379.8 L387.8,379.6 L388.5,379.5 L389.3,379.3 L390.0,379.1 L390.8,378.9 L391.5,378.7 L392.3,378.5 L393.0,378.4 L393.8,378.2 L394.5,378.0 L395.3,377.9 L396.0,377.7 L396.8,377.5 L397.5,377.4 L398.3,377.2 L399.0,377.1 L399.8,377.0 L400.5,376.8 L401.3,376.7 L402.0,376.6 L402.8,376.5 L403.6,376.4 L404.3,376.3 L405.1,376.2 L405.8,376.2 L406.6,376.1 L407.3,376.1 L408.1,376.0 L408.8,376.0 L409.6,376.0 L410.3,376.0 L411.1,376.0 L411.8,376.0 L412.6,376.0 L413.4,376.0 L414.1,376.1 L414.9,376.1 L415.6,376.2 L416.4,376.2 L417.1,376.3 L417.8,376.4 L418.6,376.5 L419.3,376.6 L420.1,376.7 L420.8,376.8 L421.6,376.9 L422.3,377.0 L423.1,377.2 L423.8,377.3 L424.5,377.4 L425.3,377.6 L426.0,377.8 L426.8,377.9 L427.5,378.1 L428.2,378.3 L429.0,378.5 L429.7,378.7 L430.4,378.9 L431.2,379.1 L431.9,379.3 L432.6,379.5 L433.4,379.8 L434.1,380.0 L434.8,380.2 L435.5,380.5 L436.3,380.7 L437.0,381.0 L437.7,381.3 L438.4,381.5 L439.1,381.8 L439.9,382.1 L440.6,382.4 L441.3,382.6 L442.0,382.9 L442.7,383.2 L443.4,383.5 L444.1,383.8 L444.8,384.1 L445.5,384.5 L446.2,384.8 L446.9,385.1 L447.6,385.4 L448.3,385.7 L449.0,386.1 L449.7,386.4 L450.4,386.7 L451.1,387.1 L451.8,387.4 L452.4,387.8 L453.1,388.1 L453.8,388.5 L454.5,388.8 L455.2,389.2 L455.8,389.5 L456.5,389.9 L457.2,390.2 L457.8,390.6 L458.5,391.0 L459.2,391.3 L459.8,391.7 L460.5,392.1 L461.2,392.4 L461.8,392.8 L462.5,393.2 L463.1,393.6 L463.8,393.9 L464.4,394.3 L465.1,394.7 L465.8,395.1 L466.4,395.5 L467.1,395.8 L467.7,396.2 L468.4,396.6 L469.0,397.0 L469.7,397.4 L470.3,397.8 L471.0,398.1 L471.6,398.5 L472.2,398.9 L472.9,399.3 L473.5,399.7 L474.2,400.1 L474.8,400.5 L475.5,400.8 L476.1,401.2 L476.8,401.6 L477.4,402.0 L478.1,402.4 L478.7,402.8 L479.4,403.1 L480.0,403.5 L480.7,403.9 L481.3,404.3 L482.0,404.6 L482.6,405.0 L483.3,405.4 L483.9,405.8 L484.6,406.1 L485.2,406.5 L485.9,406.9 L486.6,407.2 L487.2,407.6 L487.9,408.0 L488.6,408.3 L489.2,408.7 L489.9,409.0 L490.5,409.4 L491.2,409.7 L491.9,410.1 L492.6,410.4 L493.2,410.8 L493.9,411.1 L494.6,411.5 L495.3,411.8 L495.9,412.1 L496.6,412.5 L497.3,412.8 L498.0,413.1 L498.7,413.5 L499.4,413.8 L500.1,414.1 L500.7,414.4 L501.4,414.7 L502.1,415.0 L502.8,415.4 L503.5,415.7 L504.2,416.0 L504.9,416.3 L505.6,416.6 L506.3,416.9 L507.0,417.2 L507.7,417.5 L508.4,417.8 L509.1,418.1 L509.8,418.4 L510.5,418.7 L511.2,418.9 L511.9,419.2 L512.6,419.5 L513.3,419.8 L514.0,420.1 L514.7,420.4 L515.4,420.7 L516.1,421.0 L516.9,421.3 L517.6,421.5 L518.3,421.8 L519.0,422.1 L519.7,422.4 L520.4,422.7 L521.1,423.0 L521.8,423.3 L522.5,423.6 L523.2,423.9 L523.9,424.2 L524.5,424.5 L525.2,424.8 L525.9,425.1 L526.6,425.4 L527.3,425.7 L528.0,426.1 L528.7,426.4 L529.4,426.7 L530.0,427.0 L530.7,427.4 L531.4,427.7 L532.1,428.0 L532.7,428.4 L533.4,428.7 L534.1,429.1 L534.7,429.4 L535.4,429.8 L536.1,430.2 L536.7,430.5 L537.4,430.9 L538.0,431.3 L538.7,431.7 L539.3,432.1 L540.0,432.5 L540.6,432.9 L541.2,433.3 L541.9,433.7 L542.5,434.1 L543.1,434.5 L543.8,434.9 L544.4,435.3 L545.0,435.8 L545.6,436.2 L546.3,436.6 L546.9,437.0 L547.5,437.5 L548.1,437.9 L548.7,438.4 L549.4,438.8 L550.0,439.2 L550.6,439.7 L551.2,440.1 L551.8,440.5 L552.5,441.0 L553.1,441.4 L553.7,441.9 L554.3,442.3 L554.9,442.7 L555.6,443.1 L556.2,443.6 L556.8,444.0 L557.5,444.4 L558.1,444.8 L558.7,445.3 L559.4,445.7 L560.0,446.1 L560.6,446.5 L561.3,446.9 L561.9,447.3 L562.6,447.7 L563.2,448.1 L563.9,448.4 L564.5,448.8 L565.2,449.2 L565.8,449.6 L566.5,449.9 L567.2,450.3 L567.8,450.7 L568.5,451.0 L569.2,451.4 L569.8,451.7 L570.5,452.0 L571.2,452.4 L571.8,452.7 L572.5,453.1 L573.2,453.4 L573.9,453.7 L574.6,454.0 L575.3,454.3 L575.9,454.7 L576.6,455.0 L577.3,455.3 L578.0,455.6 L578.7,455.9 L579.4,456.2 L580.1,456.5 L580.8,456.8 L581.5,457.0 L582.2,457.3 L582.9,457.6 L583.6,457.9 L584.3,458.2 L585.0,458.4 L585.7,458.7 L586.4,459.0 L587.1,459.2 L587.8,459.5 L588.5,459.7 L589.3,460.0 L590.0,460.2 L590.7,460.5 L591.4,460.7 L592.1,461.0 L592.8,461.2 L593.5,461.5 L594.3,461.7 L595.0,461.9 L595.7,462.2 L596.4,462.4 L597.1,462.6 L597.8,462.8 L598.6,463.1 L599.3,463.3 L600.0,463.5 L600.7,463.7 L601.5,463.9 L602.2,464.1 L602.9,464.3 L603.6,464.6 L604.3,464.8 L605.1,465.0 L605.8,465.2 L606.5,465.3 L607.3,465.5 L608.0,465.7 L608.7,465.9 L609.4,466.1 L610.2,466.3 L610.9,466.5 L611.6,466.7 L612.4,466.8 L613.1,467.0 L613.8,467.2 L614.6,467.4 L615.3,467.5 L616.0,467.7 L616.8,467.9 L617.5,468.0 L618.2,468.2 L619.0,468.4 L619.7,468.5 L620.5,468.7 L621.2,468.8 L621.9,469.0 L622.7,469.1 L623.4,469.3 L624.2,469.4 L624.9,469.6 L625.6,469.7 L626.4,469.9 L627.1,470.0 L627.9,470.1 L628.6,470.3 L629.3,470.4 L630.1,470.6 L630.8,470.7 L631.6,470.8 L632.3,470.9 L633.1,471.1 L633.8,471.2 L634.6,471.3 L635.3,471.5 L636.1,471.6 L636.8,471.7 L637.6,471.8 L638.3,471.9 L639.1,472.1 L639.8,472.2 L640.6,472.3 L641.3,472.4 L642.1,472.5 L642.8,472.6 L643.6,472.7 L644.3,472.8 L645.1,472.9 L645.8,473.0 L646.6,473.2 L647.3,473.3 L648.1,473.4 L648.8,473.5 L649.6,473.6 L650.3,473.7 L651.1,473.8 L651.8,473.9 L652.6,473.9 L653.3,474.0 L654.1,474.1 L654.8,474.2 L655.6,474.3 L656.4,474.4 L657.1,474.5 L657.9,474.6 L658.6,474.7 L659.4,474.8 L660.1,474.9 L660.9,474.9 L661.6,475.0 L662.4,475.1 L663.2,475.2 L663.9,475.3 L664.7,475.4 L665.4,475.4 L666.2,475.5 L666.9,475.6 L667.7,475.7 L668.5,475.8 L669.2,475.8 L670.0,475.9 L670.7,476.0 L671.5,476.1 L672.3,476.1 L673.0,476.2 L673.8,476.3 L674.5,476.4 L675.3,476.4 L676.0,476.5 L676.8,476.6 L677.6,476.7 L678.3,476.7 L679.1,476.8 L679.8,476.9 L680.6,477.0 L681.4,477.0 L682.1,477.1 L682.9,477.2 L683.6,477.2 L684.4,477.3 L685.2,477.4 L685.9,477.5 L686.7,477.5 L687.4,477.6 L688.2,477.7 L688.9,477.7 L689.7,477.8 L690.5,477.9 L691.2,477.9 L692.0,478.0 L692.7,478.1 L693.5,478.1 L694.3,478.2 L695.0,478.3 L695.8,478.4 L696.5,478.4 L697.3,478.5 L698.0,478.6 L698.8,478.6 L699.6,478.7 L700.3,478.8 L701.1,478.9 L701.8,478.9 L702.6,479.0 L703.3,479.1 L704.1,479.1 L704.9,479.2 L705.6,479.3 L706.4,479.4 L707.1,479.4 L707.9,479.5 L708.6,479.6 L709.4,479.6 L710.1,479.7 L710.9,479.8 L711.7,479.9 L712.4,479.9 L713.2,480.0 L713.9,480.1 L714.7,480.2 L715.4,480.2 L716.2,480.3 L716.9,480.4 L717.7,480.5 L718.4,480.5 L719.2,480.6 L719.9,480.7 L720.7,480.7 L721.5,480.8 L722.2,480.9 L723.0,481.0 L723.7,481.0 L724.5,481.1 L725.2,481.2 L726.0,481.3 L726.7,481.3 L727.5,481.4 L728.2,481.5 L729.0,481.6 L729.7,481.6 L730.5,481.7 L731.2,481.8 L732.0,481.8 L732.8,481.9 L733.5,482.0 L734.3,482.1 L735.0,482.1 L735.8,482.2 L736.5,482.3 L737.3,482.3 L738.0,482.4 L738.8,482.5 L739.5,482.5 L740.3,482.6 L741.0,482.7 L741.8,482.8 L742.5,482.8 L743.3,482.9 L744.0,483.0 L744.8,483.0 L745.5,483.1 L746.3,483.2 L747.0,483.2 L747.8,483.3 L748.5,483.4 L749.3,483.4 L750.1,483.5 L750.8,483.6 L751.6,483.6 L752.3,483.7 L753.1,483.7 L753.8,483.8 L754.6,483.9 L755.3,483.9 L756.1,484.0 L756.8,484.1 L757.6,484.1 L758.3,484.2 L759.1,484.2 L759.8,484.3 L760.6,484.4 L761.3,484.4 L762.1,484.5 L762.8,484.5 L763.6,484.6 L764.3,484.6 L765.1,484.7 L765.8,484.7 L766.6,484.8 L767.4,484.9 L768.1,484.9 L768.9,485.0 L769.6,485.0 L770.4,485.1 L771.1,485.1 L771.9,485.2 L772.6,485.2 L773.4,485.3 L774.1,485.3 L774.9,485.3 L775.6,485.4 L776.4,485.4 L777.1,485.5 L777.9,485.5 L778.7,485.6 L779.4,485.6 L780.2,485.7 L780.9,485.7 L781.7,485.7 L782.4,485.8 L783.2,485.8 L783.9,485.8 L784.7,485.9 L785.4,485.9 L786.2,486.0 L786.9,486.0 L787.7,486.0 L788.5,486.1 L789.2,486.1 L790.0,486.1 L790.7,486.1 L791.5,486.2 L792.2,486.2 L793.0,486.2 L793.7,486.2 L794.5,486.3 L795.3,486.3 L796.0,486.3 L796.8,486.3 L797.5,486.4 L798.3,486.4 L799.0,486.4 L799.8,486.4 L800.6,486.4 L801.3,486.4 L802.1,486.5 L802.8,486.5 L803.6,486.5 L804.3,486.5 L805.1,486.5 L805.9,486.5 L806.6,486.5 L807.4,486.5 L808.1,486.5 L808.9,486.5 L809.6,486.5 L810.4,486.6 L811.2,486.6 L811.9,486.6 L812.7,486.6 L813.4,486.5 L814.2,486.5 L815.0,486.5 L815.7,486.5 L816.5,486.5 L817.2,486.5 L818.0,486.5 L818.8,486.5 L819.5,486.5 L820.3,486.5 L821.0,486.5 L821.8,486.5 L822.6,486.5 L823.3,486.4 L824.1,486.4 L824.9,486.4 L825.6,486.4 L826.4,486.4 L827.1,486.4 L827.9,486.3 L828.7,486.3 L829.4,486.3 L830.2,486.3 L830.9,486.3 L831.7,486.3 L832.5,486.2 L833.2,486.2 L834.0,486.2 L834.8,486.2 L835.5,486.2 L836.3,486.1 L837.0,486.1 L837.8,486.1 L838.6,486.1 L839.3,486.0 L840.1,486.0 L840.8,486.0 L841.6,486.0 L842.4,486.0 L843.1,485.9 L843.9,485.9 L844.7,485.9 L845.4,485.9 L846.2,485.9 L846.9,485.8 L847.7,485.8 L848.5,485.8 L849.2,485.8 L850.0,485.8 L850.7,485.7 L851.5,485.7 L852.3,485.7 L853.0,485.7 L853.8,485.7 L854.5,485.6 L855.3,485.6 L856.1,485.6 L856.8,485.6 L857.6,485.6 L858.3,485.6 L859.1,485.5 L859.9,485.5 L860.6,485.5 L861.4,485.5 L862.1,485.5 L862.9,485.5 L863.6,485.5 L864.4,485.5 L865.2,485.5 L865.9,485.5 L866.7,485.4 L867.4,485.4 L868.2,485.4 L868.9,485.4 L869.7,485.4 L870.5,485.4 L871.2,485.4 L872.0,485.4 L872.7,485.4 L873.5,485.4 L874.2,485.4 L875.0,485.4 L875.7,485.5 L876.5,485.5 L877.2,485.5 L878.0,485.5 L878.7,485.5 L879.5,485.5 L880.2,485.5 L881.0,485.5"/>
<path d="M94.5,45.5 L94.8,46.2 L95.0,46.9 L95.3,47.7 L95.5,48.4 L95.8,49.1 L96.0,49.8 L96.3,50.5 L96.6,51.3 L96.8,52.0 L97.1,52.7 L97.3,53.4 L97.6,54.1 L97.9,54.9 L98.1,55.6 L98.4,56.3 L98.6,57.0 L98.9,57.7 L99.2,58.4 L99.4,59.2 L99.7,59.9 L100.0,60.6 L100.2,61.3 L100.5,62.0 L100.7,62.7 L101.0,63.5 L101.3,64.2 L101.5,64.9 L101.8,65.6 L102.1,66.3 L102.3,67.0 L102.6,67.8 L102.8,68.5 L103.1,69.2 L103.4,69.9 L103.6,70.6 L103.9,71.3 L104.2,72.0 L104.4,72.8 L104.7,73.5 L105.0,74.2 L105.2,74.9 L105.5,75.6 L105.7,76.3 L106.0,77.0 L106.3,77.7 L106.5,78.5 L106.8,79.2 L107.1,79.9 L107.3,80.6 L107.6,81.3 L107.9,82.0 L108.1,82.7 L108.4,83.5 L108.7,84.2 L108.9,84.9 L109.2,85.6 L109.4,86.3 L109.7,87.0 L110.0,87.7 L110.2,88.4 L110.5,89.2 L110.8,89.9 L111.0,90.6 L111.3,91.3 L111.6,92.0 L111.8,92.7 L112.1,93.4 L112.4,94.1 L112.6,94.9 L112.9,95.6 L113.2,96.3 L113.4,97.0 L113.7,97.7 L113.9,98.4 L114.2,99.1 L114.5,99.8 L114.7,100.6 L115.0,101.3 L115.3,102.0 L115.5,102.7 L115.8,103.4 L116.1,104.1 L116.3,104.8 L116.6,105.5 L116.8,106.3 L117.1,107.0 L117.4,107.7 L117.6,108.4 L117.9,109.1 L118.2,109.8 L118.4,110.5 L118.7,111.3 L118.9,112.0 L119.2,112.7 L119.5,113.4 L119.7,114.1 L120.0,114.8 L120.3,115.5 L120.5,116.3 L120.8,117.0 L121.0,117.7 L121.3,118.4 L121.6,119.1 L121.8,119.8 L122.1,120.6 L122.3,121.3 L122.6,122.0 L122.9,122.7 L123.1,123.4 L123.4,124.1 L123.6,124.9 L123.9,125.6 L124.1,126.3 L124.4,127.0 L124.7,127.7 L124.9,128.4 L125.2,129.2 L125.4,129.9 L125.7,130.6 L125.9,131.3 L126.2,132.0 L126.5,132.8 L126.7,133.5 L127.0,134.2 L127.2,134.9 L127.5,135.6 L127.7,136.4 L128.0,137.1 L128.2,137.8 L128.5,138.5 L128.8,139.2 L129.0,140.0 L129.3,140.7 L129.5,141.4 L129.8,142.1 L130.0,142.8 L130.3,143.6 L130.5,144.3 L130.8,145.0 L131.0,145.7 L131.3,146.4 L131.6,147.2 L131.8,147.9 L132.1,148.6 L132.3,149.3 L132.6,150.1 L132.8,150.8 L133.1,151.5 L133.3,152.2 L133.6,152.9 L133.8,153.7 L134.1,154.4 L134.3,155.1 L134.6,155.8 L134.8,156.6 L135.1,157.3 L135.3,158.0 L135.6,158.7 L135.8,159.4 L136.1,160.2 L136.3,160.9 L136.6,161.6 L136.9,162.3 L137.1,163.1 L137.4,163.8 L137.6,164.5 L137.9,165.2 L138.1,165.9 L138.4,166.7 L138.6,167.4 L138.9,168.1 L139.1,168.8 L139.4,169.6 L139.6,170.3 L139.9,171.0 L140.1,171.7 L140.4,172.5 L140.6,173.2 L140.9,173.9 L141.1,174.6 L141.4,175.3 L141.6,176.1 L141.9,176.8 L142.1,177.5 L142.4,178.2 L142.6,179.0 L142.9,179.7 L143.1,180.4 L143.4,181.1 L143.6,181.9 L143.9,182.6 L144.1,183.3 L144.4,184.0 L144.6,184.7 L144.9,185.5 L145.1,186.2 L145.4,186.9 L145.7,187.6 L145.9,188.4 L146.2,189.1 L146.4,189.8 L146.7,190.5 L146.9,191.3 L147.2,192.0 L147.4,192.7 L147.7,193.4 L147.9,194.1 L148.2,194.9 L148.4,195.6 L148.7,196.3 L148.9,197.0 L149.2,197.8 L149.4,198.5 L149.7,199.2 L149.9,199.9 L150.2,200.6 L150.4,201.4 L150.7,202.1 L150.9,202.8 L151.2,203.5 L151.5,204.2 L151.7,205.0 L152.0,205.7 L152.2,206.4 L152.5,207.1 L152.7,207.9 L153.0,208.6 L153.2,209.3 L153.5,210.0 L153.7,210.7 L154.0,211.5 L154.3,212.2 L154.5,212.9 L154.8,213.6 L155.0,214.3 L155.3,215.1 L155.5,215.8 L155.8,216.5 L156.0,217.2 L156.3,217.9 L156.6,218.7 L156.8,219.4 L157.1,220.1 L157.3,220.8 L157.6,221.5 L157.8,222.2 L158.1,223.0 L158.4,223.7 L158.6,224.4 L158.9,225.1 L159.1,225.8 L159.4,226.5 L159.6,227.3 L159.9,228.0 L160.2,228.7 L160.4,229.4 L160.7,230.1 L160.9,230.8 L161.2,231.6 L161.5,232.3 L161.7,233.0 L162.0,233.7 L162.2,234.4 L162.5,235.1 L162.8,235.9 L163.0,236.6 L163.3,237.3 L163.5,238.0 L163.8,238.7 L164.1,239.4 L164.3,240.1 L164.6,240.9 L164.9,241.6 L165.1,242.3 L165.4,243.0 L165.6,243.7 L165.9,244.4 L166.2,245.1 L166.4,245.8 L166.7,246.5 L167.0,247.3 L167.2,248.0 L167.5,248.7 L167.8,249.4 L168.0,250.1 L168.3,250.8 L168.6,251.5 L168.8,252.2 L169.1,252.9 L169.4,253.7 L169.6,254.4 L169.9,255.1 L170.2,255.8 L170.4,256.5 L170.7,257.2 L171.0,257.9 L171.3,258.6 L171.5,259.3 L171.8,260.0 L172.1,260.7 L172.3,261.4 L172.6,262.2 L172.9,262.9 L173.2,263.6 L173.4,264.3 L173.7,265.0 L174.0,265.7 L174.3,266.4 L174.5,267.1 L174.8,267.8 L175.1,268.5 L175.4,269.2 L175.6,269.9 L175.9,270.6 L176.2,271.3 L176.5,272.0 L176.7,272.7 L177.0,273.4 L177.3,274.1 L177.6,274.9 L177.9,275.6 L178.1,276.3 L178.4,277.0 L178.7,277.7 L179.0,278.4 L179.3,279.1 L179.5,279.8 L179.8,280.5 L180.1,281.2 L180.4,281.9 L180.7,282.6 L181.0,283.3 L181.2,284.0 L181.5,284.7 L181.8,285.4 L182.1,286.1 L182.4,286.8 L182.7,287.5 L183.0,288.2 L183.2,288.9 L183.5,289.6 L183.8,290.3 L184.1,291.0 L184.4,291.7 L184.7,292.4 L185.0,293.1 L185.3,293.8 L185.6,294.5 L185.9,295.2 L186.2,295.9 L186.4,296.6 L186.7,297.3 L187.0,298.0 L187.3,298.7 L187.6,299.4 L187.9,300.1 L188.2,300.8 L188.5,301.5 L188.8,302.2 L189.1,302.9 L189.4,303.6 L189.7,304.3 L190.0,305.0 L190.3,305.7 L190.6,306.4 L190.9,307.1 L191.2,307.8 L191.5,308.5 L191.8,309.2 L192.1,309.9 L192.4,310.6 L192.7,311.3 L193.0,312.0 L193.3,312.7 L193.6,313.4 L193.9,314.1 L194.3,314.8 L194.6,315.4 L194.9,316.1 L195.2,316.8 L195.5,317.5 L195.8,318.2 L196.1,318.9 L196.4,319.6 L196.7,320.3 L197.1,321.0 L197.4,321.7 L197.7,322.4 L198.0,323.1 L198.3,323.8 L198.6,324.5 L198.9,325.2 L199.3,325.9 L199.6,326.6 L199.9,327.3 L200.2,328.0 L200.5,328.7 L200.9,329.4 L201.2,330.1 L201.5,330.7 L201.8,331.4 L202.1,332.1 L202.5,332.8 L202.8,333.5 L203.1,334.2 L203.4,334.9 L203.8,335.6 L204.1,336.3 L204.4,337.0 L204.8,337.7 L205.1,338.4 L205.4,339.1 L205.8,339.8 L206.1,340.5 L206.4,341.2 L206.7,341.8 L207.1,342.5 L207.4,343.2 L207.8,343.9 L208.1,344.6 L208.4,345.3 L208.8,346.0 L209.1,346.7 L209.4,347.4 L209.8,348.1 L210.1,348.8 L210.5,349.5 L210.8,350.2 L211.1,350.9 L211.5,351.5 L211.8,352.2 L212.2,352.9 L212.5,353.6 L212.9,354.3 L213.2,355.0 L213.6,355.7 L213.9,356.4 L214.3,357.1 L214.6,357.8 L215.0,358.5 L215.3,359.2 L215.7,359.9 L216.0,360.5 L216.4,361.2 L216.7,361.9 L217.1,362.6 L217.5,363.3 L217.8,364.0 L218.2,364.7 L218.5,365.4 L218.9,366.1 L219.3,366.8 L219.6,367.5 L220.0,368.1 L220.4,368.8 L220.7,369.5 L221.1,370.2 L221.5,370.9 L221.8,371.6 L222.2,372.2 L222.6,372.9 L223.0,373.6 L223.3,374.3 L223.7,375.0 L224.1,375.6 L224.5,376.3 L224.9,377.0 L225.3,377.6 L225.7,378.3 L226.1,379.0 L226.5,379.6 L226.9,380.3 L227.3,381.0 L227.7,381.6 L228.1,382.3 L228.5,382.9 L228.9,383.6 L229.3,384.2 L229.7,384.9 L230.1,385.5 L230.6,386.2 L231.0,386.8 L231.4,387.4 L231.8,388.1 L232.3,388.7 L232.7,389.3 L233.2,389.9 L233.6,390.6 L234.0,391.2 L234.5,391.8 L234.9,392.4 L235.4,393.0 L235.9,393.6 L236.3,394.2 L236.8,394.8 L237.3,395.4 L237.7,396.0 L238.2,396.6 L238.7,397.2 L239.2,397.7 L239.7,398.3 L240.1,398.9 L240.6,399.4 L241.1,400.0 L241.6,400.5 L242.1,401.1 L242.7,401.6 L243.2,402.2 L243.7,402.7 L244.2,403.3 L244.7,403.8 L245.3,404.3 L245.8,404.8 L246.4,405.3 L246.9,405.9 L247.5,406.4 L248.0,406.9 L248.6,407.3 L249.1,407.8 L249.7,408.3 L250.3,408.8 L250.9,409.3 L251.4,409.7 L252.0,410.2 L252.6,410.6 L253.2,411.1 L253.8,411.5 L254.4,412.0 L255.0,412.4 L255.7,412.8 L256.3,413.2 L256.9,413.7 L257.6,414.1 L258.2,414.5 L258.8,414.9 L259.5,415.2 L260.1,415.6 L260.8,416.0 L261.5,416.4 L262.2,416.7 L262.8,417.1 L263.5,417.4 L264.2,417.7 L264.9,418.0 L265.6,418.3 L266.3,418.5 L267.0,418.8 L267.7,419.0 L268.4,419.2 L269.1,419.4 L269.9,419.6 L270.6,419.7 L271.3,419.8 L272.0,419.9 L272.8,420.0 L273.5,420.0 L274.3,420.1 L275.0,420.1 L275.7,420.1 L276.5,420.0 L277.2,420.0 L278.0,419.9 L278.7,419.8 L279.5,419.7 L280.3,419.6 L281.0,419.5 L281.8,419.4 L282.5,419.2 L283.3,419.1 L284.0,418.9 L284.8,418.8 L285.6,418.6 L286.3,418.4 L287.1,418.2 L287.8,418.1 L288.6,417.9 L289.3,417.7 L290.1,417.5 L290.8,417.3 L291.6,417.1 L292.3,416.9 L293.1,416.7 L293.8,416.5 L294.6,416.3 L295.3,416.1 L296.0,415.9 L296.8,415.7 L297.5,415.5 L298.3,415.3 L299.0,415.1 L299.7,414.9 L300.5,414.7 L301.2,414.5 L301.9,414.3 L302.7,414.1 L303.4,413.8 L304.1,413.6 L304.9,413.4 L305.6,413.2 L306.3,413.0 L307.1,412.8 L307.8,412.5 L308.5,412.3 L309.2,412.1 L310.0,411.9 L310.7,411.6 L311.4,411.4 L312.1,411.2 L312.8,410.9 L313.6,410.7 L314.3,410.5 L315.0,410.2 L315.7,410.0 L316.5,409.8 L317.2,409.5 L317.9,409.3 L318.6,409.0 L319.3,408.8 L320.0,408.6 L320.8,408.3 L321.5,408.1 L322.2,407.8 L322.9,407.6 L323.6,407.3 L324.3,407.1 L325.0,406.8 L325.8,406.6 L326.5,406.3 L327.2,406.1 L327.9,405.8 L328.6,405.5 L329.3,405.3 L330.0,405.0 L330.7,404.8 L331.4,404.5 L332.2,404.2 L332.9,404.0 L333.6,403.7 L334.3,403.4 L335.0,403.2 L335.7,402.9 L336.4,402.6 L337.1,402.3 L337.8,402.1 L338.6,401.8 L339.3,401.5 L340.0,401.2 L340.7,400.9 L341.4,400.7 L342.1,400.4 L342.8,400.1 L343.5,399.8 L344.2,399.5 L345.0,399.2 L345.7,399.0 L346.4,398.7 L347.1,398.4 L347.8,398.1 L348.5,397.8 L349.2,397.5 L349.9,397.2 L350.7,396.9 L351.4,396.7 L352.1,396.4 L352.8,396.1 L353.5,395.8 L354.2,395.5 L354.9,395.2 L355.7,394.9 L356.4,394.6 L357.1,394.4 L357.8,394.1 L358.5,393.8 L359.2,393.5 L360.0,393.2 L360.7,392.9 L361.4,392.7 L362.1,392.4 L362.8,392.1 L363.5,391.8 L364.3,391.6 L365.0,391.3 L365.7,391.0 L366.4,390.8 L367.1,390.5 L367.9,390.2 L368.6,390.0 L369.3,389.7 L370.0,389.5 L370.8,389.2 L371.5,389.0 L372.2,388.7 L372.9,388.5 L373.7,388.2 L374.4,388.0 L375.1,387.7 L375.8,387.5 L376.6,387.3 L377.3,387.0 L378.0,386.8 L378.8,386.6 L379.5,386.4 L380.2,386.2 L381.0,385.9 L381.7,385.7 L382.4,385.5 L383.2,385.3 L383.9,385.1 L384.6,384.9 L385.4,384.8 L386.1,384.6 L386.8,384.4 L387.6,384.2 L388.3,384.0 L389.1,383.9 L389.8,383.7 L390.5,383.6 L391.3,383.4 L392.0,383.3 L392.8,383.1 L393.5,383.0 L394.3,382.8 L395.0,382.7 L395.8,382.6 L396.5,382.5 L397.3,382.4 L398.0,382.3 L398.8,382.2 L399.5,382.1 L400.3,382.0 L401.0,381.9 L401.8,381.8 L402.5,381.8 L403.3,381.7 L404.1,381.6 L404.8,381.6 L405.6,381.5 L406.3,381.5 L407.1,381.5 L407.9,381.4 L408.6,381.4 L409.4,381.4 L410.1,381.4 L410.9,381.4 L411.7,381.4 L412.4,381.4 L413.2,381.4 L414.0,381.5 L414.7,381.5 L415.5,381.5 L416.2,381.6 L417.0,381.7 L417.8,381.7 L418.5,381.8 L419.3,381.9 L420.0,381.9 L420.8,382.0 L421.5,382.1 L422.3,382.2 L423.0,382.4 L423.8,382.5 L424.5,382.6 L425.3,382.7 L426.0,382.9 L426.8,383.0 L427.5,383.2 L428.2,383.4 L429.0,383.5 L429.7,383.7 L430.5,383.9 L431.2,384.1 L431.9,384.3 L432.6,384.5 L433.4,384.8 L434.1,385.0 L434.8,385.2 L435.5,385.5 L436.2,385.7 L437.0,386.0 L437.7,386.2 L438.4,386.5 L439.1,386.8 L439.8,387.1 L440.5,387.4 L441.2,387.6 L441.9,387.9 L442.6,388.3 L443.3,388.6 L444.0,388.9 L444.7,389.2 L445.4,389.5 L446.1,389.9 L446.8,390.2 L447.5,390.5 L448.2,390.9 L448.9,391.2 L449.5,391.6 L450.2,391.9 L450.9,392.3 L451.6,392.6 L452.3,393.0 L453.0,393.4 L453.6,393.8 L454.3,394.1 L455.0,394.5 L455.7,394.9 L456.3,395.3 L457.0,395.7 L457.7,396.0 L458.4,396.4 L459.0,396.8 L459.7,397.2 L460.4,397.6 L461.0,398.0 L461.7,398.4 L462.4,398.8 L463.0,399.2 L463.7,399.6 L464.4,400.0 L465.0,400.4 L465.7,400.8 L466.4,401.2 L467.0,401.6 L467.7,402.0 L468.4,402.4 L469.0,402.7 L469.7,403.1 L470.4,403.5 L471.0,403.9 L471.7,404.3 L472.4,404.7 L473.0,405.1 L473.7,405.5 L474.3,405.9 L475.0,406.3 L475.7,406.6 L476.3,407.0 L477.0,407.4 L477.7,407.8 L478.3,408.1 L479.0,408.5 L479.7,408.9 L480.3,409.2 L481.0,409.6 L481.7,410.0 L482.3,410.3 L483.0,410.7 L483.6,411.0 L484.3,411.4 L485.0,411.7 L485.6,412.1 L486.3,412.4 L487.0,412.8 L487.7,413.1 L488.3,413.5 L489.0,413.8 L489.7,414.2 L490.3,414.5 L491.0,414.9 L491.7,415.2 L492.3,415.6 L493.0,415.9 L493.7,416.2 L494.4,416.6 L495.0,416.9 L495.7,417.3 L496.4,417.6 L497.0,418.0 L497.7,418.3 L498.4,418.6 L499.1,419.0 L499.8,419.3 L500.4,419.7 L501.1,420.0 L501.8,420.4 L502.5,420.7 L503.1,421.0 L503.8,421.4 L504.5,421.7 L505.2,422.1 L505.9,422.4 L506.6,422.8 L507.2,423.1 L507.9,423.4 L508.6,423.8 L509.3,424.1 L510.0,424.4 L510.7,424.8 L511.4,425.1 L512.1,425.4 L512.7,425.8 L513.4,426.1 L514.1,426.4 L514.8,426.7 L515.5,427.1 L516.2,427.4 L516.9,427.7 L517.6,428.0 L518.3,428.3 L519.0,428.6 L519.7,428.9 L520.4,429.2 L521.1,429.5 L521.8,429.8 L522.5,430.1 L523.2,430.4 L523.9,430.7 L524.6,431.0 L525.3,431.3 L526.0,431.6 L526.7,431.9 L527.4,432.2 L528.1,432.5 L528.8,432.8 L529.5,433.1 L530.2,433.4 L530.9,433.7 L531.6,434.0 L532.3,434.3 L533.0,434.6 L533.7,434.9 L534.4,435.2 L535.1,435.5 L535.8,435.8 L536.5,436.1 L537.2,436.4 L537.9,436.7 L538.6,437.0 L539.3,437.4 L540.0,437.7 L540.7,438.0 L541.4,438.3 L542.0,438.7 L542.7,439.0 L543.4,439.3 L544.1,439.7 L544.8,440.0 L545.4,440.4 L546.1,440.7 L546.8,441.1 L547.5,441.5 L548.1,441.8 L548.8,442.2 L549.5,442.6 L550.1,443.0 L550.8,443.4 L551.4,443.7 L552.1,444.1 L552.8,444.5 L553.4,444.9 L554.1,445.3 L554.7,445.7 L555.4,446.1 L556.1,446.5 L556.7,446.9 L557.4,447.3 L558.0,447.7 L558.7,448.1 L559.3,448.4 L560.0,448.8 L560.7,449.2 L561.3,449.6 L562.0,450.0 L562.7,450.4 L563.3,450.8 L564.0,451.1 L564.6,451.5 L565.3,451.9 L566.0,452.3 L566.7,452.6 L567.3,453.0 L568.0,453.3 L568.7,453.7 L569.4,454.0 L570.0,454.4 L570.7,454.7 L571.4,455.0 L572.1,455.4 L572.8,455.7 L573.5,456.0 L574.2,456.3 L574.9,456.6 L575.6,456.9 L576.3,457.2 L577.0,457.5 L577.7,457.8 L578.4,458.1 L579.1,458.4 L579.8,458.7 L580.5,459.0 L581.2,459.3 L581.9,459.5 L582.6,459.8 L583.3,460.1 L584.0,460.3 L584.7,460.6 L585.5,460.8 L586.2,461.1 L586.9,461.3 L587.6,461.6 L588.3,461.8 L589.1,462.1 L589.8,462.3 L590.5,462.6 L591.2,462.8 L591.9,463.0 L592.7,463.3 L593.4,463.5 L594.1,463.7 L594.8,463.9 L595.6,464.1 L596.3,464.4 L597.0,464.6 L597.7,464.8 L598.5,465.0 L599.2,465.2 L599.9,465.4 L600.7,465.6 L601.4,465.8 L602.1,466.0 L602.9,466.2 L603.6,466.4 L604.3,466.6 L605.1,466.8 L605.8,467.0 L606.5,467.2 L607.3,467.3 L608.0,467.5 L608.7,467.7 L609.5,467.9 L610.2,468.1 L610.9,468.2 L611.7,468.4 L612.4,468.6 L613.2,468.7 L613.9,468.9 L614.6,469.1 L615.4,469.2 L616.1,469.4 L616.9,469.6 L617.6,469.7 L618.4,469.9 L619.1,470.0 L619.8,470.2 L620.6,470.3 L621.3,470.5 L622.1,470.6 L622.8,470.8 L623.6,470.9 L624.3,471.0 L625.1,471.2 L625.8,471.3 L626.6,471.4 L627.3,471.6 L628.1,471.7 L628.8,471.8 L629.6,472.0 L630.3,472.1 L631.1,472.2 L631.8,472.4 L632.6,472.5 L633.3,472.6 L634.1,472.7 L634.8,472.8 L635.6,473.0 L636.3,473.1 L637.1,473.2 L637.8,473.3 L638.6,473.4 L639.3,473.5 L640.1,473.6 L640.8,473.7 L641.6,473.8 L642.3,474.0 L643.1,474.1 L643.9,474.2 L644.6,474.3 L645.4,474.4 L646.1,474.5 L646.9,474.6 L647.6,474.7 L648.4,474.8 L649.2,474.9 L649.9,474.9 L650.7,475.0 L651.4,475.1 L652.2,475.2 L653.0,475.3 L653.7,475.4 L654.5,475.5 L655.2,475.6 L656.0,475.7 L656.7,475.8 L657.5,475.8 L658.3,475.9 L659.0,476.0 L659.8,476.1 L660.5,476.2 L661.3,476.3 L662.1,476.3 L662.8,476.4 L663.6,476.5 L664.4,476.6 L665.1,476.7 L665.9,476.7 L666.6,476.8 L667.4,476.9 L668.2,477.0 L668.9,477.0 L669.7,477.1 L670.5,477.2 L671.2,477.3 L672.0,477.3 L672.7,477.4 L673.5,477.5 L674.3,477.6 L675.0,477.6 L675.8,477.7 L676.6,477.8 L677.3,477.8 L678.1,477.9 L678.8,478.0 L679.6,478.1 L680.4,478.1 L681.1,478.2 L681.9,478.3 L682.7,478.3 L683.4,478.4 L684.2,478.5 L684.9,478.5 L685.7,478.6 L686.5,478.7 L687.2,478.7 L688.0,478.8 L688.8,478.9 L689.5,479.0 L690.3,479.0 L691.0,479.1 L691.8,479.2 L692.6,479.2 L693.3,479.3 L694.1,479.4 L694.9,479.4 L695.6,479.5 L696.4,479.6 L697.1,479.6 L697.9,479.7 L698.7,479.8 L699.4,479.8 L700.2,479.9 L701.0,480.0 L701.7,480.1 L702.5,480.1 L703.2,480.2 L704.0,480.3 L704.8,480.3 L705.5,480.4 L706.3,480.5 L707.0,480.6 L707.8,480.6 L708.6,480.7 L709.3,480.8 L710.1,480.8 L710.8,480.9 L711.6,481.0 L712.4,481.1 L713.1,481.1 L713.9,481.2 L714.6,481.3 L715.4,481.4 L716.2,481.4 L716.9,481.5 L717.7,481.6 L718.4,481.6 L719.2,481.7 L719.9,481.8 L720.7,481.9 L721.5,481.9 L722.2,482.0 L723.0,482.1 L723.7,482.2 L724.5,482.2 L725.3,482.3 L726.0,482.4 L726.8,482.5 L727.5,482.5 L728.3,482.6 L729.0,482.7 L729.8,482.7 L730.6,482.8 L731.3,482.9 L732.1,483.0 L732.8,483.0 L733.6,483.1 L734.3,483.2 L735.1,483.3 L735.9,483.3 L736.6,483.4 L737.4,483.5 L738.1,483.5 L738.9,483.6 L739.7,483.7 L740.4,483.8 L741.2,483.8 L741.9,483.9 L742.7,484.0 L743.4,484.0 L744.2,484.1 L745.0,484.2 L745.7,484.2 L746.5,484.3 L747.2,484.4 L748.0,484.4 L748.7,484.5 L749.5,484.6 L750.2,484.6 L751.0,484.7 L751.8,484.8 L752.5,484.8 L753.3,484.9 L754.0,485.0 L754.8,485.0 L755.5,485.1 L756.3,485.2 L757.1,485.2 L757.8,485.3 L758.6,485.4 L759.3,485.4 L760.1,485.5 L760.8,485.6 L761.6,485.6 L762.4,485.7 L763.1,485.7 L763.9,485.8 L764.6,485.9 L765.4,485.9 L766.1,486.0 L766.9,486.0 L767.7,486.1 L768.4,486.1 L769.2,486.2 L769.9,486.3 L770.7,486.3 L771.5,486.4 L772.2,486.4 L773.0,486.5 L773.7,486.5 L774.5,486.6 L775.2,486.6 L776.0,486.7 L776.8,486.7 L777.5,486.8 L778.3,486.8 L779.0,486.9 L779.8,486.9 L780.5,487.0 L781.3,487.0 L782.1,487.1 L782.8,487.1 L783.6,487.2 L784.3,487.2 L785.1,487.2 L785.9,487.3 L786.6,487.3 L787.4,487.4 L788.1,487.4 L788.9,487.5 L789.7,487.5 L790.4,487.5 L791.2,487.6 L791.9,487.6 L792.7,487.6 L793.5,487.7 L794.2,487.7 L795.0,487.7 L795.7,487.8 L796.5,487.8 L797.3,487.8 L798.0,487.9 L798.8,487.9 L799.5,487.9 L800.3,487.9 L801.1,488.0 L801.8,488.0 L802.6,488.0 L803.3,488.0 L804.1,488.1 L804.9,488.1 L805.6,488.1 L806.4,488.1 L807.2,488.1 L807.9,488.2 L808.7,488.2 L809.4,488.2 L810.2,488.2 L811.0,488.2 L811.7,488.2 L812.5,488.2 L813.3,488.3 L814.0,488.3 L814.8,488.3 L815.6,488.3 L816.3,488.3 L817.1,488.3 L817.8,488.3 L818.6,488.3 L819.4,488.3 L820.1,488.3 L820.9,488.3 L821.7,488.3 L822.4,488.3 L823.2,488.3 L824.0,488.3 L824.7,488.3 L825.5,488.3 L826.3,488.3 L827.0,488.3 L827.8,488.3 L828.6,488.3 L829.3,488.3 L830.1,488.3 L830.9,488.3 L831.6,488.3 L832.4,488.3 L833.2,488.3 L833.9,488.3 L834.7,488.3 L835.4,488.3 L836.2,488.3 L837.0,488.3 L837.7,488.4 L838.5,488.4 L839.3,488.4 L840.0,488.4 L840.8,488.4 L841.6,488.4 L842.3,488.4 L843.1,488.4 L843.9,488.4 L844.6,488.4 L845.4,488.4 L846.2,488.4 L846.9,488.4 L847.7,488.4 L848.5,488.4 L849.2,488.5 L850.0,488.5 L850.8,488.5 L851.5,488.5 L852.3,488.5 L853.0,488.5 L853.8,488.6 L854.6,488.6 L855.3,488.6 L856.1,488.6 L856.9,488.6 L857.6,488.7 L858.4,488.7 L859.2,488.7 L859.9,488.8 L860.7,488.8 L861.4,488.8 L862.2,488.9 L863.0,488.9 L863.7,488.9 L864.5,489.0 L865.3,489.0 L866.0,489.1 L866.8,489.1 L867.5,489.1 L868.3,489.2 L869.1,489.2 L869.8,489.3 L870.6,489.4 L871.3,489.4 L872.1,489.5 L872.9,489.5 L873.6,489.6 L874.4,489.7 L875.1,489.7 L875.9,489.8 L876.7,489.9 L877.4,489.9 L878.2,490.0 L878.9,490.1 L879.7,490.2 L880.4,490.3 L881.2,490.4 L882.0,490.4 L882.7,490.5 L883.5,490.6 L884.2,490.7 L885.0,490.8 L885.7,490.9 L886.5,491.0 L887.2,491.2 L888.0,491.3 L888.7,491.4 L889.5,491.5"/>
</g>
<polyline points="94.6,8 94.6,499.4 975.6,499.4" stroke="#000" stroke-width="2.5" fill="none" stroke-linejoin="round"/>
<g fill="#000" font-size="21.5px" text-anchor="end">
<text x="72.7" y="14.6" textLength="30.6" lengthAdjust="spacingAndGlyphs">1.5</text>
<text x="72.9" y="178.5" textLength="13.0" lengthAdjust="spacingAndGlyphs">1</text>
<text x="72.7" y="343.8" textLength="30.6" lengthAdjust="spacingAndGlyphs">0.5</text>
<text x="73.3" y="507.6" textLength="13.1" lengthAdjust="spacingAndGlyphs">0</text>
</g>
<g fill="#000" font-size="21.5px" text-anchor="middle">
<text x="94.8" y="537.9" textLength="36.1" lengthAdjust="spacingAndGlyphs">200</text>
<text x="315.4" y="537.9" textLength="36.1" lengthAdjust="spacingAndGlyphs">250</text>
<text x="535.3" y="537.9" textLength="36.1" lengthAdjust="spacingAndGlyphs">300</text>
<text x="755.4" y="537.9" textLength="36.1" lengthAdjust="spacingAndGlyphs">350</text>
<text x="975.5" y="537.9" textLength="36.1" lengthAdjust="spacingAndGlyphs">400</text>
</g>
<text x="395.5" y="621.0" font-size="25.4px" fill="#000" textLength="199.5" lengthAdjust="spacingAndGlyphs">Wavelenght (nm)</text>
<text transform="translate(20.5,408.2) rotate(-90)" font-size="25px" fill="#000" textLength="206.6" lengthAdjust="spacingAndGlyphs">Absorbance (a.u.)</text>
<g fill="#0000cc" font-size="24px">
<text x="771.2" y="40.8" textLength="61.4" lengthAdjust="spacingAndGlyphs">0 min</text>
<text x="771.6" y="444.9" textLength="86.6" lengthAdjust="spacingAndGlyphs">200 min</text>
</g>
<line x1="809.9" y1="51.1" x2="813.5" y2="392" stroke="#7030a0" stroke-width="4.6" stroke-dasharray="35.7 13.9 4.4 13.5 4.4 13.3"/>
<path d="M806.5,391 L821,391 L813.7,405.2 Z" fill="#7030a0"/>
</svg>
</body></html>
